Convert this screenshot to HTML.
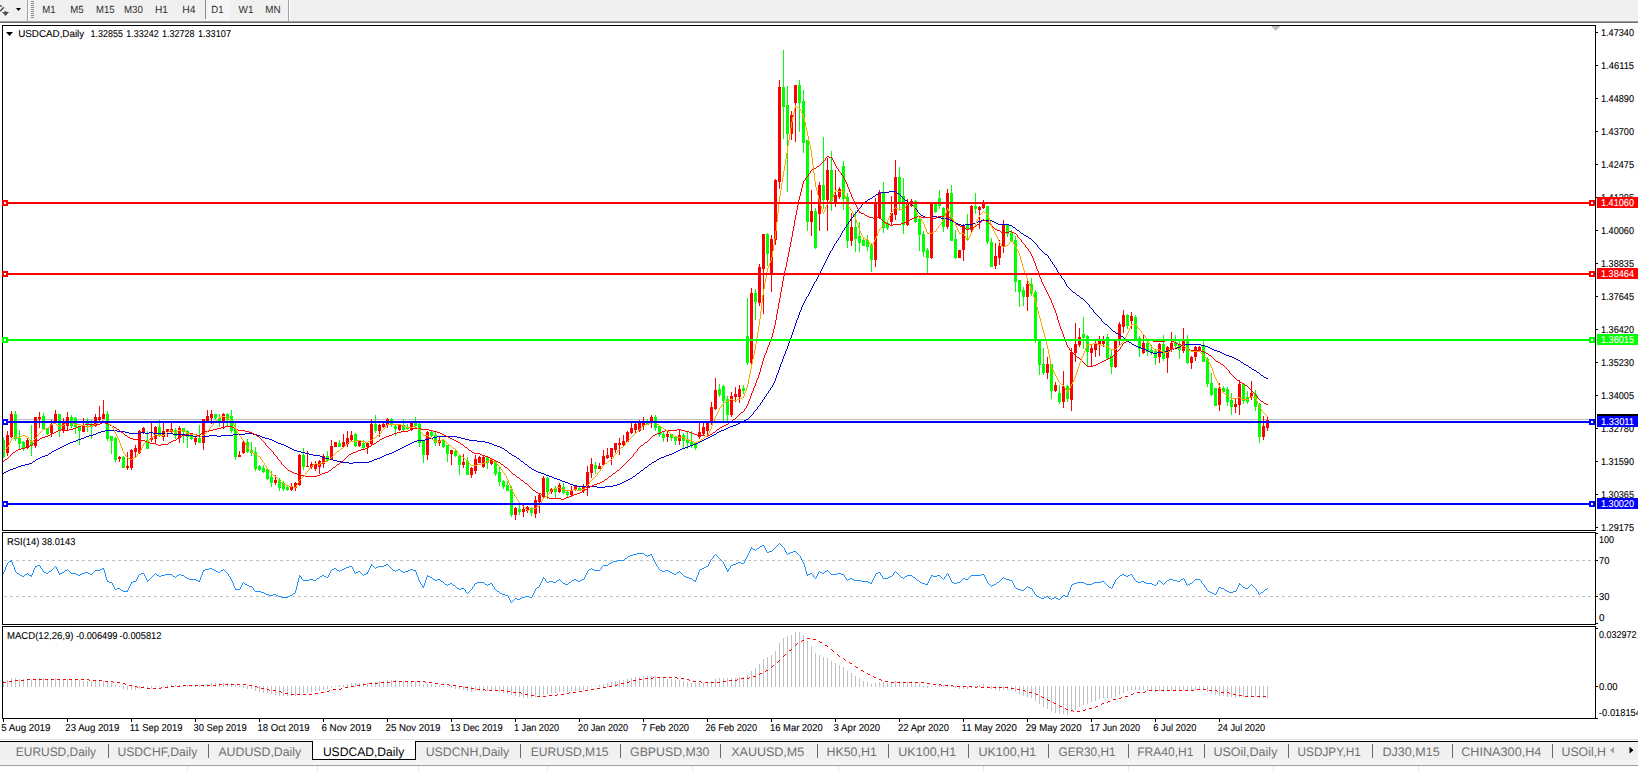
<!DOCTYPE html>
<html><head><meta charset="utf-8"><style>html,body{margin:0;padding:0;width:1638px;height:771px;overflow:hidden;background:#fff}text{font-family:"Liberation Sans",sans-serif}</style></head><body>
<svg width="1638" height="771" viewBox="0 0 1638 771" style="position:absolute;left:0;top:0" font-family="Liberation Sans, sans-serif">
<g shape-rendering="crispEdges">
<rect x="0" y="0" width="1638" height="771" fill="#ffffff"/>
<rect x="0" y="0" width="1638" height="21" fill="#f0f0f0"/>
<rect x="0" y="21" width="1638" height="1" fill="#a0a0a0"/>
<rect x="0" y="22" width="1638" height="1" fill="#6a6a6a"/>
<rect x="27" y="0" width="1" height="21" fill="#a0a0a0"/>
<rect x="28" y="0" width="1" height="21" fill="#ffffff"/>
<rect x="31" y="1" width="3" height="1" fill="#8a8a8a"/>
<rect x="31" y="3" width="3" height="1" fill="#8a8a8a"/>
<rect x="31" y="5" width="3" height="1" fill="#8a8a8a"/>
<rect x="31" y="7" width="3" height="1" fill="#8a8a8a"/>
<rect x="31" y="9" width="3" height="1" fill="#8a8a8a"/>
<rect x="31" y="11" width="3" height="1" fill="#8a8a8a"/>
<rect x="31" y="13" width="3" height="1" fill="#8a8a8a"/>
<rect x="31" y="15" width="3" height="1" fill="#8a8a8a"/>
<rect x="31" y="17" width="3" height="1" fill="#8a8a8a"/>
<rect x="205" y="0" width="1" height="19" fill="#8a8a8a"/>
<rect x="206" y="0" width="24" height="19" fill="#f5f5f5"/>
<rect x="206" y="19" width="24" height="1" fill="#fcfcfc"/>
<rect x="288" y="0" width="1" height="21" fill="#a0a0a0"/>
<rect x="289" y="0" width="1" height="21" fill="#ffffff"/>
</g>
<path d="M0 5.6 L1.8 6.2 M3.9 7.3 L0.1 11.3" stroke="#505050" stroke-width="1.5" fill="none"/>
<rect x="4.5" y="11.2" width="2" height="1.2" fill="#505050"/>
<polygon points="2,12 9,12 5.5,16" fill="#505050"/>
<polygon points="16,8 21,8 18.5,11" fill="#000"/>
<text x="42.2" y="13" font-size="10.4" fill="#303030" stroke="#303030" stroke-width="0" text-rendering="geometricPrecision" textLength="13.4" lengthAdjust="spacingAndGlyphs">M1</text>
<text x="70.2" y="13" font-size="10.4" fill="#303030" stroke="#303030" stroke-width="0" text-rendering="geometricPrecision" textLength="13.4" lengthAdjust="spacingAndGlyphs">M5</text>
<text x="96.0" y="13" font-size="10.4" fill="#303030" stroke="#303030" stroke-width="0" text-rendering="geometricPrecision" textLength="18.5" lengthAdjust="spacingAndGlyphs">M15</text>
<text x="124.0" y="13" font-size="10.4" fill="#303030" stroke="#303030" stroke-width="0" text-rendering="geometricPrecision" textLength="18.9" lengthAdjust="spacingAndGlyphs">M30</text>
<text x="155.0" y="13" font-size="10.4" fill="#303030" stroke="#303030" stroke-width="0" text-rendering="geometricPrecision" textLength="13.0" lengthAdjust="spacingAndGlyphs">H1</text>
<text x="182.2" y="13" font-size="10.4" fill="#303030" stroke="#303030" stroke-width="0" text-rendering="geometricPrecision" textLength="13.2" lengthAdjust="spacingAndGlyphs">H4</text>
<text x="211.3" y="13" font-size="10.4" fill="#303030" stroke="#303030" stroke-width="0" text-rendering="geometricPrecision" textLength="12.3" lengthAdjust="spacingAndGlyphs">D1</text>
<text x="238.5" y="13" font-size="10.4" fill="#303030" stroke="#303030" stroke-width="0" text-rendering="geometricPrecision" textLength="15" lengthAdjust="spacingAndGlyphs">W1</text>
<text x="265.3" y="13" font-size="10.4" fill="#303030" stroke="#303030" stroke-width="0" text-rendering="geometricPrecision" textLength="15.4" lengthAdjust="spacingAndGlyphs">MN</text>
<g shape-rendering="crispEdges">
<rect x="2" y="25" width="1594" height="1" fill="#000"/>
<rect x="2" y="530" width="1594" height="1" fill="#000"/>
<rect x="2" y="25" width="1" height="506" fill="#000"/>
<rect x="1595" y="25" width="1" height="506" fill="#000"/>
<rect x="2" y="532" width="1594" height="1" fill="#000"/>
<rect x="2" y="624" width="1594" height="1" fill="#000"/>
<rect x="2" y="532" width="1" height="93" fill="#000"/>
<rect x="1595" y="532" width="1" height="93" fill="#000"/>
<rect x="2" y="626" width="1594" height="1" fill="#000"/>
<rect x="2" y="718" width="1594" height="1" fill="#000"/>
<rect x="2" y="626" width="1" height="93" fill="#000"/>
<rect x="1595" y="626" width="1" height="93" fill="#000"/>
<rect x="1596" y="32" width="2" height="1" fill="#000"/>
<rect x="1596" y="65" width="2" height="1" fill="#000"/>
<rect x="1596" y="98" width="2" height="1" fill="#000"/>
<rect x="1596" y="131" width="2" height="1" fill="#000"/>
<rect x="1596" y="164" width="2" height="1" fill="#000"/>
<rect x="1596" y="197" width="2" height="1" fill="#000"/>
<rect x="1596" y="230" width="2" height="1" fill="#000"/>
<rect x="1596" y="263" width="2" height="1" fill="#000"/>
<rect x="1596" y="296" width="2" height="1" fill="#000"/>
<rect x="1596" y="329" width="2" height="1" fill="#000"/>
<rect x="1596" y="362" width="2" height="1" fill="#000"/>
<rect x="1596" y="395" width="2" height="1" fill="#000"/>
<rect x="1596" y="428" width="2" height="1" fill="#000"/>
<rect x="1596" y="461" width="2" height="1" fill="#000"/>
<rect x="1596" y="494" width="2" height="1" fill="#000"/>
<rect x="1596" y="527" width="2" height="1" fill="#000"/>
<rect x="1596" y="533" width="2" height="1" fill="#000"/>
<rect x="1596" y="560" width="2" height="1" fill="#000"/>
<rect x="1596" y="596" width="2" height="1" fill="#000"/>
<rect x="1596" y="623" width="2" height="1" fill="#000"/>
<rect x="1596" y="628" width="2" height="1" fill="#000"/>
<rect x="1596" y="686" width="2" height="1" fill="#000"/>
<rect x="1596" y="718" width="2" height="1" fill="#000"/>
<rect x="3" y="719" width="1" height="3" fill="#000"/>
<rect x="67" y="719" width="1" height="3" fill="#000"/>
<rect x="131" y="719" width="1" height="3" fill="#000"/>
<rect x="195" y="719" width="1" height="3" fill="#000"/>
<rect x="259" y="719" width="1" height="3" fill="#000"/>
<rect x="323" y="719" width="1" height="3" fill="#000"/>
<rect x="387" y="719" width="1" height="3" fill="#000"/>
<rect x="451" y="719" width="1" height="3" fill="#000"/>
<rect x="515" y="719" width="1" height="3" fill="#000"/>
<rect x="579" y="719" width="1" height="3" fill="#000"/>
<rect x="643" y="719" width="1" height="3" fill="#000"/>
<rect x="707" y="719" width="1" height="3" fill="#000"/>
<rect x="771" y="719" width="1" height="3" fill="#000"/>
<rect x="835" y="719" width="1" height="3" fill="#000"/>
<rect x="899" y="719" width="1" height="3" fill="#000"/>
<rect x="963" y="719" width="1" height="3" fill="#000"/>
<rect x="1027" y="719" width="1" height="3" fill="#000"/>
<rect x="1091" y="719" width="1" height="3" fill="#000"/>
<rect x="1155" y="719" width="1" height="3" fill="#000"/>
<rect x="1219" y="719" width="1" height="3" fill="#000"/>
<rect x="4" y="560" width="3" height="1" fill="#c0c0c0"/>
<rect x="10" y="560" width="3" height="1" fill="#c0c0c0"/>
<rect x="16" y="560" width="3" height="1" fill="#c0c0c0"/>
<rect x="22" y="560" width="3" height="1" fill="#c0c0c0"/>
<rect x="28" y="560" width="3" height="1" fill="#c0c0c0"/>
<rect x="34" y="560" width="3" height="1" fill="#c0c0c0"/>
<rect x="40" y="560" width="3" height="1" fill="#c0c0c0"/>
<rect x="46" y="560" width="3" height="1" fill="#c0c0c0"/>
<rect x="52" y="560" width="3" height="1" fill="#c0c0c0"/>
<rect x="58" y="560" width="3" height="1" fill="#c0c0c0"/>
<rect x="64" y="560" width="3" height="1" fill="#c0c0c0"/>
<rect x="70" y="560" width="3" height="1" fill="#c0c0c0"/>
<rect x="76" y="560" width="3" height="1" fill="#c0c0c0"/>
<rect x="82" y="560" width="3" height="1" fill="#c0c0c0"/>
<rect x="88" y="560" width="3" height="1" fill="#c0c0c0"/>
<rect x="94" y="560" width="3" height="1" fill="#c0c0c0"/>
<rect x="100" y="560" width="3" height="1" fill="#c0c0c0"/>
<rect x="106" y="560" width="3" height="1" fill="#c0c0c0"/>
<rect x="112" y="560" width="3" height="1" fill="#c0c0c0"/>
<rect x="118" y="560" width="3" height="1" fill="#c0c0c0"/>
<rect x="124" y="560" width="3" height="1" fill="#c0c0c0"/>
<rect x="130" y="560" width="3" height="1" fill="#c0c0c0"/>
<rect x="136" y="560" width="3" height="1" fill="#c0c0c0"/>
<rect x="142" y="560" width="3" height="1" fill="#c0c0c0"/>
<rect x="148" y="560" width="3" height="1" fill="#c0c0c0"/>
<rect x="154" y="560" width="3" height="1" fill="#c0c0c0"/>
<rect x="160" y="560" width="3" height="1" fill="#c0c0c0"/>
<rect x="166" y="560" width="3" height="1" fill="#c0c0c0"/>
<rect x="172" y="560" width="3" height="1" fill="#c0c0c0"/>
<rect x="178" y="560" width="3" height="1" fill="#c0c0c0"/>
<rect x="184" y="560" width="3" height="1" fill="#c0c0c0"/>
<rect x="190" y="560" width="3" height="1" fill="#c0c0c0"/>
<rect x="196" y="560" width="3" height="1" fill="#c0c0c0"/>
<rect x="202" y="560" width="3" height="1" fill="#c0c0c0"/>
<rect x="208" y="560" width="3" height="1" fill="#c0c0c0"/>
<rect x="214" y="560" width="3" height="1" fill="#c0c0c0"/>
<rect x="220" y="560" width="3" height="1" fill="#c0c0c0"/>
<rect x="226" y="560" width="3" height="1" fill="#c0c0c0"/>
<rect x="232" y="560" width="3" height="1" fill="#c0c0c0"/>
<rect x="238" y="560" width="3" height="1" fill="#c0c0c0"/>
<rect x="244" y="560" width="3" height="1" fill="#c0c0c0"/>
<rect x="250" y="560" width="3" height="1" fill="#c0c0c0"/>
<rect x="256" y="560" width="3" height="1" fill="#c0c0c0"/>
<rect x="262" y="560" width="3" height="1" fill="#c0c0c0"/>
<rect x="268" y="560" width="3" height="1" fill="#c0c0c0"/>
<rect x="274" y="560" width="3" height="1" fill="#c0c0c0"/>
<rect x="280" y="560" width="3" height="1" fill="#c0c0c0"/>
<rect x="286" y="560" width="3" height="1" fill="#c0c0c0"/>
<rect x="292" y="560" width="3" height="1" fill="#c0c0c0"/>
<rect x="298" y="560" width="3" height="1" fill="#c0c0c0"/>
<rect x="304" y="560" width="3" height="1" fill="#c0c0c0"/>
<rect x="310" y="560" width="3" height="1" fill="#c0c0c0"/>
<rect x="316" y="560" width="3" height="1" fill="#c0c0c0"/>
<rect x="322" y="560" width="3" height="1" fill="#c0c0c0"/>
<rect x="328" y="560" width="3" height="1" fill="#c0c0c0"/>
<rect x="334" y="560" width="3" height="1" fill="#c0c0c0"/>
<rect x="340" y="560" width="3" height="1" fill="#c0c0c0"/>
<rect x="346" y="560" width="3" height="1" fill="#c0c0c0"/>
<rect x="352" y="560" width="3" height="1" fill="#c0c0c0"/>
<rect x="358" y="560" width="3" height="1" fill="#c0c0c0"/>
<rect x="364" y="560" width="3" height="1" fill="#c0c0c0"/>
<rect x="370" y="560" width="3" height="1" fill="#c0c0c0"/>
<rect x="376" y="560" width="3" height="1" fill="#c0c0c0"/>
<rect x="382" y="560" width="3" height="1" fill="#c0c0c0"/>
<rect x="388" y="560" width="3" height="1" fill="#c0c0c0"/>
<rect x="394" y="560" width="3" height="1" fill="#c0c0c0"/>
<rect x="400" y="560" width="3" height="1" fill="#c0c0c0"/>
<rect x="406" y="560" width="3" height="1" fill="#c0c0c0"/>
<rect x="412" y="560" width="3" height="1" fill="#c0c0c0"/>
<rect x="418" y="560" width="3" height="1" fill="#c0c0c0"/>
<rect x="424" y="560" width="3" height="1" fill="#c0c0c0"/>
<rect x="430" y="560" width="3" height="1" fill="#c0c0c0"/>
<rect x="436" y="560" width="3" height="1" fill="#c0c0c0"/>
<rect x="442" y="560" width="3" height="1" fill="#c0c0c0"/>
<rect x="448" y="560" width="3" height="1" fill="#c0c0c0"/>
<rect x="454" y="560" width="3" height="1" fill="#c0c0c0"/>
<rect x="460" y="560" width="3" height="1" fill="#c0c0c0"/>
<rect x="466" y="560" width="3" height="1" fill="#c0c0c0"/>
<rect x="472" y="560" width="3" height="1" fill="#c0c0c0"/>
<rect x="478" y="560" width="3" height="1" fill="#c0c0c0"/>
<rect x="484" y="560" width="3" height="1" fill="#c0c0c0"/>
<rect x="490" y="560" width="3" height="1" fill="#c0c0c0"/>
<rect x="496" y="560" width="3" height="1" fill="#c0c0c0"/>
<rect x="502" y="560" width="3" height="1" fill="#c0c0c0"/>
<rect x="508" y="560" width="3" height="1" fill="#c0c0c0"/>
<rect x="514" y="560" width="3" height="1" fill="#c0c0c0"/>
<rect x="520" y="560" width="3" height="1" fill="#c0c0c0"/>
<rect x="526" y="560" width="3" height="1" fill="#c0c0c0"/>
<rect x="532" y="560" width="3" height="1" fill="#c0c0c0"/>
<rect x="538" y="560" width="3" height="1" fill="#c0c0c0"/>
<rect x="544" y="560" width="3" height="1" fill="#c0c0c0"/>
<rect x="550" y="560" width="3" height="1" fill="#c0c0c0"/>
<rect x="556" y="560" width="3" height="1" fill="#c0c0c0"/>
<rect x="562" y="560" width="3" height="1" fill="#c0c0c0"/>
<rect x="568" y="560" width="3" height="1" fill="#c0c0c0"/>
<rect x="574" y="560" width="3" height="1" fill="#c0c0c0"/>
<rect x="580" y="560" width="3" height="1" fill="#c0c0c0"/>
<rect x="586" y="560" width="3" height="1" fill="#c0c0c0"/>
<rect x="592" y="560" width="3" height="1" fill="#c0c0c0"/>
<rect x="598" y="560" width="3" height="1" fill="#c0c0c0"/>
<rect x="604" y="560" width="3" height="1" fill="#c0c0c0"/>
<rect x="610" y="560" width="3" height="1" fill="#c0c0c0"/>
<rect x="616" y="560" width="3" height="1" fill="#c0c0c0"/>
<rect x="622" y="560" width="3" height="1" fill="#c0c0c0"/>
<rect x="628" y="560" width="3" height="1" fill="#c0c0c0"/>
<rect x="634" y="560" width="3" height="1" fill="#c0c0c0"/>
<rect x="640" y="560" width="3" height="1" fill="#c0c0c0"/>
<rect x="646" y="560" width="3" height="1" fill="#c0c0c0"/>
<rect x="652" y="560" width="3" height="1" fill="#c0c0c0"/>
<rect x="658" y="560" width="3" height="1" fill="#c0c0c0"/>
<rect x="664" y="560" width="3" height="1" fill="#c0c0c0"/>
<rect x="670" y="560" width="3" height="1" fill="#c0c0c0"/>
<rect x="676" y="560" width="3" height="1" fill="#c0c0c0"/>
<rect x="682" y="560" width="3" height="1" fill="#c0c0c0"/>
<rect x="688" y="560" width="3" height="1" fill="#c0c0c0"/>
<rect x="694" y="560" width="3" height="1" fill="#c0c0c0"/>
<rect x="700" y="560" width="3" height="1" fill="#c0c0c0"/>
<rect x="706" y="560" width="3" height="1" fill="#c0c0c0"/>
<rect x="712" y="560" width="3" height="1" fill="#c0c0c0"/>
<rect x="718" y="560" width="3" height="1" fill="#c0c0c0"/>
<rect x="724" y="560" width="3" height="1" fill="#c0c0c0"/>
<rect x="730" y="560" width="3" height="1" fill="#c0c0c0"/>
<rect x="736" y="560" width="3" height="1" fill="#c0c0c0"/>
<rect x="742" y="560" width="3" height="1" fill="#c0c0c0"/>
<rect x="748" y="560" width="3" height="1" fill="#c0c0c0"/>
<rect x="754" y="560" width="3" height="1" fill="#c0c0c0"/>
<rect x="760" y="560" width="3" height="1" fill="#c0c0c0"/>
<rect x="766" y="560" width="3" height="1" fill="#c0c0c0"/>
<rect x="772" y="560" width="3" height="1" fill="#c0c0c0"/>
<rect x="778" y="560" width="3" height="1" fill="#c0c0c0"/>
<rect x="784" y="560" width="3" height="1" fill="#c0c0c0"/>
<rect x="790" y="560" width="3" height="1" fill="#c0c0c0"/>
<rect x="796" y="560" width="3" height="1" fill="#c0c0c0"/>
<rect x="802" y="560" width="3" height="1" fill="#c0c0c0"/>
<rect x="808" y="560" width="3" height="1" fill="#c0c0c0"/>
<rect x="814" y="560" width="3" height="1" fill="#c0c0c0"/>
<rect x="820" y="560" width="3" height="1" fill="#c0c0c0"/>
<rect x="826" y="560" width="3" height="1" fill="#c0c0c0"/>
<rect x="832" y="560" width="3" height="1" fill="#c0c0c0"/>
<rect x="838" y="560" width="3" height="1" fill="#c0c0c0"/>
<rect x="844" y="560" width="3" height="1" fill="#c0c0c0"/>
<rect x="850" y="560" width="3" height="1" fill="#c0c0c0"/>
<rect x="856" y="560" width="3" height="1" fill="#c0c0c0"/>
<rect x="862" y="560" width="3" height="1" fill="#c0c0c0"/>
<rect x="868" y="560" width="3" height="1" fill="#c0c0c0"/>
<rect x="874" y="560" width="3" height="1" fill="#c0c0c0"/>
<rect x="880" y="560" width="3" height="1" fill="#c0c0c0"/>
<rect x="886" y="560" width="3" height="1" fill="#c0c0c0"/>
<rect x="892" y="560" width="3" height="1" fill="#c0c0c0"/>
<rect x="898" y="560" width="3" height="1" fill="#c0c0c0"/>
<rect x="904" y="560" width="3" height="1" fill="#c0c0c0"/>
<rect x="910" y="560" width="3" height="1" fill="#c0c0c0"/>
<rect x="916" y="560" width="3" height="1" fill="#c0c0c0"/>
<rect x="922" y="560" width="3" height="1" fill="#c0c0c0"/>
<rect x="928" y="560" width="3" height="1" fill="#c0c0c0"/>
<rect x="934" y="560" width="3" height="1" fill="#c0c0c0"/>
<rect x="940" y="560" width="3" height="1" fill="#c0c0c0"/>
<rect x="946" y="560" width="3" height="1" fill="#c0c0c0"/>
<rect x="952" y="560" width="3" height="1" fill="#c0c0c0"/>
<rect x="958" y="560" width="3" height="1" fill="#c0c0c0"/>
<rect x="964" y="560" width="3" height="1" fill="#c0c0c0"/>
<rect x="970" y="560" width="3" height="1" fill="#c0c0c0"/>
<rect x="976" y="560" width="3" height="1" fill="#c0c0c0"/>
<rect x="982" y="560" width="3" height="1" fill="#c0c0c0"/>
<rect x="988" y="560" width="3" height="1" fill="#c0c0c0"/>
<rect x="994" y="560" width="3" height="1" fill="#c0c0c0"/>
<rect x="1000" y="560" width="3" height="1" fill="#c0c0c0"/>
<rect x="1006" y="560" width="3" height="1" fill="#c0c0c0"/>
<rect x="1012" y="560" width="3" height="1" fill="#c0c0c0"/>
<rect x="1018" y="560" width="3" height="1" fill="#c0c0c0"/>
<rect x="1024" y="560" width="3" height="1" fill="#c0c0c0"/>
<rect x="1030" y="560" width="3" height="1" fill="#c0c0c0"/>
<rect x="1036" y="560" width="3" height="1" fill="#c0c0c0"/>
<rect x="1042" y="560" width="3" height="1" fill="#c0c0c0"/>
<rect x="1048" y="560" width="3" height="1" fill="#c0c0c0"/>
<rect x="1054" y="560" width="3" height="1" fill="#c0c0c0"/>
<rect x="1060" y="560" width="3" height="1" fill="#c0c0c0"/>
<rect x="1066" y="560" width="3" height="1" fill="#c0c0c0"/>
<rect x="1072" y="560" width="3" height="1" fill="#c0c0c0"/>
<rect x="1078" y="560" width="3" height="1" fill="#c0c0c0"/>
<rect x="1084" y="560" width="3" height="1" fill="#c0c0c0"/>
<rect x="1090" y="560" width="3" height="1" fill="#c0c0c0"/>
<rect x="1096" y="560" width="3" height="1" fill="#c0c0c0"/>
<rect x="1102" y="560" width="3" height="1" fill="#c0c0c0"/>
<rect x="1108" y="560" width="3" height="1" fill="#c0c0c0"/>
<rect x="1114" y="560" width="3" height="1" fill="#c0c0c0"/>
<rect x="1120" y="560" width="3" height="1" fill="#c0c0c0"/>
<rect x="1126" y="560" width="3" height="1" fill="#c0c0c0"/>
<rect x="1132" y="560" width="3" height="1" fill="#c0c0c0"/>
<rect x="1138" y="560" width="3" height="1" fill="#c0c0c0"/>
<rect x="1144" y="560" width="3" height="1" fill="#c0c0c0"/>
<rect x="1150" y="560" width="3" height="1" fill="#c0c0c0"/>
<rect x="1156" y="560" width="3" height="1" fill="#c0c0c0"/>
<rect x="1162" y="560" width="3" height="1" fill="#c0c0c0"/>
<rect x="1168" y="560" width="3" height="1" fill="#c0c0c0"/>
<rect x="1174" y="560" width="3" height="1" fill="#c0c0c0"/>
<rect x="1180" y="560" width="3" height="1" fill="#c0c0c0"/>
<rect x="1186" y="560" width="3" height="1" fill="#c0c0c0"/>
<rect x="1192" y="560" width="3" height="1" fill="#c0c0c0"/>
<rect x="1198" y="560" width="3" height="1" fill="#c0c0c0"/>
<rect x="1204" y="560" width="3" height="1" fill="#c0c0c0"/>
<rect x="1210" y="560" width="3" height="1" fill="#c0c0c0"/>
<rect x="1216" y="560" width="3" height="1" fill="#c0c0c0"/>
<rect x="1222" y="560" width="3" height="1" fill="#c0c0c0"/>
<rect x="1228" y="560" width="3" height="1" fill="#c0c0c0"/>
<rect x="1234" y="560" width="3" height="1" fill="#c0c0c0"/>
<rect x="1240" y="560" width="3" height="1" fill="#c0c0c0"/>
<rect x="1246" y="560" width="3" height="1" fill="#c0c0c0"/>
<rect x="1252" y="560" width="3" height="1" fill="#c0c0c0"/>
<rect x="1258" y="560" width="3" height="1" fill="#c0c0c0"/>
<rect x="1264" y="560" width="3" height="1" fill="#c0c0c0"/>
<rect x="1270" y="560" width="3" height="1" fill="#c0c0c0"/>
<rect x="1276" y="560" width="3" height="1" fill="#c0c0c0"/>
<rect x="1282" y="560" width="3" height="1" fill="#c0c0c0"/>
<rect x="1288" y="560" width="3" height="1" fill="#c0c0c0"/>
<rect x="1294" y="560" width="3" height="1" fill="#c0c0c0"/>
<rect x="1300" y="560" width="3" height="1" fill="#c0c0c0"/>
<rect x="1306" y="560" width="3" height="1" fill="#c0c0c0"/>
<rect x="1312" y="560" width="3" height="1" fill="#c0c0c0"/>
<rect x="1318" y="560" width="3" height="1" fill="#c0c0c0"/>
<rect x="1324" y="560" width="3" height="1" fill="#c0c0c0"/>
<rect x="1330" y="560" width="3" height="1" fill="#c0c0c0"/>
<rect x="1336" y="560" width="3" height="1" fill="#c0c0c0"/>
<rect x="1342" y="560" width="3" height="1" fill="#c0c0c0"/>
<rect x="1348" y="560" width="3" height="1" fill="#c0c0c0"/>
<rect x="1354" y="560" width="3" height="1" fill="#c0c0c0"/>
<rect x="1360" y="560" width="3" height="1" fill="#c0c0c0"/>
<rect x="1366" y="560" width="3" height="1" fill="#c0c0c0"/>
<rect x="1372" y="560" width="3" height="1" fill="#c0c0c0"/>
<rect x="1378" y="560" width="3" height="1" fill="#c0c0c0"/>
<rect x="1384" y="560" width="3" height="1" fill="#c0c0c0"/>
<rect x="1390" y="560" width="3" height="1" fill="#c0c0c0"/>
<rect x="1396" y="560" width="3" height="1" fill="#c0c0c0"/>
<rect x="1402" y="560" width="3" height="1" fill="#c0c0c0"/>
<rect x="1408" y="560" width="3" height="1" fill="#c0c0c0"/>
<rect x="1414" y="560" width="3" height="1" fill="#c0c0c0"/>
<rect x="1420" y="560" width="3" height="1" fill="#c0c0c0"/>
<rect x="1426" y="560" width="3" height="1" fill="#c0c0c0"/>
<rect x="1432" y="560" width="3" height="1" fill="#c0c0c0"/>
<rect x="1438" y="560" width="3" height="1" fill="#c0c0c0"/>
<rect x="1444" y="560" width="3" height="1" fill="#c0c0c0"/>
<rect x="1450" y="560" width="3" height="1" fill="#c0c0c0"/>
<rect x="1456" y="560" width="3" height="1" fill="#c0c0c0"/>
<rect x="1462" y="560" width="3" height="1" fill="#c0c0c0"/>
<rect x="1468" y="560" width="3" height="1" fill="#c0c0c0"/>
<rect x="1474" y="560" width="3" height="1" fill="#c0c0c0"/>
<rect x="1480" y="560" width="3" height="1" fill="#c0c0c0"/>
<rect x="1486" y="560" width="3" height="1" fill="#c0c0c0"/>
<rect x="1492" y="560" width="3" height="1" fill="#c0c0c0"/>
<rect x="1498" y="560" width="3" height="1" fill="#c0c0c0"/>
<rect x="1504" y="560" width="3" height="1" fill="#c0c0c0"/>
<rect x="1510" y="560" width="3" height="1" fill="#c0c0c0"/>
<rect x="1516" y="560" width="3" height="1" fill="#c0c0c0"/>
<rect x="1522" y="560" width="3" height="1" fill="#c0c0c0"/>
<rect x="1528" y="560" width="3" height="1" fill="#c0c0c0"/>
<rect x="1534" y="560" width="3" height="1" fill="#c0c0c0"/>
<rect x="1540" y="560" width="3" height="1" fill="#c0c0c0"/>
<rect x="1546" y="560" width="3" height="1" fill="#c0c0c0"/>
<rect x="1552" y="560" width="3" height="1" fill="#c0c0c0"/>
<rect x="1558" y="560" width="3" height="1" fill="#c0c0c0"/>
<rect x="1564" y="560" width="3" height="1" fill="#c0c0c0"/>
<rect x="1570" y="560" width="3" height="1" fill="#c0c0c0"/>
<rect x="1576" y="560" width="3" height="1" fill="#c0c0c0"/>
<rect x="1582" y="560" width="3" height="1" fill="#c0c0c0"/>
<rect x="1588" y="560" width="3" height="1" fill="#c0c0c0"/>
<rect x="1594" y="560" width="1" height="1" fill="#c0c0c0"/>
<rect x="4" y="596" width="3" height="1" fill="#c0c0c0"/>
<rect x="10" y="596" width="3" height="1" fill="#c0c0c0"/>
<rect x="16" y="596" width="3" height="1" fill="#c0c0c0"/>
<rect x="22" y="596" width="3" height="1" fill="#c0c0c0"/>
<rect x="28" y="596" width="3" height="1" fill="#c0c0c0"/>
<rect x="34" y="596" width="3" height="1" fill="#c0c0c0"/>
<rect x="40" y="596" width="3" height="1" fill="#c0c0c0"/>
<rect x="46" y="596" width="3" height="1" fill="#c0c0c0"/>
<rect x="52" y="596" width="3" height="1" fill="#c0c0c0"/>
<rect x="58" y="596" width="3" height="1" fill="#c0c0c0"/>
<rect x="64" y="596" width="3" height="1" fill="#c0c0c0"/>
<rect x="70" y="596" width="3" height="1" fill="#c0c0c0"/>
<rect x="76" y="596" width="3" height="1" fill="#c0c0c0"/>
<rect x="82" y="596" width="3" height="1" fill="#c0c0c0"/>
<rect x="88" y="596" width="3" height="1" fill="#c0c0c0"/>
<rect x="94" y="596" width="3" height="1" fill="#c0c0c0"/>
<rect x="100" y="596" width="3" height="1" fill="#c0c0c0"/>
<rect x="106" y="596" width="3" height="1" fill="#c0c0c0"/>
<rect x="112" y="596" width="3" height="1" fill="#c0c0c0"/>
<rect x="118" y="596" width="3" height="1" fill="#c0c0c0"/>
<rect x="124" y="596" width="3" height="1" fill="#c0c0c0"/>
<rect x="130" y="596" width="3" height="1" fill="#c0c0c0"/>
<rect x="136" y="596" width="3" height="1" fill="#c0c0c0"/>
<rect x="142" y="596" width="3" height="1" fill="#c0c0c0"/>
<rect x="148" y="596" width="3" height="1" fill="#c0c0c0"/>
<rect x="154" y="596" width="3" height="1" fill="#c0c0c0"/>
<rect x="160" y="596" width="3" height="1" fill="#c0c0c0"/>
<rect x="166" y="596" width="3" height="1" fill="#c0c0c0"/>
<rect x="172" y="596" width="3" height="1" fill="#c0c0c0"/>
<rect x="178" y="596" width="3" height="1" fill="#c0c0c0"/>
<rect x="184" y="596" width="3" height="1" fill="#c0c0c0"/>
<rect x="190" y="596" width="3" height="1" fill="#c0c0c0"/>
<rect x="196" y="596" width="3" height="1" fill="#c0c0c0"/>
<rect x="202" y="596" width="3" height="1" fill="#c0c0c0"/>
<rect x="208" y="596" width="3" height="1" fill="#c0c0c0"/>
<rect x="214" y="596" width="3" height="1" fill="#c0c0c0"/>
<rect x="220" y="596" width="3" height="1" fill="#c0c0c0"/>
<rect x="226" y="596" width="3" height="1" fill="#c0c0c0"/>
<rect x="232" y="596" width="3" height="1" fill="#c0c0c0"/>
<rect x="238" y="596" width="3" height="1" fill="#c0c0c0"/>
<rect x="244" y="596" width="3" height="1" fill="#c0c0c0"/>
<rect x="250" y="596" width="3" height="1" fill="#c0c0c0"/>
<rect x="256" y="596" width="3" height="1" fill="#c0c0c0"/>
<rect x="262" y="596" width="3" height="1" fill="#c0c0c0"/>
<rect x="268" y="596" width="3" height="1" fill="#c0c0c0"/>
<rect x="274" y="596" width="3" height="1" fill="#c0c0c0"/>
<rect x="280" y="596" width="3" height="1" fill="#c0c0c0"/>
<rect x="286" y="596" width="3" height="1" fill="#c0c0c0"/>
<rect x="292" y="596" width="3" height="1" fill="#c0c0c0"/>
<rect x="298" y="596" width="3" height="1" fill="#c0c0c0"/>
<rect x="304" y="596" width="3" height="1" fill="#c0c0c0"/>
<rect x="310" y="596" width="3" height="1" fill="#c0c0c0"/>
<rect x="316" y="596" width="3" height="1" fill="#c0c0c0"/>
<rect x="322" y="596" width="3" height="1" fill="#c0c0c0"/>
<rect x="328" y="596" width="3" height="1" fill="#c0c0c0"/>
<rect x="334" y="596" width="3" height="1" fill="#c0c0c0"/>
<rect x="340" y="596" width="3" height="1" fill="#c0c0c0"/>
<rect x="346" y="596" width="3" height="1" fill="#c0c0c0"/>
<rect x="352" y="596" width="3" height="1" fill="#c0c0c0"/>
<rect x="358" y="596" width="3" height="1" fill="#c0c0c0"/>
<rect x="364" y="596" width="3" height="1" fill="#c0c0c0"/>
<rect x="370" y="596" width="3" height="1" fill="#c0c0c0"/>
<rect x="376" y="596" width="3" height="1" fill="#c0c0c0"/>
<rect x="382" y="596" width="3" height="1" fill="#c0c0c0"/>
<rect x="388" y="596" width="3" height="1" fill="#c0c0c0"/>
<rect x="394" y="596" width="3" height="1" fill="#c0c0c0"/>
<rect x="400" y="596" width="3" height="1" fill="#c0c0c0"/>
<rect x="406" y="596" width="3" height="1" fill="#c0c0c0"/>
<rect x="412" y="596" width="3" height="1" fill="#c0c0c0"/>
<rect x="418" y="596" width="3" height="1" fill="#c0c0c0"/>
<rect x="424" y="596" width="3" height="1" fill="#c0c0c0"/>
<rect x="430" y="596" width="3" height="1" fill="#c0c0c0"/>
<rect x="436" y="596" width="3" height="1" fill="#c0c0c0"/>
<rect x="442" y="596" width="3" height="1" fill="#c0c0c0"/>
<rect x="448" y="596" width="3" height="1" fill="#c0c0c0"/>
<rect x="454" y="596" width="3" height="1" fill="#c0c0c0"/>
<rect x="460" y="596" width="3" height="1" fill="#c0c0c0"/>
<rect x="466" y="596" width="3" height="1" fill="#c0c0c0"/>
<rect x="472" y="596" width="3" height="1" fill="#c0c0c0"/>
<rect x="478" y="596" width="3" height="1" fill="#c0c0c0"/>
<rect x="484" y="596" width="3" height="1" fill="#c0c0c0"/>
<rect x="490" y="596" width="3" height="1" fill="#c0c0c0"/>
<rect x="496" y="596" width="3" height="1" fill="#c0c0c0"/>
<rect x="502" y="596" width="3" height="1" fill="#c0c0c0"/>
<rect x="508" y="596" width="3" height="1" fill="#c0c0c0"/>
<rect x="514" y="596" width="3" height="1" fill="#c0c0c0"/>
<rect x="520" y="596" width="3" height="1" fill="#c0c0c0"/>
<rect x="526" y="596" width="3" height="1" fill="#c0c0c0"/>
<rect x="532" y="596" width="3" height="1" fill="#c0c0c0"/>
<rect x="538" y="596" width="3" height="1" fill="#c0c0c0"/>
<rect x="544" y="596" width="3" height="1" fill="#c0c0c0"/>
<rect x="550" y="596" width="3" height="1" fill="#c0c0c0"/>
<rect x="556" y="596" width="3" height="1" fill="#c0c0c0"/>
<rect x="562" y="596" width="3" height="1" fill="#c0c0c0"/>
<rect x="568" y="596" width="3" height="1" fill="#c0c0c0"/>
<rect x="574" y="596" width="3" height="1" fill="#c0c0c0"/>
<rect x="580" y="596" width="3" height="1" fill="#c0c0c0"/>
<rect x="586" y="596" width="3" height="1" fill="#c0c0c0"/>
<rect x="592" y="596" width="3" height="1" fill="#c0c0c0"/>
<rect x="598" y="596" width="3" height="1" fill="#c0c0c0"/>
<rect x="604" y="596" width="3" height="1" fill="#c0c0c0"/>
<rect x="610" y="596" width="3" height="1" fill="#c0c0c0"/>
<rect x="616" y="596" width="3" height="1" fill="#c0c0c0"/>
<rect x="622" y="596" width="3" height="1" fill="#c0c0c0"/>
<rect x="628" y="596" width="3" height="1" fill="#c0c0c0"/>
<rect x="634" y="596" width="3" height="1" fill="#c0c0c0"/>
<rect x="640" y="596" width="3" height="1" fill="#c0c0c0"/>
<rect x="646" y="596" width="3" height="1" fill="#c0c0c0"/>
<rect x="652" y="596" width="3" height="1" fill="#c0c0c0"/>
<rect x="658" y="596" width="3" height="1" fill="#c0c0c0"/>
<rect x="664" y="596" width="3" height="1" fill="#c0c0c0"/>
<rect x="670" y="596" width="3" height="1" fill="#c0c0c0"/>
<rect x="676" y="596" width="3" height="1" fill="#c0c0c0"/>
<rect x="682" y="596" width="3" height="1" fill="#c0c0c0"/>
<rect x="688" y="596" width="3" height="1" fill="#c0c0c0"/>
<rect x="694" y="596" width="3" height="1" fill="#c0c0c0"/>
<rect x="700" y="596" width="3" height="1" fill="#c0c0c0"/>
<rect x="706" y="596" width="3" height="1" fill="#c0c0c0"/>
<rect x="712" y="596" width="3" height="1" fill="#c0c0c0"/>
<rect x="718" y="596" width="3" height="1" fill="#c0c0c0"/>
<rect x="724" y="596" width="3" height="1" fill="#c0c0c0"/>
<rect x="730" y="596" width="3" height="1" fill="#c0c0c0"/>
<rect x="736" y="596" width="3" height="1" fill="#c0c0c0"/>
<rect x="742" y="596" width="3" height="1" fill="#c0c0c0"/>
<rect x="748" y="596" width="3" height="1" fill="#c0c0c0"/>
<rect x="754" y="596" width="3" height="1" fill="#c0c0c0"/>
<rect x="760" y="596" width="3" height="1" fill="#c0c0c0"/>
<rect x="766" y="596" width="3" height="1" fill="#c0c0c0"/>
<rect x="772" y="596" width="3" height="1" fill="#c0c0c0"/>
<rect x="778" y="596" width="3" height="1" fill="#c0c0c0"/>
<rect x="784" y="596" width="3" height="1" fill="#c0c0c0"/>
<rect x="790" y="596" width="3" height="1" fill="#c0c0c0"/>
<rect x="796" y="596" width="3" height="1" fill="#c0c0c0"/>
<rect x="802" y="596" width="3" height="1" fill="#c0c0c0"/>
<rect x="808" y="596" width="3" height="1" fill="#c0c0c0"/>
<rect x="814" y="596" width="3" height="1" fill="#c0c0c0"/>
<rect x="820" y="596" width="3" height="1" fill="#c0c0c0"/>
<rect x="826" y="596" width="3" height="1" fill="#c0c0c0"/>
<rect x="832" y="596" width="3" height="1" fill="#c0c0c0"/>
<rect x="838" y="596" width="3" height="1" fill="#c0c0c0"/>
<rect x="844" y="596" width="3" height="1" fill="#c0c0c0"/>
<rect x="850" y="596" width="3" height="1" fill="#c0c0c0"/>
<rect x="856" y="596" width="3" height="1" fill="#c0c0c0"/>
<rect x="862" y="596" width="3" height="1" fill="#c0c0c0"/>
<rect x="868" y="596" width="3" height="1" fill="#c0c0c0"/>
<rect x="874" y="596" width="3" height="1" fill="#c0c0c0"/>
<rect x="880" y="596" width="3" height="1" fill="#c0c0c0"/>
<rect x="886" y="596" width="3" height="1" fill="#c0c0c0"/>
<rect x="892" y="596" width="3" height="1" fill="#c0c0c0"/>
<rect x="898" y="596" width="3" height="1" fill="#c0c0c0"/>
<rect x="904" y="596" width="3" height="1" fill="#c0c0c0"/>
<rect x="910" y="596" width="3" height="1" fill="#c0c0c0"/>
<rect x="916" y="596" width="3" height="1" fill="#c0c0c0"/>
<rect x="922" y="596" width="3" height="1" fill="#c0c0c0"/>
<rect x="928" y="596" width="3" height="1" fill="#c0c0c0"/>
<rect x="934" y="596" width="3" height="1" fill="#c0c0c0"/>
<rect x="940" y="596" width="3" height="1" fill="#c0c0c0"/>
<rect x="946" y="596" width="3" height="1" fill="#c0c0c0"/>
<rect x="952" y="596" width="3" height="1" fill="#c0c0c0"/>
<rect x="958" y="596" width="3" height="1" fill="#c0c0c0"/>
<rect x="964" y="596" width="3" height="1" fill="#c0c0c0"/>
<rect x="970" y="596" width="3" height="1" fill="#c0c0c0"/>
<rect x="976" y="596" width="3" height="1" fill="#c0c0c0"/>
<rect x="982" y="596" width="3" height="1" fill="#c0c0c0"/>
<rect x="988" y="596" width="3" height="1" fill="#c0c0c0"/>
<rect x="994" y="596" width="3" height="1" fill="#c0c0c0"/>
<rect x="1000" y="596" width="3" height="1" fill="#c0c0c0"/>
<rect x="1006" y="596" width="3" height="1" fill="#c0c0c0"/>
<rect x="1012" y="596" width="3" height="1" fill="#c0c0c0"/>
<rect x="1018" y="596" width="3" height="1" fill="#c0c0c0"/>
<rect x="1024" y="596" width="3" height="1" fill="#c0c0c0"/>
<rect x="1030" y="596" width="3" height="1" fill="#c0c0c0"/>
<rect x="1036" y="596" width="3" height="1" fill="#c0c0c0"/>
<rect x="1042" y="596" width="3" height="1" fill="#c0c0c0"/>
<rect x="1048" y="596" width="3" height="1" fill="#c0c0c0"/>
<rect x="1054" y="596" width="3" height="1" fill="#c0c0c0"/>
<rect x="1060" y="596" width="3" height="1" fill="#c0c0c0"/>
<rect x="1066" y="596" width="3" height="1" fill="#c0c0c0"/>
<rect x="1072" y="596" width="3" height="1" fill="#c0c0c0"/>
<rect x="1078" y="596" width="3" height="1" fill="#c0c0c0"/>
<rect x="1084" y="596" width="3" height="1" fill="#c0c0c0"/>
<rect x="1090" y="596" width="3" height="1" fill="#c0c0c0"/>
<rect x="1096" y="596" width="3" height="1" fill="#c0c0c0"/>
<rect x="1102" y="596" width="3" height="1" fill="#c0c0c0"/>
<rect x="1108" y="596" width="3" height="1" fill="#c0c0c0"/>
<rect x="1114" y="596" width="3" height="1" fill="#c0c0c0"/>
<rect x="1120" y="596" width="3" height="1" fill="#c0c0c0"/>
<rect x="1126" y="596" width="3" height="1" fill="#c0c0c0"/>
<rect x="1132" y="596" width="3" height="1" fill="#c0c0c0"/>
<rect x="1138" y="596" width="3" height="1" fill="#c0c0c0"/>
<rect x="1144" y="596" width="3" height="1" fill="#c0c0c0"/>
<rect x="1150" y="596" width="3" height="1" fill="#c0c0c0"/>
<rect x="1156" y="596" width="3" height="1" fill="#c0c0c0"/>
<rect x="1162" y="596" width="3" height="1" fill="#c0c0c0"/>
<rect x="1168" y="596" width="3" height="1" fill="#c0c0c0"/>
<rect x="1174" y="596" width="3" height="1" fill="#c0c0c0"/>
<rect x="1180" y="596" width="3" height="1" fill="#c0c0c0"/>
<rect x="1186" y="596" width="3" height="1" fill="#c0c0c0"/>
<rect x="1192" y="596" width="3" height="1" fill="#c0c0c0"/>
<rect x="1198" y="596" width="3" height="1" fill="#c0c0c0"/>
<rect x="1204" y="596" width="3" height="1" fill="#c0c0c0"/>
<rect x="1210" y="596" width="3" height="1" fill="#c0c0c0"/>
<rect x="1216" y="596" width="3" height="1" fill="#c0c0c0"/>
<rect x="1222" y="596" width="3" height="1" fill="#c0c0c0"/>
<rect x="1228" y="596" width="3" height="1" fill="#c0c0c0"/>
<rect x="1234" y="596" width="3" height="1" fill="#c0c0c0"/>
<rect x="1240" y="596" width="3" height="1" fill="#c0c0c0"/>
<rect x="1246" y="596" width="3" height="1" fill="#c0c0c0"/>
<rect x="1252" y="596" width="3" height="1" fill="#c0c0c0"/>
<rect x="1258" y="596" width="3" height="1" fill="#c0c0c0"/>
<rect x="1264" y="596" width="3" height="1" fill="#c0c0c0"/>
<rect x="1270" y="596" width="3" height="1" fill="#c0c0c0"/>
<rect x="1276" y="596" width="3" height="1" fill="#c0c0c0"/>
<rect x="1282" y="596" width="3" height="1" fill="#c0c0c0"/>
<rect x="1288" y="596" width="3" height="1" fill="#c0c0c0"/>
<rect x="1294" y="596" width="3" height="1" fill="#c0c0c0"/>
<rect x="1300" y="596" width="3" height="1" fill="#c0c0c0"/>
<rect x="1306" y="596" width="3" height="1" fill="#c0c0c0"/>
<rect x="1312" y="596" width="3" height="1" fill="#c0c0c0"/>
<rect x="1318" y="596" width="3" height="1" fill="#c0c0c0"/>
<rect x="1324" y="596" width="3" height="1" fill="#c0c0c0"/>
<rect x="1330" y="596" width="3" height="1" fill="#c0c0c0"/>
<rect x="1336" y="596" width="3" height="1" fill="#c0c0c0"/>
<rect x="1342" y="596" width="3" height="1" fill="#c0c0c0"/>
<rect x="1348" y="596" width="3" height="1" fill="#c0c0c0"/>
<rect x="1354" y="596" width="3" height="1" fill="#c0c0c0"/>
<rect x="1360" y="596" width="3" height="1" fill="#c0c0c0"/>
<rect x="1366" y="596" width="3" height="1" fill="#c0c0c0"/>
<rect x="1372" y="596" width="3" height="1" fill="#c0c0c0"/>
<rect x="1378" y="596" width="3" height="1" fill="#c0c0c0"/>
<rect x="1384" y="596" width="3" height="1" fill="#c0c0c0"/>
<rect x="1390" y="596" width="3" height="1" fill="#c0c0c0"/>
<rect x="1396" y="596" width="3" height="1" fill="#c0c0c0"/>
<rect x="1402" y="596" width="3" height="1" fill="#c0c0c0"/>
<rect x="1408" y="596" width="3" height="1" fill="#c0c0c0"/>
<rect x="1414" y="596" width="3" height="1" fill="#c0c0c0"/>
<rect x="1420" y="596" width="3" height="1" fill="#c0c0c0"/>
<rect x="1426" y="596" width="3" height="1" fill="#c0c0c0"/>
<rect x="1432" y="596" width="3" height="1" fill="#c0c0c0"/>
<rect x="1438" y="596" width="3" height="1" fill="#c0c0c0"/>
<rect x="1444" y="596" width="3" height="1" fill="#c0c0c0"/>
<rect x="1450" y="596" width="3" height="1" fill="#c0c0c0"/>
<rect x="1456" y="596" width="3" height="1" fill="#c0c0c0"/>
<rect x="1462" y="596" width="3" height="1" fill="#c0c0c0"/>
<rect x="1468" y="596" width="3" height="1" fill="#c0c0c0"/>
<rect x="1474" y="596" width="3" height="1" fill="#c0c0c0"/>
<rect x="1480" y="596" width="3" height="1" fill="#c0c0c0"/>
<rect x="1486" y="596" width="3" height="1" fill="#c0c0c0"/>
<rect x="1492" y="596" width="3" height="1" fill="#c0c0c0"/>
<rect x="1498" y="596" width="3" height="1" fill="#c0c0c0"/>
<rect x="1504" y="596" width="3" height="1" fill="#c0c0c0"/>
<rect x="1510" y="596" width="3" height="1" fill="#c0c0c0"/>
<rect x="1516" y="596" width="3" height="1" fill="#c0c0c0"/>
<rect x="1522" y="596" width="3" height="1" fill="#c0c0c0"/>
<rect x="1528" y="596" width="3" height="1" fill="#c0c0c0"/>
<rect x="1534" y="596" width="3" height="1" fill="#c0c0c0"/>
<rect x="1540" y="596" width="3" height="1" fill="#c0c0c0"/>
<rect x="1546" y="596" width="3" height="1" fill="#c0c0c0"/>
<rect x="1552" y="596" width="3" height="1" fill="#c0c0c0"/>
<rect x="1558" y="596" width="3" height="1" fill="#c0c0c0"/>
<rect x="1564" y="596" width="3" height="1" fill="#c0c0c0"/>
<rect x="1570" y="596" width="3" height="1" fill="#c0c0c0"/>
<rect x="1576" y="596" width="3" height="1" fill="#c0c0c0"/>
<rect x="1582" y="596" width="3" height="1" fill="#c0c0c0"/>
<rect x="1588" y="596" width="3" height="1" fill="#c0c0c0"/>
<rect x="1594" y="596" width="1" height="1" fill="#c0c0c0"/>
<rect x="3" y="419" width="1592" height="1" fill="#c0c0c0"/>
</g>
<defs><clipPath id="cm"><rect x="3" y="26" width="1592" height="504"/></clipPath><clipPath id="cr"><rect x="3" y="533" width="1592" height="91"/></clipPath><clipPath id="cd"><rect x="3" y="627" width="1592" height="91"/></clipPath></defs>
<g clip-path="url(#cm)" shape-rendering="crispEdges">
<rect x="3" y="437" width="1" height="21" fill="#00ff00"/>
<rect x="2" y="440" width="3" height="17" fill="#00ff00"/>
<rect x="7" y="431" width="1" height="25" fill="#ff0000"/>
<rect x="6" y="435" width="3" height="18" fill="#ff0000"/>
<rect x="11" y="411" width="1" height="27" fill="#ff0000"/>
<rect x="10" y="414" width="3" height="23" fill="#ff0000"/>
<rect x="15" y="411" width="1" height="30" fill="#00ff00"/>
<rect x="14" y="414" width="3" height="25" fill="#00ff00"/>
<rect x="19" y="430" width="1" height="20" fill="#00ff00"/>
<rect x="18" y="438" width="3" height="6" fill="#00ff00"/>
<rect x="23" y="441" width="1" height="10" fill="#00ff00"/>
<rect x="22" y="442" width="3" height="7" fill="#00ff00"/>
<rect x="27" y="438" width="1" height="11" fill="#ff0000"/>
<rect x="26" y="440" width="3" height="8" fill="#ff0000"/>
<rect x="31" y="425" width="1" height="31" fill="#00ff00"/>
<rect x="30" y="441" width="3" height="5" fill="#00ff00"/>
<rect x="35" y="417" width="1" height="31" fill="#ff0000"/>
<rect x="34" y="417" width="3" height="29" fill="#ff0000"/>
<rect x="39" y="412" width="1" height="16" fill="#ff0000"/>
<rect x="38" y="417" width="3" height="2" fill="#ff0000"/>
<rect x="43" y="413" width="1" height="17" fill="#00ff00"/>
<rect x="42" y="416" width="3" height="13" fill="#00ff00"/>
<rect x="47" y="428" width="1" height="7" fill="#00ff00"/>
<rect x="46" y="428" width="3" height="6" fill="#00ff00"/>
<rect x="51" y="420" width="1" height="17" fill="#ff0000"/>
<rect x="50" y="424" width="3" height="9" fill="#ff0000"/>
<rect x="55" y="410" width="1" height="12" fill="#ff0000"/>
<rect x="54" y="414" width="3" height="7" fill="#ff0000"/>
<rect x="59" y="414" width="1" height="23" fill="#00ff00"/>
<rect x="58" y="414" width="3" height="17" fill="#00ff00"/>
<rect x="63" y="418" width="1" height="15" fill="#ff0000"/>
<rect x="62" y="423" width="3" height="8" fill="#ff0000"/>
<rect x="67" y="412" width="1" height="19" fill="#ff0000"/>
<rect x="66" y="417" width="3" height="9" fill="#ff0000"/>
<rect x="71" y="415" width="1" height="13" fill="#00ff00"/>
<rect x="70" y="417" width="3" height="9" fill="#00ff00"/>
<rect x="75" y="417" width="1" height="17" fill="#00ff00"/>
<rect x="74" y="418" width="3" height="9" fill="#00ff00"/>
<rect x="79" y="426" width="1" height="19" fill="#00ff00"/>
<rect x="78" y="427" width="3" height="4" fill="#00ff00"/>
<rect x="83" y="418" width="1" height="14" fill="#ff0000"/>
<rect x="82" y="426" width="3" height="6" fill="#ff0000"/>
<rect x="87" y="418" width="1" height="14" fill="#00ff00"/>
<rect x="86" y="422" width="3" height="3" fill="#00ff00"/>
<rect x="91" y="420" width="1" height="19" fill="#00ff00"/>
<rect x="90" y="424" width="3" height="3" fill="#00ff00"/>
<rect x="95" y="414" width="1" height="13" fill="#ff0000"/>
<rect x="94" y="417" width="3" height="9" fill="#ff0000"/>
<rect x="99" y="406" width="1" height="15" fill="#ff0000"/>
<rect x="98" y="417" width="3" height="3" fill="#ff0000"/>
<rect x="103" y="400" width="1" height="19" fill="#ff0000"/>
<rect x="102" y="414" width="3" height="5" fill="#ff0000"/>
<rect x="107" y="411" width="1" height="30" fill="#00ff00"/>
<rect x="106" y="414" width="3" height="25" fill="#00ff00"/>
<rect x="111" y="436" width="1" height="18" fill="#00ff00"/>
<rect x="110" y="436" width="3" height="5" fill="#00ff00"/>
<rect x="115" y="437" width="1" height="25" fill="#00ff00"/>
<rect x="114" y="438" width="3" height="22" fill="#00ff00"/>
<rect x="119" y="456" width="1" height="6" fill="#ff0000"/>
<rect x="118" y="457" width="3" height="2" fill="#ff0000"/>
<rect x="123" y="456" width="1" height="12" fill="#00ff00"/>
<rect x="122" y="457" width="3" height="11" fill="#00ff00"/>
<rect x="127" y="452" width="1" height="18" fill="#ff0000"/>
<rect x="126" y="466" width="3" height="2" fill="#ff0000"/>
<rect x="131" y="449" width="1" height="21" fill="#ff0000"/>
<rect x="130" y="450" width="3" height="18" fill="#ff0000"/>
<rect x="135" y="445" width="1" height="13" fill="#ff0000"/>
<rect x="134" y="448" width="3" height="4" fill="#ff0000"/>
<rect x="139" y="430" width="1" height="24" fill="#ff0000"/>
<rect x="138" y="431" width="3" height="22" fill="#ff0000"/>
<rect x="143" y="427" width="1" height="7" fill="#ff0000"/>
<rect x="142" y="428" width="3" height="4" fill="#ff0000"/>
<rect x="147" y="431" width="1" height="18" fill="#00ff00"/>
<rect x="146" y="440" width="3" height="9" fill="#00ff00"/>
<rect x="151" y="422" width="1" height="20" fill="#ff0000"/>
<rect x="150" y="438" width="3" height="2" fill="#ff0000"/>
<rect x="155" y="426" width="1" height="17" fill="#ff0000"/>
<rect x="154" y="427" width="3" height="12" fill="#ff0000"/>
<rect x="159" y="420" width="1" height="17" fill="#00ff00"/>
<rect x="158" y="427" width="3" height="8" fill="#00ff00"/>
<rect x="163" y="422" width="1" height="19" fill="#ff0000"/>
<rect x="162" y="431" width="3" height="6" fill="#ff0000"/>
<rect x="167" y="429" width="1" height="8" fill="#ff0000"/>
<rect x="166" y="429" width="3" height="3" fill="#ff0000"/>
<rect x="171" y="422" width="1" height="12" fill="#ff0000"/>
<rect x="170" y="429" width="3" height="3" fill="#ff0000"/>
<rect x="175" y="428" width="1" height="11" fill="#00ff00"/>
<rect x="174" y="430" width="3" height="6" fill="#00ff00"/>
<rect x="179" y="426" width="1" height="17" fill="#ff0000"/>
<rect x="178" y="428" width="3" height="10" fill="#ff0000"/>
<rect x="183" y="428" width="1" height="15" fill="#00ff00"/>
<rect x="182" y="428" width="3" height="4" fill="#00ff00"/>
<rect x="187" y="430" width="1" height="18" fill="#00ff00"/>
<rect x="186" y="431" width="3" height="6" fill="#00ff00"/>
<rect x="191" y="433" width="1" height="7" fill="#00ff00"/>
<rect x="190" y="433" width="3" height="6" fill="#00ff00"/>
<rect x="195" y="436" width="1" height="9" fill="#ff0000"/>
<rect x="194" y="438" width="3" height="4" fill="#ff0000"/>
<rect x="199" y="425" width="1" height="18" fill="#00ff00"/>
<rect x="198" y="438" width="3" height="5" fill="#00ff00"/>
<rect x="203" y="419" width="1" height="31" fill="#ff0000"/>
<rect x="202" y="419" width="3" height="24" fill="#ff0000"/>
<rect x="207" y="410" width="1" height="12" fill="#ff0000"/>
<rect x="206" y="416" width="3" height="5" fill="#ff0000"/>
<rect x="211" y="410" width="1" height="14" fill="#ff0000"/>
<rect x="210" y="414" width="3" height="4" fill="#ff0000"/>
<rect x="215" y="414" width="1" height="6" fill="#00ff00"/>
<rect x="214" y="414" width="3" height="4" fill="#00ff00"/>
<rect x="219" y="414" width="1" height="13" fill="#00ff00"/>
<rect x="218" y="418" width="3" height="4" fill="#00ff00"/>
<rect x="223" y="413" width="1" height="16" fill="#ff0000"/>
<rect x="222" y="414" width="3" height="8" fill="#ff0000"/>
<rect x="227" y="413" width="1" height="13" fill="#00ff00"/>
<rect x="226" y="414" width="3" height="6" fill="#00ff00"/>
<rect x="231" y="410" width="1" height="23" fill="#00ff00"/>
<rect x="230" y="416" width="3" height="15" fill="#00ff00"/>
<rect x="235" y="423" width="1" height="37" fill="#00ff00"/>
<rect x="234" y="429" width="3" height="28" fill="#00ff00"/>
<rect x="239" y="451" width="1" height="6" fill="#ff0000"/>
<rect x="238" y="455" width="3" height="2" fill="#ff0000"/>
<rect x="243" y="441" width="1" height="13" fill="#ff0000"/>
<rect x="242" y="442" width="3" height="11" fill="#ff0000"/>
<rect x="247" y="439" width="1" height="14" fill="#00ff00"/>
<rect x="246" y="442" width="3" height="10" fill="#00ff00"/>
<rect x="251" y="442" width="1" height="14" fill="#00ff00"/>
<rect x="250" y="450" width="3" height="3" fill="#00ff00"/>
<rect x="255" y="447" width="1" height="24" fill="#00ff00"/>
<rect x="254" y="452" width="3" height="17" fill="#00ff00"/>
<rect x="259" y="465" width="1" height="6" fill="#00ff00"/>
<rect x="258" y="466" width="3" height="4" fill="#00ff00"/>
<rect x="263" y="465" width="1" height="8" fill="#00ff00"/>
<rect x="262" y="468" width="3" height="4" fill="#00ff00"/>
<rect x="267" y="468" width="1" height="12" fill="#00ff00"/>
<rect x="266" y="469" width="3" height="10" fill="#00ff00"/>
<rect x="271" y="471" width="1" height="16" fill="#00ff00"/>
<rect x="270" y="477" width="3" height="6" fill="#00ff00"/>
<rect x="275" y="475" width="1" height="10" fill="#ff0000"/>
<rect x="274" y="480" width="3" height="3" fill="#ff0000"/>
<rect x="279" y="478" width="1" height="13" fill="#00ff00"/>
<rect x="278" y="480" width="3" height="8" fill="#00ff00"/>
<rect x="283" y="481" width="1" height="10" fill="#00ff00"/>
<rect x="282" y="483" width="3" height="6" fill="#00ff00"/>
<rect x="287" y="485" width="1" height="6" fill="#00ff00"/>
<rect x="286" y="487" width="3" height="3" fill="#00ff00"/>
<rect x="291" y="483" width="1" height="8" fill="#ff0000"/>
<rect x="290" y="487" width="3" height="3" fill="#ff0000"/>
<rect x="295" y="482" width="1" height="9" fill="#ff0000"/>
<rect x="294" y="483" width="3" height="5" fill="#ff0000"/>
<rect x="299" y="454" width="1" height="32" fill="#ff0000"/>
<rect x="298" y="455" width="3" height="30" fill="#ff0000"/>
<rect x="303" y="448" width="1" height="22" fill="#00ff00"/>
<rect x="302" y="455" width="3" height="12" fill="#00ff00"/>
<rect x="307" y="451" width="1" height="16" fill="#ff0000"/>
<rect x="306" y="466" width="3" height="1" fill="#ff0000"/>
<rect x="311" y="462" width="1" height="7" fill="#ff0000"/>
<rect x="310" y="464" width="3" height="3" fill="#ff0000"/>
<rect x="315" y="461" width="1" height="10" fill="#ff0000"/>
<rect x="314" y="464" width="3" height="5" fill="#ff0000"/>
<rect x="319" y="460" width="1" height="14" fill="#ff0000"/>
<rect x="318" y="461" width="3" height="6" fill="#ff0000"/>
<rect x="323" y="454" width="1" height="14" fill="#ff0000"/>
<rect x="322" y="456" width="3" height="8" fill="#ff0000"/>
<rect x="327" y="451" width="1" height="10" fill="#00ff00"/>
<rect x="326" y="456" width="3" height="5" fill="#00ff00"/>
<rect x="331" y="440" width="1" height="20" fill="#ff0000"/>
<rect x="330" y="446" width="3" height="13" fill="#ff0000"/>
<rect x="335" y="442" width="1" height="5" fill="#ff0000"/>
<rect x="334" y="442" width="3" height="5" fill="#ff0000"/>
<rect x="339" y="440" width="1" height="7" fill="#00ff00"/>
<rect x="338" y="443" width="3" height="4" fill="#00ff00"/>
<rect x="343" y="434" width="1" height="13" fill="#ff0000"/>
<rect x="342" y="442" width="3" height="5" fill="#ff0000"/>
<rect x="347" y="431" width="1" height="16" fill="#ff0000"/>
<rect x="346" y="438" width="3" height="6" fill="#ff0000"/>
<rect x="351" y="431" width="1" height="10" fill="#ff0000"/>
<rect x="350" y="435" width="3" height="5" fill="#ff0000"/>
<rect x="355" y="433" width="1" height="14" fill="#00ff00"/>
<rect x="354" y="434" width="3" height="12" fill="#00ff00"/>
<rect x="359" y="441" width="1" height="6" fill="#ff0000"/>
<rect x="358" y="441" width="3" height="5" fill="#ff0000"/>
<rect x="363" y="440" width="1" height="9" fill="#00ff00"/>
<rect x="362" y="443" width="3" height="5" fill="#00ff00"/>
<rect x="367" y="443" width="1" height="11" fill="#ff0000"/>
<rect x="366" y="443" width="3" height="4" fill="#ff0000"/>
<rect x="371" y="419" width="1" height="26" fill="#ff0000"/>
<rect x="370" y="424" width="3" height="20" fill="#ff0000"/>
<rect x="375" y="415" width="1" height="18" fill="#00ff00"/>
<rect x="374" y="424" width="3" height="7" fill="#00ff00"/>
<rect x="379" y="424" width="1" height="13" fill="#ff0000"/>
<rect x="378" y="425" width="3" height="6" fill="#ff0000"/>
<rect x="383" y="423" width="1" height="5" fill="#ff0000"/>
<rect x="382" y="424" width="3" height="3" fill="#ff0000"/>
<rect x="387" y="418" width="1" height="10" fill="#ff0000"/>
<rect x="386" y="419" width="3" height="6" fill="#ff0000"/>
<rect x="391" y="418" width="1" height="9" fill="#00ff00"/>
<rect x="390" y="419" width="3" height="6" fill="#00ff00"/>
<rect x="395" y="425" width="1" height="11" fill="#00ff00"/>
<rect x="394" y="426" width="3" height="3" fill="#00ff00"/>
<rect x="399" y="424" width="1" height="7" fill="#ff0000"/>
<rect x="398" y="425" width="3" height="5" fill="#ff0000"/>
<rect x="403" y="419" width="1" height="12" fill="#00ff00"/>
<rect x="402" y="425" width="3" height="5" fill="#00ff00"/>
<rect x="407" y="424" width="1" height="6" fill="#00ff00"/>
<rect x="406" y="427" width="3" height="2" fill="#00ff00"/>
<rect x="411" y="423" width="1" height="8" fill="#ff0000"/>
<rect x="410" y="423" width="3" height="7" fill="#ff0000"/>
<rect x="415" y="417" width="1" height="12" fill="#00ff00"/>
<rect x="414" y="423" width="3" height="3" fill="#00ff00"/>
<rect x="419" y="423" width="1" height="24" fill="#00ff00"/>
<rect x="418" y="424" width="3" height="19" fill="#00ff00"/>
<rect x="423" y="440" width="1" height="23" fill="#00ff00"/>
<rect x="422" y="441" width="3" height="14" fill="#00ff00"/>
<rect x="427" y="431" width="1" height="29" fill="#ff0000"/>
<rect x="426" y="432" width="3" height="23" fill="#ff0000"/>
<rect x="431" y="431" width="1" height="6" fill="#00ff00"/>
<rect x="430" y="432" width="3" height="4" fill="#00ff00"/>
<rect x="435" y="432" width="1" height="14" fill="#00ff00"/>
<rect x="434" y="435" width="3" height="8" fill="#00ff00"/>
<rect x="439" y="437" width="1" height="9" fill="#ff0000"/>
<rect x="438" y="440" width="3" height="3" fill="#ff0000"/>
<rect x="443" y="440" width="1" height="8" fill="#00ff00"/>
<rect x="442" y="440" width="3" height="7" fill="#00ff00"/>
<rect x="447" y="445" width="1" height="17" fill="#00ff00"/>
<rect x="446" y="445" width="3" height="9" fill="#00ff00"/>
<rect x="451" y="450" width="1" height="15" fill="#ff0000"/>
<rect x="450" y="450" width="3" height="4" fill="#ff0000"/>
<rect x="455" y="450" width="1" height="7" fill="#00ff00"/>
<rect x="454" y="451" width="3" height="5" fill="#00ff00"/>
<rect x="459" y="454" width="1" height="21" fill="#00ff00"/>
<rect x="458" y="456" width="3" height="9" fill="#00ff00"/>
<rect x="463" y="454" width="1" height="14" fill="#ff0000"/>
<rect x="462" y="462" width="3" height="3" fill="#ff0000"/>
<rect x="467" y="457" width="1" height="18" fill="#00ff00"/>
<rect x="466" y="461" width="3" height="14" fill="#00ff00"/>
<rect x="471" y="467" width="1" height="11" fill="#ff0000"/>
<rect x="470" y="468" width="3" height="7" fill="#ff0000"/>
<rect x="475" y="455" width="1" height="19" fill="#ff0000"/>
<rect x="474" y="459" width="3" height="12" fill="#ff0000"/>
<rect x="479" y="456" width="1" height="7" fill="#ff0000"/>
<rect x="478" y="457" width="3" height="6" fill="#ff0000"/>
<rect x="483" y="456" width="1" height="12" fill="#ff0000"/>
<rect x="482" y="457" width="3" height="10" fill="#ff0000"/>
<rect x="487" y="457" width="1" height="12" fill="#00ff00"/>
<rect x="486" y="457" width="3" height="6" fill="#00ff00"/>
<rect x="491" y="458" width="1" height="7" fill="#ff0000"/>
<rect x="490" y="459" width="3" height="5" fill="#ff0000"/>
<rect x="495" y="461" width="1" height="15" fill="#00ff00"/>
<rect x="494" y="462" width="3" height="12" fill="#00ff00"/>
<rect x="499" y="467" width="1" height="19" fill="#00ff00"/>
<rect x="498" y="472" width="3" height="10" fill="#00ff00"/>
<rect x="503" y="480" width="1" height="9" fill="#00ff00"/>
<rect x="502" y="481" width="3" height="6" fill="#00ff00"/>
<rect x="507" y="481" width="1" height="10" fill="#00ff00"/>
<rect x="506" y="485" width="3" height="6" fill="#00ff00"/>
<rect x="511" y="486" width="1" height="31" fill="#00ff00"/>
<rect x="510" y="489" width="3" height="26" fill="#00ff00"/>
<rect x="515" y="507" width="1" height="13" fill="#ff0000"/>
<rect x="514" y="508" width="3" height="7" fill="#ff0000"/>
<rect x="519" y="502" width="1" height="13" fill="#00ff00"/>
<rect x="518" y="509" width="3" height="3" fill="#00ff00"/>
<rect x="523" y="505" width="1" height="12" fill="#ff0000"/>
<rect x="522" y="509" width="3" height="3" fill="#ff0000"/>
<rect x="527" y="506" width="1" height="7" fill="#ff0000"/>
<rect x="526" y="507" width="3" height="4" fill="#ff0000"/>
<rect x="531" y="507" width="1" height="9" fill="#00ff00"/>
<rect x="530" y="508" width="3" height="5" fill="#00ff00"/>
<rect x="535" y="496" width="1" height="22" fill="#ff0000"/>
<rect x="534" y="500" width="3" height="14" fill="#ff0000"/>
<rect x="539" y="494" width="1" height="19" fill="#ff0000"/>
<rect x="538" y="495" width="3" height="7" fill="#ff0000"/>
<rect x="543" y="476" width="1" height="23" fill="#ff0000"/>
<rect x="542" y="478" width="3" height="19" fill="#ff0000"/>
<rect x="547" y="477" width="1" height="22" fill="#00ff00"/>
<rect x="546" y="478" width="3" height="14" fill="#00ff00"/>
<rect x="551" y="488" width="1" height="6" fill="#ff0000"/>
<rect x="550" y="489" width="3" height="3" fill="#ff0000"/>
<rect x="555" y="486" width="1" height="12" fill="#00ff00"/>
<rect x="554" y="489" width="3" height="3" fill="#00ff00"/>
<rect x="559" y="483" width="1" height="10" fill="#ff0000"/>
<rect x="558" y="485" width="3" height="7" fill="#ff0000"/>
<rect x="563" y="483" width="1" height="11" fill="#00ff00"/>
<rect x="562" y="487" width="3" height="6" fill="#00ff00"/>
<rect x="567" y="490" width="1" height="7" fill="#00ff00"/>
<rect x="566" y="492" width="3" height="3" fill="#00ff00"/>
<rect x="571" y="486" width="1" height="11" fill="#ff0000"/>
<rect x="570" y="490" width="3" height="5" fill="#ff0000"/>
<rect x="575" y="486" width="1" height="5" fill="#ff0000"/>
<rect x="574" y="486" width="3" height="4" fill="#ff0000"/>
<rect x="579" y="486" width="1" height="5" fill="#00ff00"/>
<rect x="578" y="488" width="3" height="3" fill="#00ff00"/>
<rect x="583" y="484" width="1" height="9" fill="#ff0000"/>
<rect x="582" y="486" width="3" height="5" fill="#ff0000"/>
<rect x="587" y="466" width="1" height="30" fill="#ff0000"/>
<rect x="586" y="472" width="3" height="16" fill="#ff0000"/>
<rect x="591" y="458" width="1" height="20" fill="#ff0000"/>
<rect x="590" y="464" width="3" height="9" fill="#ff0000"/>
<rect x="595" y="462" width="1" height="12" fill="#00ff00"/>
<rect x="594" y="465" width="3" height="4" fill="#00ff00"/>
<rect x="599" y="463" width="1" height="6" fill="#ff0000"/>
<rect x="598" y="466" width="3" height="3" fill="#ff0000"/>
<rect x="603" y="450" width="1" height="16" fill="#ff0000"/>
<rect x="602" y="456" width="3" height="9" fill="#ff0000"/>
<rect x="607" y="448" width="1" height="11" fill="#ff0000"/>
<rect x="606" y="455" width="3" height="3" fill="#ff0000"/>
<rect x="611" y="448" width="1" height="17" fill="#ff0000"/>
<rect x="610" y="448" width="3" height="9" fill="#ff0000"/>
<rect x="615" y="443" width="1" height="10" fill="#ff0000"/>
<rect x="614" y="443" width="3" height="7" fill="#ff0000"/>
<rect x="619" y="438" width="1" height="17" fill="#ff0000"/>
<rect x="618" y="443" width="3" height="2" fill="#ff0000"/>
<rect x="623" y="435" width="1" height="11" fill="#ff0000"/>
<rect x="622" y="441" width="3" height="4" fill="#ff0000"/>
<rect x="627" y="431" width="1" height="11" fill="#ff0000"/>
<rect x="626" y="432" width="3" height="10" fill="#ff0000"/>
<rect x="631" y="423" width="1" height="11" fill="#ff0000"/>
<rect x="630" y="428" width="3" height="5" fill="#ff0000"/>
<rect x="635" y="422" width="1" height="12" fill="#ff0000"/>
<rect x="634" y="424" width="3" height="6" fill="#ff0000"/>
<rect x="639" y="420" width="1" height="12" fill="#ff0000"/>
<rect x="638" y="422" width="3" height="9" fill="#ff0000"/>
<rect x="643" y="417" width="1" height="13" fill="#ff0000"/>
<rect x="642" y="421" width="3" height="5" fill="#ff0000"/>
<rect x="647" y="419" width="1" height="6" fill="#00ff00"/>
<rect x="646" y="421" width="3" height="4" fill="#00ff00"/>
<rect x="651" y="415" width="1" height="13" fill="#ff0000"/>
<rect x="650" y="417" width="3" height="5" fill="#ff0000"/>
<rect x="655" y="415" width="1" height="16" fill="#00ff00"/>
<rect x="654" y="417" width="3" height="11" fill="#00ff00"/>
<rect x="659" y="425" width="1" height="12" fill="#00ff00"/>
<rect x="658" y="426" width="3" height="9" fill="#00ff00"/>
<rect x="663" y="432" width="1" height="10" fill="#00ff00"/>
<rect x="662" y="434" width="3" height="4" fill="#00ff00"/>
<rect x="667" y="430" width="1" height="12" fill="#ff0000"/>
<rect x="666" y="434" width="3" height="3" fill="#ff0000"/>
<rect x="671" y="434" width="1" height="7" fill="#00ff00"/>
<rect x="670" y="434" width="3" height="4" fill="#00ff00"/>
<rect x="675" y="436" width="1" height="9" fill="#00ff00"/>
<rect x="674" y="437" width="3" height="4" fill="#00ff00"/>
<rect x="679" y="430" width="1" height="15" fill="#ff0000"/>
<rect x="678" y="435" width="3" height="6" fill="#ff0000"/>
<rect x="683" y="433" width="1" height="15" fill="#00ff00"/>
<rect x="682" y="435" width="3" height="6" fill="#00ff00"/>
<rect x="687" y="432" width="1" height="17" fill="#00ff00"/>
<rect x="686" y="439" width="3" height="4" fill="#00ff00"/>
<rect x="691" y="431" width="1" height="17" fill="#00ff00"/>
<rect x="690" y="442" width="3" height="3" fill="#00ff00"/>
<rect x="695" y="443" width="1" height="7" fill="#00ff00"/>
<rect x="694" y="443" width="3" height="5" fill="#00ff00"/>
<rect x="699" y="423" width="1" height="16" fill="#ff0000"/>
<rect x="698" y="432" width="3" height="5" fill="#ff0000"/>
<rect x="703" y="423" width="1" height="12" fill="#ff0000"/>
<rect x="702" y="427" width="3" height="7" fill="#ff0000"/>
<rect x="707" y="423" width="1" height="12" fill="#ff0000"/>
<rect x="706" y="423" width="3" height="8" fill="#ff0000"/>
<rect x="711" y="402" width="1" height="23" fill="#ff0000"/>
<rect x="710" y="407" width="3" height="16" fill="#ff0000"/>
<rect x="715" y="378" width="1" height="32" fill="#ff0000"/>
<rect x="714" y="390" width="3" height="19" fill="#ff0000"/>
<rect x="719" y="384" width="1" height="13" fill="#00ff00"/>
<rect x="718" y="389" width="3" height="6" fill="#00ff00"/>
<rect x="723" y="385" width="1" height="36" fill="#00ff00"/>
<rect x="722" y="386" width="3" height="15" fill="#00ff00"/>
<rect x="727" y="396" width="1" height="25" fill="#00ff00"/>
<rect x="726" y="399" width="3" height="16" fill="#00ff00"/>
<rect x="731" y="392" width="1" height="25" fill="#ff0000"/>
<rect x="730" y="396" width="3" height="19" fill="#ff0000"/>
<rect x="735" y="387" width="1" height="15" fill="#ff0000"/>
<rect x="734" y="394" width="3" height="3" fill="#ff0000"/>
<rect x="739" y="385" width="1" height="18" fill="#ff0000"/>
<rect x="738" y="389" width="3" height="8" fill="#ff0000"/>
<rect x="743" y="385" width="1" height="9" fill="#00ff00"/>
<rect x="742" y="388" width="3" height="3" fill="#00ff00"/>
<rect x="747" y="298" width="1" height="67" fill="#00ff00"/>
<rect x="746" y="336" width="3" height="27" fill="#00ff00"/>
<rect x="751" y="288" width="1" height="76" fill="#ff0000"/>
<rect x="750" y="293" width="3" height="70" fill="#ff0000"/>
<rect x="755" y="289" width="1" height="31" fill="#00ff00"/>
<rect x="754" y="293" width="3" height="9" fill="#00ff00"/>
<rect x="759" y="264" width="1" height="42" fill="#ff0000"/>
<rect x="758" y="267" width="3" height="36" fill="#ff0000"/>
<rect x="763" y="234" width="1" height="80" fill="#ff0000"/>
<rect x="762" y="234" width="3" height="35" fill="#ff0000"/>
<rect x="767" y="233" width="1" height="33" fill="#00ff00"/>
<rect x="766" y="234" width="3" height="20" fill="#00ff00"/>
<rect x="771" y="235" width="1" height="57" fill="#ff0000"/>
<rect x="770" y="239" width="3" height="36" fill="#ff0000"/>
<rect x="775" y="179" width="1" height="66" fill="#ff0000"/>
<rect x="774" y="180" width="3" height="60" fill="#ff0000"/>
<rect x="779" y="80" width="1" height="109" fill="#ff0000"/>
<rect x="778" y="87" width="3" height="95" fill="#ff0000"/>
<rect x="783" y="50" width="1" height="89" fill="#00ff00"/>
<rect x="782" y="87" width="3" height="20" fill="#00ff00"/>
<rect x="787" y="86" width="1" height="106" fill="#00ff00"/>
<rect x="786" y="105" width="3" height="29" fill="#00ff00"/>
<rect x="791" y="111" width="1" height="29" fill="#ff0000"/>
<rect x="790" y="115" width="3" height="19" fill="#ff0000"/>
<rect x="795" y="85" width="1" height="57" fill="#ff0000"/>
<rect x="794" y="85" width="3" height="18" fill="#ff0000"/>
<rect x="799" y="80" width="1" height="52" fill="#00ff00"/>
<rect x="798" y="85" width="3" height="18" fill="#00ff00"/>
<rect x="803" y="90" width="1" height="63" fill="#00ff00"/>
<rect x="802" y="101" width="3" height="42" fill="#00ff00"/>
<rect x="807" y="140" width="1" height="91" fill="#00ff00"/>
<rect x="806" y="140" width="3" height="82" fill="#00ff00"/>
<rect x="811" y="190" width="1" height="46" fill="#ff0000"/>
<rect x="810" y="211" width="3" height="11" fill="#ff0000"/>
<rect x="815" y="208" width="1" height="41" fill="#00ff00"/>
<rect x="814" y="211" width="3" height="37" fill="#00ff00"/>
<rect x="819" y="182" width="1" height="49" fill="#ff0000"/>
<rect x="818" y="185" width="3" height="29" fill="#ff0000"/>
<rect x="823" y="137" width="1" height="72" fill="#00ff00"/>
<rect x="822" y="185" width="3" height="15" fill="#00ff00"/>
<rect x="827" y="158" width="1" height="73" fill="#ff0000"/>
<rect x="826" y="170" width="3" height="30" fill="#ff0000"/>
<rect x="831" y="151" width="1" height="60" fill="#00ff00"/>
<rect x="830" y="170" width="3" height="31" fill="#00ff00"/>
<rect x="835" y="170" width="1" height="37" fill="#ff0000"/>
<rect x="834" y="195" width="3" height="8" fill="#ff0000"/>
<rect x="839" y="187" width="1" height="12" fill="#ff0000"/>
<rect x="838" y="189" width="3" height="8" fill="#ff0000"/>
<rect x="843" y="161" width="1" height="49" fill="#00ff00"/>
<rect x="842" y="166" width="3" height="33" fill="#00ff00"/>
<rect x="847" y="193" width="1" height="55" fill="#00ff00"/>
<rect x="846" y="197" width="3" height="44" fill="#00ff00"/>
<rect x="851" y="213" width="1" height="33" fill="#ff0000"/>
<rect x="850" y="227" width="3" height="14" fill="#ff0000"/>
<rect x="855" y="211" width="1" height="41" fill="#00ff00"/>
<rect x="854" y="227" width="3" height="12" fill="#00ff00"/>
<rect x="859" y="222" width="1" height="30" fill="#00ff00"/>
<rect x="858" y="236" width="3" height="7" fill="#00ff00"/>
<rect x="863" y="238" width="1" height="8" fill="#00ff00"/>
<rect x="862" y="240" width="3" height="6" fill="#00ff00"/>
<rect x="867" y="235" width="1" height="16" fill="#00ff00"/>
<rect x="866" y="240" width="3" height="7" fill="#00ff00"/>
<rect x="871" y="243" width="1" height="29" fill="#00ff00"/>
<rect x="870" y="245" width="3" height="15" fill="#00ff00"/>
<rect x="875" y="198" width="1" height="69" fill="#ff0000"/>
<rect x="874" y="203" width="3" height="57" fill="#ff0000"/>
<rect x="879" y="190" width="1" height="29" fill="#ff0000"/>
<rect x="878" y="192" width="3" height="26" fill="#ff0000"/>
<rect x="883" y="182" width="1" height="51" fill="#00ff00"/>
<rect x="882" y="192" width="3" height="36" fill="#00ff00"/>
<rect x="887" y="221" width="1" height="9" fill="#00ff00"/>
<rect x="886" y="223" width="3" height="5" fill="#00ff00"/>
<rect x="891" y="196" width="1" height="29" fill="#ff0000"/>
<rect x="890" y="213" width="3" height="9" fill="#ff0000"/>
<rect x="895" y="160" width="1" height="60" fill="#ff0000"/>
<rect x="894" y="177" width="3" height="38" fill="#ff0000"/>
<rect x="899" y="167" width="1" height="44" fill="#00ff00"/>
<rect x="898" y="177" width="3" height="26" fill="#00ff00"/>
<rect x="903" y="178" width="1" height="56" fill="#00ff00"/>
<rect x="902" y="196" width="3" height="29" fill="#00ff00"/>
<rect x="907" y="199" width="1" height="27" fill="#ff0000"/>
<rect x="906" y="204" width="3" height="21" fill="#ff0000"/>
<rect x="911" y="199" width="1" height="8" fill="#ff0000"/>
<rect x="910" y="201" width="3" height="5" fill="#ff0000"/>
<rect x="915" y="200" width="1" height="23" fill="#00ff00"/>
<rect x="914" y="201" width="3" height="21" fill="#00ff00"/>
<rect x="919" y="218" width="1" height="33" fill="#00ff00"/>
<rect x="918" y="219" width="3" height="16" fill="#00ff00"/>
<rect x="923" y="231" width="1" height="26" fill="#00ff00"/>
<rect x="922" y="234" width="3" height="18" fill="#00ff00"/>
<rect x="927" y="248" width="1" height="26" fill="#00ff00"/>
<rect x="926" y="250" width="3" height="8" fill="#00ff00"/>
<rect x="931" y="202" width="1" height="57" fill="#ff0000"/>
<rect x="930" y="203" width="3" height="55" fill="#ff0000"/>
<rect x="935" y="203" width="1" height="10" fill="#00ff00"/>
<rect x="934" y="204" width="3" height="8" fill="#00ff00"/>
<rect x="939" y="190" width="1" height="19" fill="#00ff00"/>
<rect x="938" y="198" width="3" height="8" fill="#00ff00"/>
<rect x="943" y="207" width="1" height="25" fill="#00ff00"/>
<rect x="942" y="208" width="3" height="19" fill="#00ff00"/>
<rect x="947" y="189" width="1" height="40" fill="#ff0000"/>
<rect x="946" y="193" width="3" height="34" fill="#ff0000"/>
<rect x="951" y="185" width="1" height="56" fill="#00ff00"/>
<rect x="950" y="193" width="3" height="48" fill="#00ff00"/>
<rect x="955" y="230" width="1" height="29" fill="#00ff00"/>
<rect x="954" y="239" width="3" height="19" fill="#00ff00"/>
<rect x="959" y="250" width="1" height="8" fill="#ff0000"/>
<rect x="958" y="250" width="3" height="8" fill="#ff0000"/>
<rect x="963" y="224" width="1" height="37" fill="#ff0000"/>
<rect x="962" y="225" width="3" height="25" fill="#ff0000"/>
<rect x="967" y="214" width="1" height="26" fill="#00ff00"/>
<rect x="966" y="224" width="3" height="6" fill="#00ff00"/>
<rect x="971" y="205" width="1" height="27" fill="#ff0000"/>
<rect x="970" y="206" width="3" height="24" fill="#ff0000"/>
<rect x="975" y="193" width="1" height="21" fill="#00ff00"/>
<rect x="974" y="206" width="3" height="3" fill="#00ff00"/>
<rect x="979" y="206" width="1" height="23" fill="#ff0000"/>
<rect x="978" y="207" width="3" height="3" fill="#ff0000"/>
<rect x="983" y="200" width="1" height="9" fill="#ff0000"/>
<rect x="982" y="202" width="3" height="6" fill="#ff0000"/>
<rect x="987" y="206" width="1" height="38" fill="#00ff00"/>
<rect x="986" y="206" width="3" height="36" fill="#00ff00"/>
<rect x="991" y="238" width="1" height="29" fill="#00ff00"/>
<rect x="990" y="242" width="3" height="25" fill="#00ff00"/>
<rect x="995" y="243" width="1" height="26" fill="#ff0000"/>
<rect x="994" y="256" width="3" height="10" fill="#ff0000"/>
<rect x="999" y="240" width="1" height="25" fill="#ff0000"/>
<rect x="998" y="246" width="3" height="12" fill="#ff0000"/>
<rect x="1003" y="220" width="1" height="33" fill="#ff0000"/>
<rect x="1002" y="225" width="3" height="22" fill="#ff0000"/>
<rect x="1007" y="225" width="1" height="12" fill="#00ff00"/>
<rect x="1006" y="225" width="3" height="9" fill="#00ff00"/>
<rect x="1011" y="230" width="1" height="12" fill="#00ff00"/>
<rect x="1010" y="233" width="3" height="9" fill="#00ff00"/>
<rect x="1015" y="236" width="1" height="56" fill="#00ff00"/>
<rect x="1014" y="240" width="3" height="42" fill="#00ff00"/>
<rect x="1019" y="280" width="1" height="27" fill="#00ff00"/>
<rect x="1018" y="280" width="3" height="12" fill="#00ff00"/>
<rect x="1023" y="287" width="1" height="19" fill="#00ff00"/>
<rect x="1022" y="290" width="3" height="7" fill="#00ff00"/>
<rect x="1027" y="280" width="1" height="31" fill="#ff0000"/>
<rect x="1026" y="284" width="3" height="13" fill="#ff0000"/>
<rect x="1031" y="278" width="1" height="18" fill="#00ff00"/>
<rect x="1030" y="284" width="3" height="10" fill="#00ff00"/>
<rect x="1035" y="290" width="1" height="53" fill="#00ff00"/>
<rect x="1034" y="292" width="3" height="49" fill="#00ff00"/>
<rect x="1039" y="339" width="1" height="36" fill="#00ff00"/>
<rect x="1038" y="340" width="3" height="25" fill="#00ff00"/>
<rect x="1043" y="348" width="1" height="27" fill="#00ff00"/>
<rect x="1042" y="364" width="3" height="9" fill="#00ff00"/>
<rect x="1047" y="357" width="1" height="22" fill="#ff0000"/>
<rect x="1046" y="364" width="3" height="9" fill="#ff0000"/>
<rect x="1051" y="364" width="1" height="35" fill="#00ff00"/>
<rect x="1050" y="364" width="3" height="27" fill="#00ff00"/>
<rect x="1055" y="382" width="1" height="10" fill="#ff0000"/>
<rect x="1054" y="385" width="3" height="6" fill="#ff0000"/>
<rect x="1059" y="385" width="1" height="19" fill="#00ff00"/>
<rect x="1058" y="393" width="3" height="9" fill="#00ff00"/>
<rect x="1063" y="371" width="1" height="37" fill="#ff0000"/>
<rect x="1062" y="386" width="3" height="16" fill="#ff0000"/>
<rect x="1067" y="385" width="1" height="17" fill="#00ff00"/>
<rect x="1066" y="386" width="3" height="13" fill="#00ff00"/>
<rect x="1071" y="348" width="1" height="63" fill="#ff0000"/>
<rect x="1070" y="352" width="3" height="48" fill="#ff0000"/>
<rect x="1075" y="323" width="1" height="39" fill="#ff0000"/>
<rect x="1074" y="344" width="3" height="9" fill="#ff0000"/>
<rect x="1079" y="328" width="1" height="19" fill="#ff0000"/>
<rect x="1078" y="337" width="3" height="8" fill="#ff0000"/>
<rect x="1083" y="317" width="1" height="32" fill="#00ff00"/>
<rect x="1082" y="334" width="3" height="4" fill="#00ff00"/>
<rect x="1087" y="335" width="1" height="32" fill="#00ff00"/>
<rect x="1086" y="336" width="3" height="16" fill="#00ff00"/>
<rect x="1091" y="344" width="1" height="23" fill="#ff0000"/>
<rect x="1090" y="348" width="3" height="5" fill="#ff0000"/>
<rect x="1095" y="341" width="1" height="16" fill="#ff0000"/>
<rect x="1094" y="343" width="3" height="7" fill="#ff0000"/>
<rect x="1099" y="336" width="1" height="20" fill="#ff0000"/>
<rect x="1098" y="341" width="3" height="4" fill="#ff0000"/>
<rect x="1103" y="336" width="1" height="11" fill="#ff0000"/>
<rect x="1102" y="340" width="3" height="4" fill="#ff0000"/>
<rect x="1107" y="334" width="1" height="26" fill="#00ff00"/>
<rect x="1106" y="337" width="3" height="21" fill="#00ff00"/>
<rect x="1111" y="350" width="1" height="24" fill="#00ff00"/>
<rect x="1110" y="356" width="3" height="11" fill="#00ff00"/>
<rect x="1115" y="341" width="1" height="27" fill="#ff0000"/>
<rect x="1114" y="341" width="3" height="26" fill="#ff0000"/>
<rect x="1119" y="322" width="1" height="24" fill="#ff0000"/>
<rect x="1118" y="324" width="3" height="15" fill="#ff0000"/>
<rect x="1123" y="310" width="1" height="23" fill="#ff0000"/>
<rect x="1122" y="315" width="3" height="12" fill="#ff0000"/>
<rect x="1127" y="314" width="1" height="15" fill="#00ff00"/>
<rect x="1126" y="315" width="3" height="11" fill="#00ff00"/>
<rect x="1131" y="312" width="1" height="17" fill="#ff0000"/>
<rect x="1130" y="316" width="3" height="5" fill="#ff0000"/>
<rect x="1135" y="315" width="1" height="26" fill="#00ff00"/>
<rect x="1134" y="317" width="3" height="23" fill="#00ff00"/>
<rect x="1139" y="336" width="1" height="21" fill="#00ff00"/>
<rect x="1138" y="338" width="3" height="11" fill="#00ff00"/>
<rect x="1143" y="335" width="1" height="19" fill="#ff0000"/>
<rect x="1142" y="343" width="3" height="10" fill="#ff0000"/>
<rect x="1147" y="341" width="1" height="15" fill="#00ff00"/>
<rect x="1146" y="343" width="3" height="9" fill="#00ff00"/>
<rect x="1151" y="345" width="1" height="10" fill="#00ff00"/>
<rect x="1150" y="350" width="3" height="2" fill="#00ff00"/>
<rect x="1155" y="349" width="1" height="16" fill="#00ff00"/>
<rect x="1154" y="351" width="3" height="7" fill="#00ff00"/>
<rect x="1159" y="343" width="1" height="20" fill="#ff0000"/>
<rect x="1158" y="344" width="3" height="13" fill="#ff0000"/>
<rect x="1163" y="335" width="1" height="26" fill="#00ff00"/>
<rect x="1162" y="344" width="3" height="15" fill="#00ff00"/>
<rect x="1167" y="346" width="1" height="27" fill="#ff0000"/>
<rect x="1166" y="347" width="3" height="11" fill="#ff0000"/>
<rect x="1171" y="332" width="1" height="20" fill="#ff0000"/>
<rect x="1170" y="343" width="3" height="7" fill="#ff0000"/>
<rect x="1175" y="335" width="1" height="12" fill="#00ff00"/>
<rect x="1174" y="342" width="3" height="4" fill="#00ff00"/>
<rect x="1179" y="340" width="1" height="19" fill="#00ff00"/>
<rect x="1178" y="344" width="3" height="6" fill="#00ff00"/>
<rect x="1183" y="328" width="1" height="25" fill="#ff0000"/>
<rect x="1182" y="340" width="3" height="11" fill="#ff0000"/>
<rect x="1187" y="335" width="1" height="29" fill="#00ff00"/>
<rect x="1186" y="340" width="3" height="23" fill="#00ff00"/>
<rect x="1191" y="356" width="1" height="13" fill="#ff0000"/>
<rect x="1190" y="357" width="3" height="6" fill="#ff0000"/>
<rect x="1195" y="346" width="1" height="15" fill="#ff0000"/>
<rect x="1194" y="347" width="3" height="10" fill="#ff0000"/>
<rect x="1199" y="346" width="1" height="6" fill="#ff0000"/>
<rect x="1198" y="347" width="3" height="3" fill="#ff0000"/>
<rect x="1203" y="340" width="1" height="22" fill="#00ff00"/>
<rect x="1202" y="346" width="3" height="16" fill="#00ff00"/>
<rect x="1207" y="357" width="1" height="30" fill="#00ff00"/>
<rect x="1206" y="359" width="3" height="25" fill="#00ff00"/>
<rect x="1211" y="373" width="1" height="23" fill="#00ff00"/>
<rect x="1210" y="383" width="3" height="12" fill="#00ff00"/>
<rect x="1215" y="388" width="1" height="18" fill="#00ff00"/>
<rect x="1214" y="388" width="3" height="18" fill="#00ff00"/>
<rect x="1219" y="383" width="1" height="28" fill="#ff0000"/>
<rect x="1218" y="388" width="3" height="17" fill="#ff0000"/>
<rect x="1223" y="386" width="1" height="7" fill="#00ff00"/>
<rect x="1222" y="388" width="3" height="4" fill="#00ff00"/>
<rect x="1227" y="387" width="1" height="19" fill="#00ff00"/>
<rect x="1226" y="389" width="3" height="13" fill="#00ff00"/>
<rect x="1231" y="393" width="1" height="22" fill="#00ff00"/>
<rect x="1230" y="400" width="3" height="7" fill="#00ff00"/>
<rect x="1235" y="399" width="1" height="14" fill="#ff0000"/>
<rect x="1234" y="404" width="3" height="3" fill="#ff0000"/>
<rect x="1239" y="380" width="1" height="35" fill="#ff0000"/>
<rect x="1238" y="384" width="3" height="21" fill="#ff0000"/>
<rect x="1243" y="383" width="1" height="21" fill="#00ff00"/>
<rect x="1242" y="384" width="3" height="17" fill="#00ff00"/>
<rect x="1247" y="391" width="1" height="13" fill="#00ff00"/>
<rect x="1246" y="397" width="3" height="5" fill="#00ff00"/>
<rect x="1251" y="381" width="1" height="19" fill="#ff0000"/>
<rect x="1250" y="393" width="3" height="4" fill="#ff0000"/>
<rect x="1255" y="390" width="1" height="21" fill="#00ff00"/>
<rect x="1254" y="394" width="3" height="13" fill="#00ff00"/>
<rect x="1259" y="403" width="1" height="40" fill="#00ff00"/>
<rect x="1258" y="404" width="3" height="33" fill="#00ff00"/>
<rect x="1263" y="416" width="1" height="24" fill="#ff0000"/>
<rect x="1262" y="426" width="3" height="11" fill="#ff0000"/>
<rect x="1267" y="416" width="1" height="15" fill="#ff0000"/>
<rect x="1266" y="420" width="3" height="8" fill="#ff0000"/>
</g>
<path clip-path="url(#cm)" d="M3 473h1v1h-1zM4 472h1v1h-1zM5 472h1v1h-1zM6 471h1v1h-1zM7 471h1v1h-1zM8 470h1v1h-1zM9 470h1v1h-1zM10 469h1v1h-1zM11 469h1v1h-1zM12 469h1v1h-1zM13 468h1v1h-1zM14 468h1v1h-1zM15 468h1v1h-1zM16 467h1v1h-1zM17 467h1v1h-1zM18 466h1v1h-1zM19 466h1v1h-1zM20 466h1v1h-1zM21 465h1v1h-1zM22 465h1v1h-1zM23 465h1v1h-1zM24 465h1v1h-1zM25 464h1v1h-1zM26 464h1v1h-1zM27 464h1v1h-1zM28 464h1v1h-1zM29 463h1v1h-1zM30 463h1v1h-1zM31 463h1v1h-1zM32 462h1v1h-1zM33 461h1v1h-1zM34 461h1v1h-1zM35 460h1v1h-1zM36 459h1v1h-1zM37 459h1v1h-1zM38 458h1v1h-1zM39 458h1v1h-1zM40 457h1v1h-1zM41 457h1v1h-1zM42 456h1v1h-1zM43 456h1v1h-1zM44 456h1v1h-1zM45 455h1v1h-1zM46 455h1v1h-1zM47 455h1v1h-1zM48 454h1v1h-1zM49 453h1v1h-1zM50 453h1v1h-1zM51 452h1v1h-1zM52 451h1v1h-1zM53 451h1v1h-1zM54 450h1v1h-1zM55 450h1v1h-1zM56 449h1v1h-1zM57 449h1v1h-1zM58 448h1v1h-1zM59 448h1v1h-1zM60 447h1v1h-1zM61 447h1v1h-1zM62 446h1v1h-1zM63 446h1v1h-1zM64 445h1v1h-1zM65 445h1v1h-1zM66 444h1v1h-1zM67 444h1v1h-1zM68 443h1v1h-1zM69 443h1v1h-1zM70 442h1v1h-1zM71 442h1v1h-1zM72 442h1v1h-1zM73 441h1v1h-1zM74 441h1v1h-1zM75 441h1v1h-1zM76 440h1v1h-1zM77 440h1v1h-1zM78 439h1v1h-1zM79 439h1v1h-1zM80 439h1v1h-1zM81 438h1v1h-1zM82 438h1v1h-1zM83 438h1v1h-1zM84 437h1v1h-1zM85 437h1v1h-1zM86 436h1v1h-1zM87 436h1v1h-1zM88 436h1v1h-1zM89 435h1v1h-1zM90 435h1v1h-1zM91 435h1v1h-1zM92 435h1v1h-1zM93 434h1v1h-1zM94 434h1v1h-1zM95 434h1v1h-1zM96 433h1v1h-1zM97 433h1v1h-1zM98 432h1v1h-1zM99 432h1v1h-1zM100 432h1v1h-1zM101 431h1v1h-1zM102 431h1v1h-1zM103 431h1v1h-1zM104 431h1v1h-1zM105 430h1v1h-1zM106 430h1v1h-1zM107 430h1v1h-1zM108 430h1v1h-1zM109 430h1v1h-1zM110 430h1v1h-1zM111 430h1v1h-1zM112 430h1v1h-1zM113 430h1v1h-1zM114 430h1v1h-1zM115 430h1v1h-1zM116 430h1v1h-1zM117 431h1v1h-1zM118 431h1v1h-1zM119 431h1v1h-1zM120 431h1v1h-1zM121 431h1v1h-1zM122 431h1v1h-1zM123 431h1v1h-1zM124 431h1v1h-1zM125 432h1v1h-1zM126 432h1v1h-1zM127 432h1v1h-1zM128 432h1v1h-1zM129 433h1v1h-1zM130 433h1v1h-1zM131 433h1v1h-1zM132 433h1v1h-1zM133 433h1v1h-1zM134 433h1v1h-1zM135 433h1v1h-1zM136 433h1v1h-1zM137 433h1v1h-1zM138 433h1v1h-1zM139 433h1v1h-1zM140 433h1v1h-1zM141 432h1v1h-1zM142 432h1v1h-1zM143 432h1v1h-1zM144 432h1v1h-1zM145 433h1v1h-1zM146 433h1v1h-1zM147 433h1v1h-1zM148 433h1v1h-1zM149 432h1v1h-1zM150 432h1v1h-1zM151 432h1v1h-1zM152 432h1v1h-1zM153 433h1v1h-1zM154 433h1v1h-1zM155 433h1v1h-1zM156 433h1v1h-1zM157 433h1v1h-1zM158 433h1v1h-1zM159 433h1v1h-1zM160 433h1v1h-1zM161 433h1v1h-1zM162 433h1v1h-1zM163 433h1v1h-1zM164 433h1v1h-1zM165 433h1v1h-1zM166 433h1v1h-1zM167 433h1v1h-1zM168 433h1v1h-1zM169 433h1v1h-1zM170 433h1v1h-1zM171 433h1v1h-1zM172 433h1v1h-1zM173 434h1v1h-1zM174 434h1v1h-1zM175 434h1v1h-1zM176 434h1v1h-1zM177 434h1v1h-1zM178 434h1v1h-1zM179 434h1v1h-1zM180 434h1v1h-1zM181 434h1v1h-1zM182 434h1v1h-1zM183 434h1v1h-1zM184 434h1v1h-1zM185 435h1v1h-1zM186 435h1v1h-1zM187 435h1v1h-1zM188 435h1v1h-1zM189 435h1v1h-1zM190 435h1v1h-1zM191 435h1v1h-1zM192 435h1v1h-1zM193 436h1v1h-1zM194 436h1v1h-1zM195 436h1v1h-1zM196 436h1v1h-1zM197 436h1v1h-1zM198 436h1v1h-1zM199 436h1v1h-1zM200 436h1v1h-1zM201 436h1v1h-1zM202 436h1v1h-1zM203 436h1v1h-1zM204 436h1v1h-1zM205 436h1v1h-1zM206 436h1v1h-1zM207 436h1v1h-1zM208 436h1v1h-1zM209 435h1v1h-1zM210 435h1v1h-1zM211 435h1v1h-1zM212 435h1v1h-1zM213 435h1v1h-1zM214 435h1v1h-1zM215 435h1v1h-1zM216 435h1v1h-1zM217 436h1v1h-1zM218 436h1v1h-1zM219 436h1v1h-1zM220 436h1v1h-1zM221 435h1v1h-1zM222 435h1v1h-1zM223 435h1v1h-1zM224 435h1v1h-1zM225 435h1v1h-1zM226 435h1v1h-1zM227 435h1v1h-1zM228 435h1v1h-1zM229 435h1v1h-1zM230 435h1v1h-1zM231 435h1v1h-1zM232 435h1v1h-1zM233 434h1v1h-1zM234 434h1v1h-1zM235 434h1v1h-1zM236 434h1v1h-1zM237 434h1v1h-1zM238 434h1v1h-1zM239 434h1v1h-1zM240 434h1v1h-1zM241 434h1v1h-1zM242 434h1v1h-1zM243 434h1v1h-1zM244 434h1v1h-1zM245 433h1v1h-1zM246 433h1v1h-1zM247 433h1v1h-1zM248 433h1v1h-1zM249 433h1v1h-1zM250 433h1v1h-1zM251 433h1v1h-1zM252 433h1v1h-1zM253 434h1v1h-1zM254 434h1v1h-1zM255 434h1v1h-1zM256 434h1v1h-1zM257 435h1v1h-1zM258 435h1v1h-1zM259 435h1v1h-1zM260 436h1v1h-1zM261 436h1v1h-1zM262 437h1v1h-1zM263 437h1v1h-1zM264 437h1v1h-1zM265 438h1v1h-1zM266 438h1v1h-1zM267 438h1v1h-1zM268 438h1v1h-1zM269 439h1v1h-1zM270 439h1v1h-1zM271 439h1v1h-1zM272 440h1v1h-1zM273 440h1v1h-1zM274 441h1v1h-1zM275 441h1v1h-1zM276 442h1v1h-1zM277 442h1v1h-1zM278 443h1v1h-1zM279 443h1v1h-1zM280 443h1v1h-1zM281 444h1v1h-1zM282 444h1v1h-1zM283 444h1v1h-1zM284 445h1v1h-1zM285 445h1v1h-1zM286 446h1v1h-1zM287 446h1v1h-1zM288 447h1v1h-1zM289 447h1v1h-1zM290 448h1v1h-1zM291 448h1v1h-1zM292 449h1v1h-1zM293 449h1v1h-1zM294 450h1v1h-1zM295 450h1v1h-1zM296 450h1v1h-1zM297 451h1v1h-1zM298 451h1v1h-1zM299 451h1v1h-1zM300 451h1v1h-1zM301 452h1v1h-1zM302 452h1v1h-1zM303 452h1v1h-1zM304 452h1v1h-1zM305 453h1v1h-1zM306 453h1v1h-1zM307 453h1v1h-1zM308 453h1v1h-1zM309 454h1v1h-1zM310 454h1v1h-1zM311 454h1v1h-1zM312 454h1v1h-1zM313 455h1v1h-1zM314 455h1v1h-1zM315 455h1v1h-1zM316 455h1v1h-1zM317 455h1v1h-1zM318 455h1v1h-1zM319 455h1v1h-1zM320 456h1v1h-1zM321 456h1v1h-1zM322 457h1v1h-1zM323 457h1v1h-1zM324 457h1v1h-1zM325 458h1v1h-1zM326 458h1v1h-1zM327 458h1v1h-1zM328 458h1v1h-1zM329 459h1v1h-1zM330 459h1v1h-1zM331 459h1v1h-1zM332 459h1v1h-1zM333 460h1v1h-1zM334 460h1v1h-1zM335 460h1v1h-1zM336 460h1v1h-1zM337 461h1v1h-1zM338 461h1v1h-1zM339 461h1v1h-1zM340 461h1v1h-1zM341 462h1v1h-1zM342 462h1v1h-1zM343 462h1v1h-1zM344 462h1v1h-1zM345 462h1v1h-1zM346 462h1v1h-1zM347 462h1v1h-1zM348 462h1v1h-1zM349 463h1v1h-1zM350 463h1v1h-1zM351 463h1v1h-1zM352 463h1v1h-1zM353 462h1v1h-1zM354 462h1v1h-1zM355 462h1v1h-1zM356 462h1v1h-1zM357 462h1v1h-1zM358 462h1v1h-1zM359 462h1v1h-1zM360 462h1v1h-1zM361 462h1v1h-1zM362 462h1v1h-1zM363 462h1v1h-1zM364 462h1v1h-1zM365 462h1v1h-1zM366 462h1v1h-1zM367 462h1v1h-1zM368 462h1v1h-1zM369 461h1v1h-1zM370 461h1v1h-1zM371 461h1v1h-1zM372 460h1v1h-1zM373 460h1v1h-1zM374 459h1v1h-1zM375 459h1v1h-1zM376 459h1v1h-1zM377 458h1v1h-1zM378 458h1v1h-1zM379 458h1v1h-1zM380 457h1v1h-1zM381 457h1v1h-1zM382 456h1v1h-1zM383 456h1v1h-1zM384 455h1v1h-1zM385 455h1v1h-1zM386 454h1v1h-1zM387 454h1v1h-1zM388 454h1v1h-1zM389 453h1v1h-1zM390 453h1v1h-1zM391 453h1v1h-1zM392 452h1v1h-1zM393 452h1v1h-1zM394 451h1v1h-1zM395 451h1v1h-1zM396 450h1v1h-1zM397 450h1v1h-1zM398 449h1v1h-1zM399 449h1v1h-1zM400 448h1v1h-1zM401 448h1v1h-1zM402 447h1v1h-1zM403 447h1v1h-1zM404 446h1v1h-1zM405 446h1v1h-1zM406 445h1v1h-1zM407 445h1v1h-1zM408 444h1v1h-1zM409 444h1v1h-1zM410 443h1v1h-1zM411 443h1v1h-1zM412 442h1v1h-1zM413 442h1v1h-1zM414 441h1v1h-1zM415 441h1v1h-1zM416 441h1v1h-1zM417 440h1v1h-1zM418 440h1v1h-1zM419 440h1v1h-1zM420 440h1v1h-1zM421 440h1v1h-1zM422 440h1v1h-1zM423 440h1v1h-1zM424 440h1v1h-1zM425 439h1v1h-1zM426 439h1v1h-1zM427 439h1v1h-1zM428 439h1v1h-1zM429 438h1v1h-1zM430 438h1v1h-1zM431 438h1v1h-1zM432 438h1v1h-1zM433 437h1v1h-1zM434 437h1v1h-1zM435 437h1v1h-1zM436 437h1v1h-1zM437 436h1v1h-1zM438 436h1v1h-1zM439 436h1v1h-1zM440 436h1v1h-1zM441 436h1v1h-1zM442 436h1v1h-1zM443 436h1v1h-1zM444 436h1v1h-1zM445 436h1v1h-1zM446 436h1v1h-1zM447 436h1v1h-1zM448 436h1v1h-1zM449 436h1v1h-1zM450 436h1v1h-1zM451 436h1v1h-1zM452 436h1v1h-1zM453 436h1v1h-1zM454 436h1v1h-1zM455 436h1v1h-1zM456 436h1v1h-1zM457 437h1v1h-1zM458 437h1v1h-1zM459 437h1v1h-1zM460 437h1v1h-1zM461 438h1v1h-1zM462 438h1v1h-1zM463 438h1v1h-1zM464 438h1v1h-1zM465 439h1v1h-1zM466 439h1v1h-1zM467 439h1v1h-1zM468 439h1v1h-1zM469 440h1v1h-1zM470 440h1v1h-1zM471 440h1v1h-1zM472 440h1v1h-1zM473 440h1v1h-1zM474 440h1v1h-1zM475 440h1v1h-1zM476 440h1v1h-1zM477 441h1v1h-1zM478 441h1v1h-1zM479 441h1v1h-1zM480 441h1v1h-1zM481 441h1v1h-1zM482 441h1v1h-1zM483 441h1v1h-1zM484 441h1v1h-1zM485 442h1v1h-1zM486 442h1v1h-1zM487 442h1v1h-1zM488 442h1v1h-1zM489 443h1v1h-1zM490 443h1v1h-1zM491 443h1v1h-1zM492 444h1v1h-1zM493 444h1v1h-1zM494 445h1v1h-1zM495 445h1v1h-1zM496 445h1v1h-1zM497 446h1v1h-1zM498 446h1v1h-1zM499 446h1v1h-1zM500 447h1v1h-1zM501 447h1v1h-1zM502 448h1v1h-1zM503 448h1v1h-1zM504 449h1v1h-1zM505 450h1v1h-1zM506 450h1v1h-1zM507 451h1v1h-1zM508 452h1v1h-1zM509 453h1v1h-1zM510 453h1v1h-1zM511 454h1v1h-1zM512 455h1v1h-1zM513 455h1v1h-1zM514 456h1v1h-1zM515 456h1v1h-1zM516 457h1v1h-1zM517 458h1v1h-1zM518 458h1v1h-1zM519 459h1v1h-1zM520 460h1v1h-1zM521 461h1v1h-1zM522 461h1v1h-1zM523 462h1v1h-1zM524 463h1v1h-1zM525 464h1v1h-1zM526 464h1v1h-1zM527 465h1v1h-1zM528 466h1v1h-1zM529 467h1v1h-1zM530 467h1v1h-1zM531 468h1v1h-1zM532 469h1v1h-1zM533 469h1v1h-1zM534 470h1v1h-1zM535 470h1v1h-1zM536 471h1v1h-1zM537 471h1v1h-1zM538 472h1v1h-1zM539 472h1v1h-1zM540 472h1v1h-1zM541 473h1v1h-1zM542 473h1v1h-1zM543 473h1v1h-1zM544 474h1v1h-1zM545 474h1v1h-1zM546 475h1v1h-1zM547 475h1v1h-1zM548 475h1v1h-1zM549 476h1v1h-1zM550 476h1v1h-1zM551 476h1v1h-1zM552 477h1v1h-1zM553 477h1v1h-1zM554 478h1v1h-1zM555 478h1v1h-1zM556 478h1v1h-1zM557 479h1v1h-1zM558 479h1v1h-1zM559 479h1v1h-1zM560 480h1v1h-1zM561 480h1v1h-1zM562 481h1v1h-1zM563 481h1v1h-1zM564 481h1v1h-1zM565 482h1v1h-1zM566 482h1v1h-1zM567 482h1v1h-1zM568 483h1v1h-1zM569 483h1v1h-1zM570 484h1v1h-1zM571 484h1v1h-1zM572 484h1v1h-1zM573 485h1v1h-1zM574 485h1v1h-1zM575 485h1v1h-1zM576 485h1v1h-1zM577 486h1v1h-1zM578 486h1v1h-1zM579 486h1v1h-1zM580 486h1v1h-1zM581 486h1v1h-1zM582 486h1v1h-1zM583 486h1v1h-1zM584 486h1v1h-1zM585 486h1v1h-1zM586 486h1v1h-1zM587 486h1v1h-1zM588 486h1v1h-1zM589 486h1v1h-1zM590 486h1v1h-1zM591 486h1v1h-1zM592 486h1v1h-1zM593 486h1v1h-1zM594 486h1v1h-1zM595 486h1v1h-1zM596 486h1v1h-1zM597 487h1v1h-1zM598 487h1v1h-1zM599 487h1v1h-1zM600 487h1v1h-1zM601 487h1v1h-1zM602 487h1v1h-1zM603 487h1v1h-1zM604 487h1v1h-1zM605 486h1v1h-1zM606 486h1v1h-1zM607 486h1v1h-1zM608 486h1v1h-1zM609 486h1v1h-1zM610 486h1v1h-1zM611 486h1v1h-1zM612 486h1v1h-1zM613 485h1v1h-1zM614 485h1v1h-1zM615 485h1v1h-1zM616 485h1v1h-1zM617 484h1v1h-1zM618 484h1v1h-1zM619 484h1v1h-1zM620 483h1v1h-1zM621 483h1v1h-1zM622 482h1v1h-1zM623 482h1v1h-1zM624 481h1v1h-1zM625 481h1v1h-1zM626 480h1v1h-1zM627 480h1v1h-1zM628 479h1v1h-1zM629 479h1v1h-1zM630 478h1v1h-1zM631 478h1v1h-1zM632 477h1v1h-1zM633 476h1v1h-1zM634 476h1v1h-1zM635 475h1v1h-1zM636 474h1v1h-1zM637 473h1v1h-1zM638 473h1v1h-1zM639 472h1v1h-1zM640 471h1v1h-1zM641 470h1v1h-1zM642 470h1v1h-1zM643 469h1v1h-1zM644 468h1v1h-1zM645 467h1v1h-1zM646 467h1v1h-1zM647 466h1v1h-1zM648 465h1v1h-1zM649 464h1v1h-1zM650 464h1v1h-1zM651 463h1v1h-1zM652 462h1v1h-1zM653 462h1v1h-1zM654 461h1v1h-1zM655 461h1v1h-1zM656 460h1v1h-1zM657 459h1v1h-1zM658 459h1v1h-1zM659 458h1v1h-1zM660 458h1v1h-1zM661 457h1v1h-1zM662 457h1v1h-1zM663 457h1v1h-1zM664 456h1v1h-1zM665 456h1v1h-1zM666 455h1v1h-1zM667 455h1v1h-1zM668 455h1v1h-1zM669 454h1v1h-1zM670 454h1v1h-1zM671 454h1v1h-1zM672 453h1v1h-1zM673 453h1v1h-1zM674 452h1v1h-1zM675 452h1v1h-1zM676 451h1v1h-1zM677 451h1v1h-1zM678 450h1v1h-1zM679 450h1v1h-1zM680 449h1v1h-1zM681 449h1v1h-1zM682 448h1v1h-1zM683 448h1v1h-1zM684 448h1v1h-1zM685 447h1v1h-1zM686 447h1v1h-1zM687 447h1v1h-1zM688 446h1v1h-1zM689 446h1v1h-1zM690 445h1v1h-1zM691 445h1v1h-1zM692 445h1v1h-1zM693 444h1v1h-1zM694 444h1v1h-1zM695 444h1v1h-1zM696 443h1v1h-1zM697 443h1v1h-1zM698 442h1v1h-1zM699 442h1v1h-1zM700 441h1v1h-1zM701 441h1v1h-1zM702 440h1v1h-1zM703 440h1v1h-1zM704 439h1v1h-1zM705 439h1v1h-1zM706 438h1v1h-1zM707 438h1v1h-1zM708 437h1v1h-1zM709 437h1v1h-1zM710 436h1v1h-1zM711 436h1v1h-1zM712 435h1v1h-1zM713 435h1v1h-1zM714 434h1v1h-1zM715 434h1v1h-1zM716 433h1v1h-1zM717 432h1v1h-1zM718 432h1v1h-1zM719 431h1v1h-1zM720 431h1v1h-1zM721 430h1v1h-1zM722 430h1v1h-1zM723 430h1v1h-1zM724 429h1v1h-1zM725 429h1v1h-1zM726 428h1v1h-1zM727 428h1v1h-1zM728 427h1v1h-1zM729 427h1v1h-1zM730 426h1v1h-1zM731 426h1v1h-1zM732 426h1v1h-1zM733 425h1v1h-1zM734 425h1v1h-1zM735 425h1v1h-1zM736 424h1v1h-1zM737 424h1v1h-1zM738 423h1v1h-1zM739 423h1v1h-1zM740 422h1v1h-1zM741 422h1v1h-1zM742 421h1v1h-1zM743 421h1v1h-1zM744 420h1v1h-1zM745 420h1v1h-1zM746 419h1v1h-1zM747 419h1v1h-1zM748 418h1v1h-1zM749 417h1v1h-1zM750 416h1v1h-1zM751 415h1v1h-1zM752 414h1v1h-1zM753 412h1v2h-1zM754 411h1v1h-1zM755 410h1v1h-1zM756 409h1v1h-1zM757 407h1v2h-1zM758 406h1v1h-1zM759 405h1v1h-1zM760 403h1v2h-1zM761 402h1v1h-1zM762 400h1v2h-1zM763 399h1v1h-1zM764 397h1v2h-1zM765 396h1v1h-1zM766 394h1v2h-1zM767 393h1v1h-1zM768 391h1v2h-1zM769 390h1v1h-1zM770 388h1v2h-1zM771 387h1v1h-1zM772 385h1v2h-1zM773 383h1v2h-1zM774 381h1v2h-1zM775 378h1v3h-1zM776 375h1v3h-1zM777 373h1v2h-1zM778 370h1v3h-1zM779 367h1v3h-1zM780 364h1v3h-1zM781 362h1v2h-1zM782 359h1v3h-1zM783 356h1v3h-1zM784 354h1v2h-1zM785 351h1v3h-1zM786 349h1v2h-1zM787 346h1v3h-1zM788 343h1v3h-1zM789 341h1v2h-1zM790 338h1v3h-1zM791 335h1v3h-1zM792 332h1v3h-1zM793 329h1v3h-1zM794 326h1v3h-1zM795 323h1v3h-1zM796 320h1v3h-1zM797 318h1v2h-1zM798 315h1v3h-1zM799 312h1v3h-1zM800 310h1v2h-1zM801 307h1v3h-1zM802 305h1v2h-1zM803 303h1v2h-1zM804 301h1v2h-1zM805 299h1v2h-1zM806 297h1v2h-1zM807 296h1v1h-1zM808 294h1v2h-1zM809 292h1v2h-1zM810 290h1v2h-1zM811 288h1v2h-1zM812 286h1v2h-1zM813 284h1v2h-1zM814 282h1v2h-1zM815 281h1v1h-1zM816 279h1v2h-1zM817 277h1v2h-1zM818 275h1v2h-1zM819 273h1v2h-1zM820 271h1v2h-1zM821 269h1v2h-1zM822 267h1v2h-1zM823 265h1v2h-1zM824 263h1v2h-1zM825 261h1v2h-1zM826 259h1v2h-1zM827 257h1v2h-1zM828 255h1v2h-1zM829 253h1v2h-1zM830 251h1v2h-1zM831 250h1v1h-1zM832 248h1v2h-1zM833 246h1v2h-1zM834 244h1v2h-1zM835 243h1v1h-1zM836 241h1v2h-1zM837 240h1v1h-1zM838 238h1v2h-1zM839 237h1v1h-1zM840 235h1v2h-1zM841 233h1v2h-1zM842 231h1v2h-1zM843 230h1v1h-1zM844 228h1v2h-1zM845 227h1v1h-1zM846 225h1v2h-1zM847 224h1v1h-1zM848 222h1v2h-1zM849 221h1v1h-1zM850 219h1v2h-1zM851 218h1v1h-1zM852 217h1v1h-1zM853 215h1v2h-1zM854 214h1v1h-1zM855 213h1v1h-1zM856 212h1v1h-1zM857 210h1v2h-1zM858 209h1v1h-1zM859 208h1v1h-1zM860 207h1v1h-1zM861 205h1v2h-1zM862 204h1v1h-1zM863 203h1v1h-1zM864 202h1v1h-1zM865 201h1v1h-1zM866 201h1v1h-1zM867 200h1v1h-1zM868 199h1v1h-1zM869 199h1v1h-1zM870 198h1v1h-1zM871 198h1v1h-1zM872 197h1v1h-1zM873 196h1v1h-1zM874 196h1v1h-1zM875 195h1v1h-1zM876 194h1v1h-1zM877 194h1v1h-1zM878 193h1v1h-1zM879 193h1v1h-1zM880 193h1v1h-1zM881 192h1v1h-1zM882 192h1v1h-1zM883 192h1v1h-1zM884 192h1v1h-1zM885 192h1v1h-1zM886 192h1v1h-1zM887 192h1v1h-1zM888 192h1v1h-1zM889 191h1v1h-1zM890 191h1v1h-1zM891 191h1v1h-1zM892 191h1v1h-1zM893 191h1v1h-1zM894 191h1v1h-1zM895 191h1v1h-1zM896 192h1v1h-1zM897 193h1v1h-1zM898 193h1v1h-1zM899 194h1v1h-1zM900 195h1v1h-1zM901 196h1v1h-1zM902 197h1v1h-1zM903 198h1v1h-1zM904 199h1v1h-1zM905 200h1v1h-1zM906 200h1v1h-1zM907 201h1v1h-1zM908 202h1v1h-1zM909 203h1v1h-1zM910 203h1v1h-1zM911 204h1v1h-1zM912 205h1v1h-1zM913 206h1v1h-1zM914 207h1v1h-1zM915 208h1v1h-1zM916 209h1v1h-1zM917 210h1v2h-1zM918 212h1v1h-1zM919 213h1v1h-1zM920 214h1v1h-1zM921 215h1v1h-1zM922 215h1v1h-1zM923 216h1v1h-1zM924 216h1v1h-1zM925 217h1v1h-1zM926 217h1v1h-1zM927 217h1v1h-1zM928 217h1v1h-1zM929 217h1v1h-1zM930 217h1v1h-1zM931 217h1v1h-1zM932 217h1v1h-1zM933 216h1v1h-1zM934 216h1v1h-1zM935 216h1v1h-1zM936 216h1v1h-1zM937 217h1v1h-1zM938 217h1v1h-1zM939 217h1v1h-1zM940 217h1v1h-1zM941 218h1v1h-1zM942 218h1v1h-1zM943 218h1v1h-1zM944 218h1v1h-1zM945 218h1v1h-1zM946 218h1v1h-1zM947 218h1v1h-1zM948 219h1v1h-1zM949 219h1v1h-1zM950 220h1v1h-1zM951 220h1v1h-1zM952 221h1v1h-1zM953 221h1v1h-1zM954 222h1v1h-1zM955 222h1v1h-1zM956 223h1v1h-1zM957 223h1v1h-1zM958 224h1v1h-1zM959 224h1v1h-1zM960 224h1v1h-1zM961 225h1v1h-1zM962 225h1v1h-1zM963 225h1v1h-1zM964 225h1v1h-1zM965 224h1v1h-1zM966 224h1v1h-1zM967 224h1v1h-1zM968 224h1v1h-1zM969 224h1v1h-1zM970 224h1v1h-1zM971 224h1v1h-1zM972 224h1v1h-1zM973 223h1v1h-1zM974 223h1v1h-1zM975 223h1v1h-1zM976 222h1v1h-1zM977 222h1v1h-1zM978 221h1v1h-1zM979 221h1v1h-1zM980 221h1v1h-1zM981 220h1v1h-1zM982 220h1v1h-1zM983 220h1v1h-1zM984 220h1v1h-1zM985 220h1v1h-1zM986 220h1v1h-1zM987 220h1v1h-1zM988 220h1v1h-1zM989 220h1v1h-1zM990 220h1v1h-1zM991 220h1v1h-1zM992 221h1v1h-1zM993 221h1v1h-1zM994 222h1v1h-1zM995 222h1v1h-1zM996 223h1v1h-1zM997 223h1v1h-1zM998 224h1v1h-1zM999 224h1v1h-1zM1000 224h1v1h-1zM1001 224h1v1h-1zM1002 224h1v1h-1zM1003 224h1v1h-1zM1004 224h1v1h-1zM1005 224h1v1h-1zM1006 224h1v1h-1zM1007 224h1v1h-1zM1008 224h1v1h-1zM1009 225h1v1h-1zM1010 225h1v1h-1zM1011 225h1v1h-1zM1012 226h1v1h-1zM1013 227h1v1h-1zM1014 227h1v1h-1zM1015 228h1v1h-1zM1016 229h1v1h-1zM1017 230h1v1h-1zM1018 230h1v1h-1zM1019 231h1v1h-1zM1020 232h1v1h-1zM1021 233h1v1h-1zM1022 233h1v1h-1zM1023 234h1v1h-1zM1024 235h1v1h-1zM1025 235h1v1h-1zM1026 236h1v1h-1zM1027 236h1v1h-1zM1028 237h1v1h-1zM1029 238h1v1h-1zM1030 238h1v1h-1zM1031 239h1v1h-1zM1032 240h1v1h-1zM1033 241h1v1h-1zM1034 242h1v1h-1zM1035 243h1v1h-1zM1036 244h1v1h-1zM1037 245h1v2h-1zM1038 247h1v1h-1zM1039 248h1v1h-1zM1040 249h1v1h-1zM1041 250h1v1h-1zM1042 251h1v1h-1zM1043 252h1v1h-1zM1044 253h1v1h-1zM1045 254h1v1h-1zM1046 254h1v1h-1zM1047 255h1v1h-1zM1048 256h1v2h-1zM1049 258h1v1h-1zM1050 259h1v2h-1zM1051 261h1v1h-1zM1052 262h1v2h-1zM1053 264h1v1h-1zM1054 265h1v2h-1zM1055 267h1v1h-1zM1056 268h1v2h-1zM1057 270h1v2h-1zM1058 272h1v2h-1zM1059 274h1v1h-1zM1060 275h1v1h-1zM1061 276h1v2h-1zM1062 278h1v1h-1zM1063 279h1v1h-1zM1064 280h1v2h-1zM1065 282h1v2h-1zM1066 284h1v2h-1zM1067 286h1v1h-1zM1068 287h1v1h-1zM1069 288h1v1h-1zM1070 289h1v1h-1zM1071 290h1v1h-1zM1072 291h1v1h-1zM1073 292h1v1h-1zM1074 292h1v1h-1zM1075 293h1v1h-1zM1076 294h1v1h-1zM1077 295h1v1h-1zM1078 295h1v1h-1zM1079 296h1v1h-1zM1080 297h1v1h-1zM1081 298h1v1h-1zM1082 298h1v1h-1zM1083 299h1v1h-1zM1084 300h1v1h-1zM1085 301h1v1h-1zM1086 302h1v1h-1zM1087 303h1v1h-1zM1088 304h1v1h-1zM1089 305h1v2h-1zM1090 307h1v1h-1zM1091 308h1v1h-1zM1092 309h1v1h-1zM1093 310h1v2h-1zM1094 312h1v1h-1zM1095 313h1v1h-1zM1096 314h1v1h-1zM1097 315h1v1h-1zM1098 316h1v1h-1zM1099 317h1v1h-1zM1100 318h1v1h-1zM1101 319h1v2h-1zM1102 321h1v1h-1zM1103 322h1v1h-1zM1104 323h1v1h-1zM1105 324h1v1h-1zM1106 324h1v1h-1zM1107 325h1v1h-1zM1108 326h1v1h-1zM1109 327h1v1h-1zM1110 328h1v1h-1zM1111 329h1v1h-1zM1112 330h1v1h-1zM1113 331h1v1h-1zM1114 331h1v1h-1zM1115 332h1v1h-1zM1116 333h1v1h-1zM1117 333h1v1h-1zM1118 334h1v1h-1zM1119 334h1v1h-1zM1120 335h1v1h-1zM1121 336h1v1h-1zM1122 336h1v1h-1zM1123 337h1v1h-1zM1124 338h1v1h-1zM1125 339h1v1h-1zM1126 339h1v1h-1zM1127 340h1v1h-1zM1128 341h1v1h-1zM1129 342h1v1h-1zM1130 342h1v1h-1zM1131 343h1v1h-1zM1132 344h1v1h-1zM1133 344h1v1h-1zM1134 345h1v1h-1zM1135 345h1v1h-1zM1136 346h1v1h-1zM1137 346h1v1h-1zM1138 347h1v1h-1zM1139 347h1v1h-1zM1140 347h1v1h-1zM1141 348h1v1h-1zM1142 348h1v1h-1zM1143 348h1v1h-1zM1144 349h1v1h-1zM1145 349h1v1h-1zM1146 350h1v1h-1zM1147 350h1v1h-1zM1148 351h1v1h-1zM1149 351h1v1h-1zM1150 352h1v1h-1zM1151 352h1v1h-1zM1152 352h1v1h-1zM1153 353h1v1h-1zM1154 353h1v1h-1zM1155 353h1v1h-1zM1156 353h1v1h-1zM1157 352h1v1h-1zM1158 352h1v1h-1zM1159 352h1v1h-1zM1160 352h1v1h-1zM1161 352h1v1h-1zM1162 352h1v1h-1zM1163 352h1v1h-1zM1164 352h1v1h-1zM1165 351h1v1h-1zM1166 351h1v1h-1zM1167 351h1v1h-1zM1168 351h1v1h-1zM1169 350h1v1h-1zM1170 350h1v1h-1zM1171 350h1v1h-1zM1172 349h1v1h-1zM1173 349h1v1h-1zM1174 348h1v1h-1zM1175 348h1v1h-1zM1176 348h1v1h-1zM1177 347h1v1h-1zM1178 347h1v1h-1zM1179 347h1v1h-1zM1180 346h1v1h-1zM1181 346h1v1h-1zM1182 345h1v1h-1zM1183 345h1v1h-1zM1184 345h1v1h-1zM1185 344h1v1h-1zM1186 344h1v1h-1zM1187 344h1v1h-1zM1188 344h1v1h-1zM1189 344h1v1h-1zM1190 344h1v1h-1zM1191 344h1v1h-1zM1192 344h1v1h-1zM1193 344h1v1h-1zM1194 344h1v1h-1zM1195 344h1v1h-1zM1196 344h1v1h-1zM1197 344h1v1h-1zM1198 344h1v1h-1zM1199 344h1v1h-1zM1200 344h1v1h-1zM1201 345h1v1h-1zM1202 345h1v1h-1zM1203 345h1v1h-1zM1204 345h1v1h-1zM1205 346h1v1h-1zM1206 346h1v1h-1zM1207 346h1v1h-1zM1208 347h1v1h-1zM1209 347h1v1h-1zM1210 348h1v1h-1zM1211 348h1v1h-1zM1212 349h1v1h-1zM1213 349h1v1h-1zM1214 350h1v1h-1zM1215 350h1v1h-1zM1216 350h1v1h-1zM1217 351h1v1h-1zM1218 351h1v1h-1zM1219 351h1v1h-1zM1220 352h1v1h-1zM1221 352h1v1h-1zM1222 353h1v1h-1zM1223 353h1v1h-1zM1224 354h1v1h-1zM1225 354h1v1h-1zM1226 355h1v1h-1zM1227 355h1v1h-1zM1228 355h1v1h-1zM1229 356h1v1h-1zM1230 356h1v1h-1zM1231 356h1v1h-1zM1232 357h1v1h-1zM1233 357h1v1h-1zM1234 358h1v1h-1zM1235 358h1v1h-1zM1236 359h1v1h-1zM1237 359h1v1h-1zM1238 360h1v1h-1zM1239 360h1v1h-1zM1240 361h1v1h-1zM1241 362h1v1h-1zM1242 362h1v1h-1zM1243 363h1v1h-1zM1244 364h1v1h-1zM1245 364h1v1h-1zM1246 365h1v1h-1zM1247 365h1v1h-1zM1248 366h1v1h-1zM1249 367h1v1h-1zM1250 367h1v1h-1zM1251 368h1v1h-1zM1252 369h1v1h-1zM1253 369h1v1h-1zM1254 370h1v1h-1zM1255 370h1v1h-1zM1256 371h1v1h-1zM1257 372h1v1h-1zM1258 372h1v1h-1zM1259 373h1v1h-1zM1260 374h1v1h-1zM1261 375h1v1h-1zM1262 375h1v1h-1zM1263 376h1v1h-1zM1264 377h1v1h-1zM1265 377h1v1h-1zM1266 378h1v1h-1zM1267 378h1v1h-1z" fill="#0000cd" shape-rendering="crispEdges"/>
<path clip-path="url(#cm)" d="M3 461h1v1h-1zM4 460h1v1h-1zM5 459h1v1h-1zM6 459h1v1h-1zM7 458h1v1h-1zM8 457h1v1h-1zM9 456h1v1h-1zM10 455h1v1h-1zM11 454h1v1h-1zM12 453h1v1h-1zM13 452h1v1h-1zM14 452h1v1h-1zM15 451h1v1h-1zM16 450h1v1h-1zM17 450h1v1h-1zM18 449h1v1h-1zM19 449h1v1h-1zM20 449h1v1h-1zM21 448h1v1h-1zM22 448h1v1h-1zM23 448h1v1h-1zM24 448h1v1h-1zM25 447h1v1h-1zM26 447h1v1h-1zM27 447h1v1h-1zM28 446h1v1h-1zM29 446h1v1h-1zM30 445h1v1h-1zM31 445h1v1h-1zM32 444h1v1h-1zM33 443h1v1h-1zM34 443h1v1h-1zM35 442h1v1h-1zM36 441h1v1h-1zM37 440h1v1h-1zM38 440h1v1h-1zM39 439h1v1h-1zM40 438h1v1h-1zM41 438h1v1h-1zM42 437h1v1h-1zM43 437h1v1h-1zM44 437h1v1h-1zM45 436h1v1h-1zM46 436h1v1h-1zM47 436h1v1h-1zM48 435h1v1h-1zM49 435h1v1h-1zM50 434h1v1h-1zM51 434h1v1h-1zM52 433h1v1h-1zM53 433h1v1h-1zM54 432h1v1h-1zM55 432h1v1h-1zM56 431h1v1h-1zM57 431h1v1h-1zM58 430h1v1h-1zM59 430h1v1h-1zM60 430h1v1h-1zM61 429h1v1h-1zM62 429h1v1h-1zM63 429h1v1h-1zM64 429h1v1h-1zM65 430h1v1h-1zM66 430h1v1h-1zM67 430h1v1h-1zM68 430h1v1h-1zM69 429h1v1h-1zM70 429h1v1h-1zM71 429h1v1h-1zM72 429h1v1h-1zM73 428h1v1h-1zM74 428h1v1h-1zM75 428h1v1h-1zM76 427h1v1h-1zM77 427h1v1h-1zM78 426h1v1h-1zM79 426h1v1h-1zM80 426h1v1h-1zM81 425h1v1h-1zM82 425h1v1h-1zM83 425h1v1h-1zM84 425h1v1h-1zM85 424h1v1h-1zM86 424h1v1h-1zM87 424h1v1h-1zM88 424h1v1h-1zM89 424h1v1h-1zM90 424h1v1h-1zM91 424h1v1h-1zM92 424h1v1h-1zM93 424h1v1h-1zM94 424h1v1h-1zM95 424h1v1h-1zM96 424h1v1h-1zM97 424h1v1h-1zM98 424h1v1h-1zM99 424h1v1h-1zM100 423h1v1h-1zM101 423h1v1h-1zM102 422h1v1h-1zM103 422h1v1h-1zM104 422h1v1h-1zM105 423h1v1h-1zM106 423h1v1h-1zM107 423h1v1h-1zM108 424h1v1h-1zM109 424h1v1h-1zM110 425h1v1h-1zM111 425h1v1h-1zM112 426h1v1h-1zM113 426h1v1h-1zM114 427h1v1h-1zM115 427h1v1h-1zM116 428h1v1h-1zM117 429h1v1h-1zM118 429h1v1h-1zM119 430h1v1h-1zM120 431h1v1h-1zM121 432h1v1h-1zM122 432h1v1h-1zM123 433h1v1h-1zM124 434h1v1h-1zM125 435h1v1h-1zM126 435h1v1h-1zM127 436h1v1h-1zM128 437h1v1h-1zM129 437h1v1h-1zM130 438h1v1h-1zM131 438h1v1h-1zM132 438h1v1h-1zM133 439h1v1h-1zM134 439h1v1h-1zM135 439h1v1h-1zM136 439h1v1h-1zM137 439h1v1h-1zM138 439h1v1h-1zM139 439h1v1h-1zM140 439h1v1h-1zM141 440h1v1h-1zM142 440h1v1h-1zM143 440h1v1h-1zM144 440h1v1h-1zM145 441h1v1h-1zM146 441h1v1h-1zM147 441h1v1h-1zM148 442h1v1h-1zM149 442h1v1h-1zM150 443h1v1h-1zM151 443h1v1h-1zM152 443h1v1h-1zM153 443h1v1h-1zM154 443h1v1h-1zM155 443h1v1h-1zM156 444h1v1h-1zM157 444h1v1h-1zM158 445h1v1h-1zM159 445h1v1h-1zM160 445h1v1h-1zM161 444h1v1h-1zM162 444h1v1h-1zM163 444h1v1h-1zM164 444h1v1h-1zM165 444h1v1h-1zM166 444h1v1h-1zM167 444h1v1h-1zM168 443h1v1h-1zM169 442h1v1h-1zM170 442h1v1h-1zM171 441h1v1h-1zM172 441h1v1h-1zM173 440h1v1h-1zM174 440h1v1h-1zM175 440h1v1h-1zM176 439h1v1h-1zM177 438h1v1h-1zM178 438h1v1h-1zM179 437h1v1h-1zM180 436h1v1h-1zM181 436h1v1h-1zM182 435h1v1h-1zM183 435h1v1h-1zM184 435h1v1h-1zM185 434h1v1h-1zM186 434h1v1h-1zM187 434h1v1h-1zM188 434h1v1h-1zM189 433h1v1h-1zM190 433h1v1h-1zM191 433h1v1h-1zM192 433h1v1h-1zM193 434h1v1h-1zM194 434h1v1h-1zM195 434h1v1h-1zM196 434h1v1h-1zM197 435h1v1h-1zM198 435h1v1h-1zM199 435h1v1h-1zM200 434h1v1h-1zM201 433h1v1h-1zM202 433h1v1h-1zM203 432h1v1h-1zM204 432h1v1h-1zM205 431h1v1h-1zM206 431h1v1h-1zM207 431h1v1h-1zM208 431h1v1h-1zM209 430h1v1h-1zM210 430h1v1h-1zM211 430h1v1h-1zM212 430h1v1h-1zM213 429h1v1h-1zM214 429h1v1h-1zM215 429h1v1h-1zM216 429h1v1h-1zM217 428h1v1h-1zM218 428h1v1h-1zM219 428h1v1h-1zM220 428h1v1h-1zM221 427h1v1h-1zM222 427h1v1h-1zM223 427h1v1h-1zM224 427h1v1h-1zM225 426h1v1h-1zM226 426h1v1h-1zM227 426h1v1h-1zM228 426h1v1h-1zM229 426h1v1h-1zM230 426h1v1h-1zM231 426h1v1h-1zM232 427h1v1h-1zM233 427h1v1h-1zM234 428h1v1h-1zM235 428h1v1h-1zM236 429h1v1h-1zM237 429h1v1h-1zM238 430h1v1h-1zM239 430h1v1h-1zM240 430h1v1h-1zM241 430h1v1h-1zM242 430h1v1h-1zM243 430h1v1h-1zM244 430h1v1h-1zM245 431h1v1h-1zM246 431h1v1h-1zM247 431h1v1h-1zM248 431h1v1h-1zM249 432h1v1h-1zM250 432h1v1h-1zM251 432h1v1h-1zM252 433h1v1h-1zM253 433h1v1h-1zM254 434h1v1h-1zM255 434h1v1h-1zM256 435h1v1h-1zM257 436h1v1h-1zM258 436h1v1h-1zM259 437h1v1h-1zM260 438h1v1h-1zM261 439h1v1h-1zM262 440h1v1h-1zM263 441h1v1h-1zM264 442h1v1h-1zM265 443h1v2h-1zM266 445h1v1h-1zM267 446h1v1h-1zM268 447h1v1h-1zM269 448h1v1h-1zM270 449h1v1h-1zM271 450h1v1h-1zM272 451h1v1h-1zM273 452h1v2h-1zM274 454h1v1h-1zM275 455h1v1h-1zM276 456h1v1h-1zM277 457h1v2h-1zM278 459h1v1h-1zM279 460h1v1h-1zM280 461h1v1h-1zM281 462h1v2h-1zM282 464h1v1h-1zM283 465h1v1h-1zM284 466h1v1h-1zM285 467h1v1h-1zM286 468h1v1h-1zM287 469h1v1h-1zM288 470h1v1h-1zM289 470h1v1h-1zM290 471h1v1h-1zM291 471h1v1h-1zM292 472h1v1h-1zM293 472h1v1h-1zM294 473h1v1h-1zM295 473h1v1h-1zM296 473h1v1h-1zM297 474h1v1h-1zM298 474h1v1h-1zM299 474h1v1h-1zM300 474h1v1h-1zM301 475h1v1h-1zM302 475h1v1h-1zM303 475h1v1h-1zM304 475h1v1h-1zM305 476h1v1h-1zM306 476h1v1h-1zM307 476h1v1h-1zM308 476h1v1h-1zM309 476h1v1h-1zM310 476h1v1h-1zM311 476h1v1h-1zM312 476h1v1h-1zM313 476h1v1h-1zM314 476h1v1h-1zM315 476h1v1h-1zM316 476h1v1h-1zM317 475h1v1h-1zM318 475h1v1h-1zM319 475h1v1h-1zM320 474h1v1h-1zM321 474h1v1h-1zM322 473h1v1h-1zM323 473h1v1h-1zM324 473h1v1h-1zM325 472h1v1h-1zM326 472h1v1h-1zM327 472h1v1h-1zM328 471h1v1h-1zM329 470h1v1h-1zM330 470h1v1h-1zM331 469h1v1h-1zM332 468h1v1h-1zM333 467h1v1h-1zM334 467h1v1h-1zM335 466h1v1h-1zM336 465h1v1h-1zM337 464h1v1h-1zM338 464h1v1h-1zM339 463h1v1h-1zM340 462h1v1h-1zM341 461h1v1h-1zM342 461h1v1h-1zM343 460h1v1h-1zM344 459h1v1h-1zM345 458h1v1h-1zM346 457h1v1h-1zM347 456h1v1h-1zM348 455h1v1h-1zM349 454h1v1h-1zM350 454h1v1h-1zM351 453h1v1h-1zM352 453h1v1h-1zM353 452h1v1h-1zM354 452h1v1h-1zM355 452h1v1h-1zM356 451h1v1h-1zM357 451h1v1h-1zM358 450h1v1h-1zM359 450h1v1h-1zM360 450h1v1h-1zM361 449h1v1h-1zM362 449h1v1h-1zM363 449h1v1h-1zM364 449h1v1h-1zM365 448h1v1h-1zM366 448h1v1h-1zM367 448h1v1h-1zM368 447h1v1h-1zM369 446h1v1h-1zM370 446h1v1h-1zM371 445h1v1h-1zM372 444h1v1h-1zM373 444h1v1h-1zM374 443h1v1h-1zM375 443h1v1h-1zM376 442h1v1h-1zM377 441h1v1h-1zM378 441h1v1h-1zM379 440h1v1h-1zM380 439h1v1h-1zM381 439h1v1h-1zM382 438h1v1h-1zM383 438h1v1h-1zM384 437h1v1h-1zM385 437h1v1h-1zM386 436h1v1h-1zM387 436h1v1h-1zM388 436h1v1h-1zM389 435h1v1h-1zM390 435h1v1h-1zM391 435h1v1h-1zM392 434h1v1h-1zM393 434h1v1h-1zM394 433h1v1h-1zM395 433h1v1h-1zM396 433h1v1h-1zM397 432h1v1h-1zM398 432h1v1h-1zM399 432h1v1h-1zM400 432h1v1h-1zM401 431h1v1h-1zM402 431h1v1h-1zM403 431h1v1h-1zM404 431h1v1h-1zM405 431h1v1h-1zM406 431h1v1h-1zM407 431h1v1h-1zM408 430h1v1h-1zM409 430h1v1h-1zM410 429h1v1h-1zM411 429h1v1h-1zM412 429h1v1h-1zM413 428h1v1h-1zM414 428h1v1h-1zM415 428h1v1h-1zM416 428h1v1h-1zM417 428h1v1h-1zM418 428h1v1h-1zM419 428h1v1h-1zM420 428h1v1h-1zM421 429h1v1h-1zM422 429h1v1h-1zM423 429h1v1h-1zM424 429h1v1h-1zM425 429h1v1h-1zM426 429h1v1h-1zM427 429h1v1h-1zM428 429h1v1h-1zM429 430h1v1h-1zM430 430h1v1h-1zM431 430h1v1h-1zM432 430h1v1h-1zM433 431h1v1h-1zM434 431h1v1h-1zM435 431h1v1h-1zM436 431h1v1h-1zM437 432h1v1h-1zM438 432h1v1h-1zM439 432h1v1h-1zM440 433h1v1h-1zM441 433h1v1h-1zM442 434h1v1h-1zM443 434h1v1h-1zM444 435h1v1h-1zM445 435h1v1h-1zM446 436h1v1h-1zM447 436h1v1h-1zM448 437h1v1h-1zM449 437h1v1h-1zM450 438h1v1h-1zM451 438h1v1h-1zM452 439h1v1h-1zM453 439h1v1h-1zM454 440h1v1h-1zM455 440h1v1h-1zM456 441h1v1h-1zM457 441h1v1h-1zM458 442h1v1h-1zM459 442h1v1h-1zM460 443h1v1h-1zM461 444h1v1h-1zM462 444h1v1h-1zM463 445h1v1h-1zM464 446h1v1h-1zM465 447h1v1h-1zM466 447h1v1h-1zM467 448h1v1h-1zM468 449h1v1h-1zM469 450h1v1h-1zM470 450h1v1h-1zM471 451h1v1h-1zM472 452h1v1h-1zM473 452h1v1h-1zM474 453h1v1h-1zM475 453h1v1h-1zM476 453h1v1h-1zM477 453h1v1h-1zM478 453h1v1h-1zM479 453h1v1h-1zM480 454h1v1h-1zM481 454h1v1h-1zM482 455h1v1h-1zM483 455h1v1h-1zM484 455h1v1h-1zM485 456h1v1h-1zM486 456h1v1h-1zM487 456h1v1h-1zM488 457h1v1h-1zM489 457h1v1h-1zM490 458h1v1h-1zM491 458h1v1h-1zM492 459h1v1h-1zM493 459h1v1h-1zM494 460h1v1h-1zM495 460h1v1h-1zM496 461h1v1h-1zM497 461h1v1h-1zM498 462h1v1h-1zM499 462h1v1h-1zM500 463h1v1h-1zM501 464h1v1h-1zM502 464h1v1h-1zM503 465h1v1h-1zM504 466h1v1h-1zM505 467h1v1h-1zM506 467h1v1h-1zM507 468h1v1h-1zM508 469h1v1h-1zM509 470h1v1h-1zM510 471h1v1h-1zM511 472h1v1h-1zM512 473h1v1h-1zM513 474h1v1h-1zM514 474h1v1h-1zM515 475h1v1h-1zM516 476h1v1h-1zM517 477h1v1h-1zM518 477h1v1h-1zM519 478h1v1h-1zM520 479h1v1h-1zM521 480h1v1h-1zM522 480h1v1h-1zM523 481h1v1h-1zM524 482h1v1h-1zM525 483h1v1h-1zM526 483h1v1h-1zM527 484h1v1h-1zM528 485h1v1h-1zM529 486h1v1h-1zM530 487h1v1h-1zM531 488h1v1h-1zM532 489h1v1h-1zM533 490h1v1h-1zM534 490h1v1h-1zM535 491h1v1h-1zM536 492h1v1h-1zM537 492h1v1h-1zM538 493h1v1h-1zM539 493h1v1h-1zM540 493h1v1h-1zM541 494h1v1h-1zM542 494h1v1h-1zM543 494h1v1h-1zM544 495h1v1h-1zM545 496h1v1h-1zM546 496h1v1h-1zM547 497h1v1h-1zM548 497h1v1h-1zM549 498h1v1h-1zM550 498h1v1h-1zM551 498h1v1h-1zM552 498h1v1h-1zM553 498h1v1h-1zM554 498h1v1h-1zM555 498h1v1h-1zM556 498h1v1h-1zM557 498h1v1h-1zM558 498h1v1h-1zM559 498h1v1h-1zM560 498h1v1h-1zM561 499h1v1h-1zM562 499h1v1h-1zM563 499h1v1h-1zM564 498h1v1h-1zM565 498h1v1h-1zM566 497h1v1h-1zM567 497h1v1h-1zM568 497h1v1h-1zM569 496h1v1h-1zM570 496h1v1h-1zM571 496h1v1h-1zM572 495h1v1h-1zM573 495h1v1h-1zM574 494h1v1h-1zM575 494h1v1h-1zM576 494h1v1h-1zM577 493h1v1h-1zM578 493h1v1h-1zM579 493h1v1h-1zM580 492h1v1h-1zM581 492h1v1h-1zM582 491h1v1h-1zM583 491h1v1h-1zM584 490h1v1h-1zM585 489h1v1h-1zM586 489h1v1h-1zM587 488h1v1h-1zM588 487h1v1h-1zM589 487h1v1h-1zM590 486h1v1h-1zM591 486h1v1h-1zM592 485h1v1h-1zM593 485h1v1h-1zM594 484h1v1h-1zM595 484h1v1h-1zM596 484h1v1h-1zM597 483h1v1h-1zM598 483h1v1h-1zM599 483h1v1h-1zM600 482h1v1h-1zM601 482h1v1h-1zM602 481h1v1h-1zM603 481h1v1h-1zM604 480h1v1h-1zM605 479h1v1h-1zM606 479h1v1h-1zM607 478h1v1h-1zM608 477h1v1h-1zM609 476h1v1h-1zM610 476h1v1h-1zM611 475h1v1h-1zM612 474h1v1h-1zM613 473h1v1h-1zM614 473h1v1h-1zM615 472h1v1h-1zM616 471h1v1h-1zM617 470h1v1h-1zM618 470h1v1h-1zM619 469h1v1h-1zM620 468h1v1h-1zM621 467h1v1h-1zM622 466h1v1h-1zM623 465h1v1h-1zM624 464h1v1h-1zM625 463h1v1h-1zM626 462h1v1h-1zM627 461h1v1h-1zM628 460h1v1h-1zM629 459h1v1h-1zM630 458h1v1h-1zM631 457h1v1h-1zM632 456h1v1h-1zM633 454h1v2h-1zM634 453h1v1h-1zM635 452h1v1h-1zM636 451h1v1h-1zM637 449h1v2h-1zM638 448h1v1h-1zM639 447h1v1h-1zM640 446h1v1h-1zM641 445h1v1h-1zM642 445h1v1h-1zM643 444h1v1h-1zM644 443h1v1h-1zM645 442h1v1h-1zM646 442h1v1h-1zM647 441h1v1h-1zM648 440h1v1h-1zM649 439h1v1h-1zM650 438h1v1h-1zM651 437h1v1h-1zM652 436h1v1h-1zM653 435h1v1h-1zM654 435h1v1h-1zM655 434h1v1h-1zM656 434h1v1h-1zM657 433h1v1h-1zM658 433h1v1h-1zM659 433h1v1h-1zM660 432h1v1h-1zM661 432h1v1h-1zM662 431h1v1h-1zM663 431h1v1h-1zM664 431h1v1h-1zM665 430h1v1h-1zM666 430h1v1h-1zM667 430h1v1h-1zM668 430h1v1h-1zM669 430h1v1h-1zM670 430h1v1h-1zM671 430h1v1h-1zM672 430h1v1h-1zM673 430h1v1h-1zM674 430h1v1h-1zM675 430h1v1h-1zM676 430h1v1h-1zM677 429h1v1h-1zM678 429h1v1h-1zM679 429h1v1h-1zM680 429h1v1h-1zM681 430h1v1h-1zM682 430h1v1h-1zM683 430h1v1h-1zM684 430h1v1h-1zM685 431h1v1h-1zM686 431h1v1h-1zM687 431h1v1h-1zM688 431h1v1h-1zM689 432h1v1h-1zM690 432h1v1h-1zM691 432h1v1h-1zM692 433h1v1h-1zM693 433h1v1h-1zM694 434h1v1h-1zM695 434h1v1h-1zM696 434h1v1h-1zM697 435h1v1h-1zM698 435h1v1h-1zM699 435h1v1h-1zM700 435h1v1h-1zM701 435h1v1h-1zM702 435h1v1h-1zM703 435h1v1h-1zM704 435h1v1h-1zM705 436h1v1h-1zM706 436h1v1h-1zM707 436h1v1h-1zM708 435h1v1h-1zM709 435h1v1h-1zM710 434h1v1h-1zM711 434h1v1h-1zM712 433h1v1h-1zM713 432h1v1h-1zM714 432h1v1h-1zM715 431h1v1h-1zM716 430h1v1h-1zM717 429h1v1h-1zM718 429h1v1h-1zM719 428h1v1h-1zM720 427h1v1h-1zM721 427h1v1h-1zM722 426h1v1h-1zM723 426h1v1h-1zM724 425h1v1h-1zM725 425h1v1h-1zM726 424h1v1h-1zM727 424h1v1h-1zM728 423h1v1h-1zM729 422h1v1h-1zM730 422h1v1h-1zM731 421h1v1h-1zM732 420h1v1h-1zM733 419h1v1h-1zM734 419h1v1h-1zM735 418h1v1h-1zM736 417h1v1h-1zM737 416h1v1h-1zM738 415h1v1h-1zM739 414h1v1h-1zM740 413h1v1h-1zM741 412h1v1h-1zM742 412h1v1h-1zM743 411h1v1h-1zM744 409h1v2h-1zM745 408h1v1h-1zM746 406h1v2h-1zM747 404h1v2h-1zM748 401h1v3h-1zM749 399h1v2h-1zM750 396h1v3h-1zM751 393h1v3h-1zM752 391h1v2h-1zM753 388h1v3h-1zM754 386h1v2h-1zM755 383h1v3h-1zM756 380h1v3h-1zM757 378h1v2h-1zM758 375h1v3h-1zM759 372h1v3h-1zM760 368h1v4h-1zM761 365h1v3h-1zM762 361h1v4h-1zM763 358h1v3h-1zM764 355h1v3h-1zM765 353h1v2h-1zM766 350h1v3h-1zM767 347h1v3h-1zM768 345h1v2h-1zM769 342h1v3h-1zM770 340h1v2h-1zM771 337h1v3h-1zM772 333h1v4h-1zM773 329h1v4h-1zM774 325h1v4h-1zM775 320h1v5h-1zM776 314h1v6h-1zM777 309h1v5h-1zM778 303h1v6h-1zM779 298h1v5h-1zM780 292h1v6h-1zM781 287h1v5h-1zM782 281h1v6h-1zM783 276h1v5h-1zM784 271h1v5h-1zM785 267h1v4h-1zM786 262h1v5h-1zM787 257h1v5h-1zM788 252h1v5h-1zM789 247h1v5h-1zM790 242h1v5h-1zM791 237h1v5h-1zM792 231h1v6h-1zM793 226h1v5h-1zM794 220h1v6h-1zM795 215h1v5h-1zM796 210h1v5h-1zM797 205h1v5h-1zM798 200h1v5h-1zM799 196h1v4h-1zM800 192h1v4h-1zM801 188h1v4h-1zM802 184h1v4h-1zM803 181h1v3h-1zM804 180h1v1h-1zM805 178h1v2h-1zM806 177h1v1h-1zM807 176h1v1h-1zM808 174h1v2h-1zM809 173h1v1h-1zM810 171h1v2h-1zM811 170h1v1h-1zM812 169h1v1h-1zM813 169h1v1h-1zM814 168h1v1h-1zM815 168h1v1h-1zM816 167h1v1h-1zM817 166h1v1h-1zM818 166h1v1h-1zM819 165h1v1h-1zM820 164h1v1h-1zM821 163h1v1h-1zM822 162h1v1h-1zM823 161h1v1h-1zM824 160h1v1h-1zM825 158h1v2h-1zM826 157h1v1h-1zM827 156h1v1h-1zM828 156h1v1h-1zM829 157h1v1h-1zM830 157h1v1h-1zM831 157h1v1h-1zM832 158h1v2h-1zM833 160h1v2h-1zM834 162h1v2h-1zM835 164h1v2h-1zM836 166h1v2h-1zM837 168h1v1h-1zM838 169h1v2h-1zM839 171h1v1h-1zM840 172h1v1h-1zM841 173h1v2h-1zM842 175h1v1h-1zM843 176h1v2h-1zM844 178h1v2h-1zM845 180h1v2h-1zM846 182h1v2h-1zM847 184h1v3h-1zM848 187h1v2h-1zM849 189h1v3h-1zM850 192h1v2h-1zM851 194h1v3h-1zM852 197h1v2h-1zM853 199h1v2h-1zM854 201h1v2h-1zM855 203h1v2h-1zM856 205h1v2h-1zM857 207h1v2h-1zM858 209h1v2h-1zM859 211h1v2h-1zM860 212h1v1h-1zM861 213h1v1h-1zM862 213h1v1h-1zM863 213h1v1h-1zM864 214h1v1h-1zM865 215h1v1h-1zM866 215h1v1h-1zM867 216h1v1h-1zM868 216h1v1h-1zM869 217h1v1h-1zM870 217h1v1h-1zM871 217h1v1h-1zM872 217h1v1h-1zM873 218h1v1h-1zM874 218h1v1h-1zM875 218h1v1h-1zM876 218h1v1h-1zM877 217h1v1h-1zM878 217h1v1h-1zM879 217h1v1h-1zM880 218h1v1h-1zM881 219h1v1h-1zM882 220h1v1h-1zM883 221h1v1h-1zM884 222h1v1h-1zM885 222h1v1h-1zM886 223h1v1h-1zM887 223h1v1h-1zM888 224h1v1h-1zM889 224h1v1h-1zM890 225h1v1h-1zM891 225h1v1h-1zM892 225h1v1h-1zM893 224h1v1h-1zM894 224h1v1h-1zM895 224h1v1h-1zM896 224h1v1h-1zM897 224h1v1h-1zM898 224h1v1h-1zM899 224h1v1h-1zM900 224h1v1h-1zM901 223h1v1h-1zM902 223h1v1h-1zM903 223h1v1h-1zM904 222h1v1h-1zM905 222h1v1h-1zM906 221h1v1h-1zM907 221h1v1h-1zM908 220h1v1h-1zM909 220h1v1h-1zM910 219h1v1h-1zM911 219h1v1h-1zM912 218h1v1h-1zM913 218h1v1h-1zM914 217h1v1h-1zM915 217h1v1h-1zM916 217h1v1h-1zM917 216h1v1h-1zM918 216h1v1h-1zM919 216h1v1h-1zM920 216h1v1h-1zM921 217h1v1h-1zM922 217h1v1h-1zM923 217h1v1h-1zM924 217h1v1h-1zM925 217h1v1h-1zM926 217h1v1h-1zM927 217h1v1h-1zM928 217h1v1h-1zM929 217h1v1h-1zM930 217h1v1h-1zM931 217h1v1h-1zM932 217h1v1h-1zM933 218h1v1h-1zM934 218h1v1h-1zM935 218h1v1h-1zM936 217h1v1h-1zM937 217h1v1h-1zM938 216h1v1h-1zM939 216h1v1h-1zM940 216h1v1h-1zM941 216h1v1h-1zM942 216h1v1h-1zM943 216h1v1h-1zM944 216h1v1h-1zM945 215h1v1h-1zM946 215h1v1h-1zM947 215h1v1h-1zM948 216h1v1h-1zM949 217h1v1h-1zM950 218h1v1h-1zM951 219h1v1h-1zM952 220h1v1h-1zM953 221h1v1h-1zM954 222h1v1h-1zM955 223h1v1h-1zM956 224h1v1h-1zM957 224h1v1h-1zM958 225h1v1h-1zM959 225h1v1h-1zM960 226h1v1h-1zM961 226h1v1h-1zM962 227h1v1h-1zM963 227h1v1h-1zM964 228h1v1h-1zM965 228h1v1h-1zM966 229h1v1h-1zM967 229h1v1h-1zM968 229h1v1h-1zM969 228h1v1h-1zM970 228h1v1h-1zM971 228h1v1h-1zM972 227h1v1h-1zM973 227h1v1h-1zM974 226h1v1h-1zM975 226h1v1h-1zM976 225h1v1h-1zM977 224h1v1h-1zM978 224h1v1h-1zM979 223h1v1h-1zM980 222h1v1h-1zM981 221h1v1h-1zM982 220h1v1h-1zM983 219h1v1h-1zM984 220h1v1h-1zM985 220h1v1h-1zM986 221h1v1h-1zM987 221h1v1h-1zM988 222h1v1h-1zM989 223h1v1h-1zM990 224h1v1h-1zM991 225h1v1h-1zM992 226h1v1h-1zM993 227h1v1h-1zM994 228h1v1h-1zM995 229h1v1h-1zM996 229h1v1h-1zM997 230h1v1h-1zM998 230h1v1h-1zM999 230h1v1h-1zM1000 231h1v1h-1zM1001 232h1v1h-1zM1002 232h1v1h-1zM1003 233h1v1h-1zM1004 233h1v1h-1zM1005 232h1v1h-1zM1006 232h1v1h-1zM1007 232h1v1h-1zM1008 232h1v1h-1zM1009 231h1v1h-1zM1010 231h1v1h-1zM1011 231h1v1h-1zM1012 232h1v1h-1zM1013 232h1v1h-1zM1014 233h1v1h-1zM1015 233h1v1h-1zM1016 234h1v1h-1zM1017 235h1v2h-1zM1018 237h1v1h-1zM1019 238h1v1h-1zM1020 239h1v1h-1zM1021 240h1v2h-1zM1022 242h1v1h-1zM1023 243h1v1h-1zM1024 244h1v1h-1zM1025 245h1v2h-1zM1026 247h1v1h-1zM1027 248h1v1h-1zM1028 249h1v2h-1zM1029 251h1v1h-1zM1030 252h1v2h-1zM1031 254h1v2h-1zM1032 256h1v2h-1zM1033 258h1v3h-1zM1034 261h1v2h-1zM1035 263h1v3h-1zM1036 266h1v3h-1zM1037 269h1v2h-1zM1038 271h1v3h-1zM1039 274h1v3h-1zM1040 277h1v2h-1zM1041 279h1v3h-1zM1042 282h1v2h-1zM1043 284h1v2h-1zM1044 286h1v2h-1zM1045 288h1v2h-1zM1046 290h1v2h-1zM1047 292h1v2h-1zM1048 294h1v2h-1zM1049 296h1v2h-1zM1050 298h1v2h-1zM1051 300h1v3h-1zM1052 303h1v2h-1zM1053 305h1v3h-1zM1054 308h1v2h-1zM1055 310h1v3h-1zM1056 313h1v3h-1zM1057 316h1v4h-1zM1058 320h1v3h-1zM1059 323h1v3h-1zM1060 326h1v3h-1zM1061 329h1v2h-1zM1062 331h1v3h-1zM1063 334h1v3h-1zM1064 337h1v3h-1zM1065 340h1v2h-1zM1066 342h1v3h-1zM1067 345h1v2h-1zM1068 347h1v1h-1zM1069 348h1v2h-1zM1070 350h1v1h-1zM1071 351h1v1h-1zM1072 352h1v1h-1zM1073 353h1v1h-1zM1074 354h1v1h-1zM1075 355h1v1h-1zM1076 356h1v1h-1zM1077 357h1v1h-1zM1078 357h1v1h-1zM1079 358h1v1h-1zM1080 359h1v1h-1zM1081 360h1v1h-1zM1082 361h1v1h-1zM1083 362h1v1h-1zM1084 363h1v1h-1zM1085 364h1v1h-1zM1086 365h1v1h-1zM1087 366h1v1h-1zM1088 366h1v1h-1zM1089 366h1v1h-1zM1090 366h1v1h-1zM1091 366h1v1h-1zM1092 366h1v1h-1zM1093 365h1v1h-1zM1094 365h1v1h-1zM1095 365h1v1h-1zM1096 364h1v1h-1zM1097 364h1v1h-1zM1098 363h1v1h-1zM1099 363h1v1h-1zM1100 362h1v1h-1zM1101 362h1v1h-1zM1102 361h1v1h-1zM1103 361h1v1h-1zM1104 360h1v1h-1zM1105 360h1v1h-1zM1106 359h1v1h-1zM1107 359h1v1h-1zM1108 358h1v1h-1zM1109 358h1v1h-1zM1110 357h1v1h-1zM1111 357h1v1h-1zM1112 356h1v1h-1zM1113 355h1v1h-1zM1114 354h1v1h-1zM1115 353h1v1h-1zM1116 352h1v1h-1zM1117 351h1v1h-1zM1118 350h1v1h-1zM1119 349h1v1h-1zM1120 347h1v2h-1zM1121 346h1v1h-1zM1122 344h1v2h-1zM1123 343h1v1h-1zM1124 342h1v1h-1zM1125 342h1v1h-1zM1126 341h1v1h-1zM1127 341h1v1h-1zM1128 340h1v1h-1zM1129 340h1v1h-1zM1130 339h1v1h-1zM1131 339h1v1h-1zM1132 339h1v1h-1zM1133 339h1v1h-1zM1134 339h1v1h-1zM1135 339h1v1h-1zM1136 339h1v1h-1zM1137 340h1v1h-1zM1138 340h1v1h-1zM1139 340h1v1h-1zM1140 340h1v1h-1zM1141 339h1v1h-1zM1142 339h1v1h-1zM1143 339h1v1h-1zM1144 339h1v1h-1zM1145 339h1v1h-1zM1146 339h1v1h-1zM1147 339h1v1h-1zM1148 339h1v1h-1zM1149 340h1v1h-1zM1150 340h1v1h-1zM1151 340h1v1h-1zM1152 340h1v1h-1zM1153 341h1v1h-1zM1154 341h1v1h-1zM1155 341h1v1h-1zM1156 341h1v1h-1zM1157 341h1v1h-1zM1158 341h1v1h-1zM1159 341h1v1h-1zM1160 341h1v1h-1zM1161 341h1v1h-1zM1162 341h1v1h-1zM1163 341h1v1h-1zM1164 341h1v1h-1zM1165 340h1v1h-1zM1166 340h1v1h-1zM1167 340h1v1h-1zM1168 340h1v1h-1zM1169 340h1v1h-1zM1170 340h1v1h-1zM1171 340h1v1h-1zM1172 341h1v1h-1zM1173 341h1v1h-1zM1174 342h1v1h-1zM1175 342h1v1h-1zM1176 343h1v1h-1zM1177 343h1v1h-1zM1178 344h1v1h-1zM1179 344h1v1h-1zM1180 344h1v1h-1zM1181 345h1v1h-1zM1182 345h1v1h-1zM1183 345h1v1h-1zM1184 346h1v1h-1zM1185 347h1v1h-1zM1186 347h1v1h-1zM1187 348h1v1h-1zM1188 349h1v1h-1zM1189 349h1v1h-1zM1190 350h1v1h-1zM1191 350h1v1h-1zM1192 350h1v1h-1zM1193 350h1v1h-1zM1194 350h1v1h-1zM1195 350h1v1h-1zM1196 350h1v1h-1zM1197 350h1v1h-1zM1198 350h1v1h-1zM1199 350h1v1h-1zM1200 350h1v1h-1zM1201 351h1v1h-1zM1202 351h1v1h-1zM1203 351h1v1h-1zM1204 352h1v1h-1zM1205 352h1v1h-1zM1206 353h1v1h-1zM1207 353h1v1h-1zM1208 354h1v1h-1zM1209 355h1v1h-1zM1210 355h1v1h-1zM1211 356h1v1h-1zM1212 357h1v1h-1zM1213 358h1v1h-1zM1214 359h1v1h-1zM1215 360h1v1h-1zM1216 361h1v1h-1zM1217 361h1v1h-1zM1218 362h1v1h-1zM1219 362h1v1h-1zM1220 363h1v1h-1zM1221 364h1v1h-1zM1222 364h1v1h-1zM1223 365h1v1h-1zM1224 366h1v1h-1zM1225 367h1v1h-1zM1226 368h1v1h-1zM1227 369h1v1h-1zM1228 370h1v1h-1zM1229 371h1v2h-1zM1230 373h1v1h-1zM1231 374h1v1h-1zM1232 375h1v1h-1zM1233 376h1v1h-1zM1234 377h1v1h-1zM1235 378h1v1h-1zM1236 379h1v1h-1zM1237 380h1v1h-1zM1238 380h1v1h-1zM1239 381h1v1h-1zM1240 382h1v1h-1zM1241 382h1v1h-1zM1242 383h1v1h-1zM1243 383h1v1h-1zM1244 384h1v1h-1zM1245 385h1v1h-1zM1246 385h1v1h-1zM1247 386h1v1h-1zM1248 387h1v1h-1zM1249 388h1v1h-1zM1250 389h1v1h-1zM1251 390h1v1h-1zM1252 391h1v1h-1zM1253 392h1v1h-1zM1254 393h1v1h-1zM1255 394h1v1h-1zM1256 395h1v1h-1zM1257 396h1v2h-1zM1258 398h1v1h-1zM1259 399h1v1h-1zM1260 400h1v1h-1zM1261 401h1v1h-1zM1262 401h1v1h-1zM1263 402h1v1h-1zM1264 403h1v1h-1zM1265 403h1v1h-1zM1266 404h1v1h-1zM1267 404h1v1h-1z" fill="#ff0000" shape-rendering="crispEdges"/>
<path clip-path="url(#cm)" d="M3 451h1v1h-1zM4 450h1v1h-1zM5 449h1v1h-1zM6 448h1v1h-1zM7 447h1v1h-1zM8 445h1v2h-1zM9 443h1v2h-1zM10 441h1v2h-1zM11 439h1v2h-1zM12 438h1v1h-1zM13 438h1v1h-1zM14 437h1v1h-1zM15 437h1v1h-1zM16 437h1v1h-1zM17 437h1v1h-1zM18 437h1v1h-1zM19 437h1v1h-1zM20 436h1v1h-1zM21 436h1v1h-1zM22 435h1v1h-1zM23 435h1v1h-1zM24 435h1v1h-1zM25 436h1v1h-1zM26 436h1v1h-1zM27 436h1v1h-1zM28 437h1v2h-1zM29 439h1v1h-1zM30 440h1v2h-1zM31 442h1v1h-1zM32 441h1v1h-1zM33 440h1v1h-1zM34 439h1v1h-1zM35 438h1v1h-1zM36 437h1v1h-1zM37 435h1v2h-1zM38 434h1v1h-1zM39 433h1v1h-1zM40 432h1v1h-1zM41 431h1v1h-1zM42 430h1v1h-1zM43 429h1v1h-1zM44 429h1v1h-1zM45 428h1v1h-1zM46 428h1v1h-1zM47 428h1v1h-1zM48 427h1v1h-1zM49 426h1v1h-1zM50 425h1v1h-1zM51 424h1v1h-1zM52 424h1v1h-1zM53 423h1v1h-1zM54 423h1v1h-1zM55 423h1v1h-1zM56 424h1v1h-1zM57 425h1v1h-1zM58 425h1v1h-1zM59 426h1v1h-1zM60 426h1v1h-1zM61 425h1v1h-1zM62 425h1v1h-1zM63 425h1v1h-1zM64 424h1v1h-1zM65 423h1v1h-1zM66 422h1v1h-1zM67 421h1v1h-1zM68 421h1v1h-1zM69 422h1v1h-1zM70 422h1v1h-1zM71 422h1v1h-1zM72 423h1v1h-1zM73 423h1v1h-1zM74 424h1v1h-1zM75 424h1v1h-1zM76 424h1v1h-1zM77 424h1v1h-1zM78 424h1v1h-1zM79 424h1v1h-1zM80 424h1v1h-1zM81 425h1v1h-1zM82 425h1v1h-1zM83 425h1v1h-1zM84 425h1v1h-1zM85 426h1v1h-1zM86 426h1v1h-1zM87 426h1v1h-1zM88 426h1v1h-1zM89 426h1v1h-1zM90 426h1v1h-1zM91 426h1v1h-1zM92 425h1v1h-1zM93 425h1v1h-1zM94 424h1v1h-1zM95 424h1v1h-1zM96 423h1v1h-1zM97 423h1v1h-1zM98 422h1v1h-1zM99 422h1v1h-1zM100 421h1v1h-1zM101 421h1v1h-1zM102 420h1v1h-1zM103 420h1v1h-1zM104 421h1v1h-1zM105 421h1v1h-1zM106 422h1v1h-1zM107 422h1v1h-1zM108 423h1v1h-1zM109 424h1v1h-1zM110 424h1v1h-1zM111 425h1v1h-1zM112 426h1v2h-1zM113 428h1v2h-1zM114 430h1v2h-1zM115 432h1v2h-1zM116 434h1v2h-1zM117 436h1v2h-1zM118 438h1v2h-1zM119 440h1v3h-1zM120 443h1v3h-1zM121 446h1v2h-1zM122 448h1v3h-1zM123 451h1v2h-1zM124 453h1v1h-1zM125 454h1v2h-1zM126 456h1v1h-1zM127 457h1v1h-1zM128 458h1v1h-1zM129 458h1v1h-1zM130 459h1v1h-1zM131 459h1v1h-1zM132 458h1v1h-1zM133 458h1v1h-1zM134 457h1v1h-1zM135 457h1v1h-1zM136 456h1v1h-1zM137 454h1v2h-1zM138 453h1v1h-1zM139 452h1v1h-1zM140 450h1v2h-1zM141 448h1v2h-1zM142 446h1v2h-1zM143 444h1v2h-1zM144 443h1v1h-1zM145 442h1v1h-1zM146 442h1v1h-1zM147 441h1v1h-1zM148 440h1v1h-1zM149 439h1v1h-1zM150 439h1v1h-1zM151 438h1v1h-1zM152 437h1v1h-1zM153 436h1v1h-1zM154 435h1v1h-1zM155 434h1v1h-1zM156 434h1v1h-1zM157 435h1v1h-1zM158 435h1v1h-1zM159 435h1v1h-1zM160 435h1v1h-1zM161 435h1v1h-1zM162 435h1v1h-1zM163 435h1v1h-1zM164 434h1v1h-1zM165 433h1v1h-1zM166 433h1v1h-1zM167 432h1v1h-1zM168 431h1v1h-1zM169 431h1v1h-1zM170 430h1v1h-1zM171 430h1v1h-1zM172 431h1v1h-1zM173 431h1v1h-1zM174 432h1v1h-1zM175 432h1v1h-1zM176 431h1v1h-1zM177 431h1v1h-1zM178 430h1v1h-1zM179 430h1v1h-1zM180 430h1v1h-1zM181 430h1v1h-1zM182 430h1v1h-1zM183 430h1v1h-1zM184 431h1v1h-1zM185 431h1v1h-1zM186 432h1v1h-1zM187 432h1v1h-1zM188 433h1v1h-1zM189 433h1v1h-1zM190 434h1v1h-1zM191 434h1v1h-1zM192 434h1v1h-1zM193 434h1v1h-1zM194 434h1v1h-1zM195 434h1v1h-1zM196 435h1v1h-1zM197 436h1v1h-1zM198 436h1v1h-1zM199 437h1v1h-1zM200 436h1v1h-1zM201 436h1v1h-1zM202 435h1v1h-1zM203 435h1v1h-1zM204 434h1v1h-1zM205 433h1v1h-1zM206 432h1v1h-1zM207 431h1v1h-1zM208 430h1v1h-1zM209 428h1v2h-1zM210 427h1v1h-1zM211 426h1v1h-1zM212 425h1v1h-1zM213 423h1v2h-1zM214 422h1v1h-1zM215 421h1v1h-1zM216 420h1v1h-1zM217 419h1v1h-1zM218 418h1v1h-1zM219 417h1v1h-1zM220 417h1v1h-1zM221 416h1v1h-1zM222 416h1v1h-1zM223 416h1v1h-1zM224 416h1v1h-1zM225 417h1v1h-1zM226 417h1v1h-1zM227 417h1v1h-1zM228 418h1v1h-1zM229 419h1v1h-1zM230 419h1v1h-1zM231 420h1v1h-1zM232 421h1v2h-1zM233 423h1v2h-1zM234 425h1v2h-1zM235 427h1v2h-1zM236 429h1v2h-1zM237 431h1v2h-1zM238 433h1v2h-1zM239 435h1v1h-1zM240 436h1v1h-1zM241 437h1v2h-1zM242 439h1v1h-1zM243 440h1v1h-1zM244 441h1v2h-1zM245 443h1v2h-1zM246 445h1v2h-1zM247 447h1v1h-1zM248 448h1v1h-1zM249 449h1v1h-1zM250 450h1v1h-1zM251 451h1v1h-1zM252 452h1v1h-1zM253 453h1v1h-1zM254 453h1v1h-1zM255 454h1v1h-1zM256 455h1v1h-1zM257 455h1v1h-1zM258 456h1v1h-1zM259 456h1v1h-1zM260 457h1v2h-1zM261 459h1v1h-1zM262 460h1v2h-1zM263 462h1v1h-1zM264 463h1v2h-1zM265 465h1v1h-1zM266 466h1v2h-1zM267 468h1v1h-1zM268 469h1v1h-1zM269 470h1v2h-1zM270 472h1v1h-1zM271 473h1v1h-1zM272 474h1v1h-1zM273 475h1v1h-1zM274 475h1v1h-1zM275 476h1v1h-1zM276 477h1v1h-1zM277 478h1v1h-1zM278 479h1v1h-1zM279 480h1v1h-1zM280 481h1v1h-1zM281 482h1v1h-1zM282 482h1v1h-1zM283 483h1v1h-1zM284 484h1v1h-1zM285 484h1v1h-1zM286 485h1v1h-1zM287 485h1v1h-1zM288 485h1v1h-1zM289 486h1v1h-1zM290 486h1v1h-1zM291 486h1v1h-1zM292 486h1v1h-1zM293 487h1v1h-1zM294 487h1v1h-1zM295 487h1v1h-1zM296 485h1v2h-1zM297 483h1v2h-1zM298 481h1v2h-1zM299 480h1v1h-1zM300 479h1v1h-1zM301 478h1v1h-1zM302 477h1v1h-1zM303 476h1v1h-1zM304 475h1v1h-1zM305 473h1v2h-1zM306 472h1v1h-1zM307 471h1v1h-1zM308 470h1v1h-1zM309 468h1v2h-1zM310 467h1v1h-1zM311 466h1v1h-1zM312 465h1v1h-1zM313 464h1v1h-1zM314 464h1v1h-1zM315 463h1v1h-1zM316 463h1v1h-1zM317 464h1v1h-1zM318 464h1v1h-1zM319 464h1v1h-1zM320 463h1v1h-1zM321 463h1v1h-1zM322 462h1v1h-1zM323 462h1v1h-1zM324 462h1v1h-1zM325 461h1v1h-1zM326 461h1v1h-1zM327 461h1v1h-1zM328 460h1v1h-1zM329 459h1v1h-1zM330 458h1v1h-1zM331 457h1v1h-1zM332 456h1v1h-1zM333 455h1v1h-1zM334 454h1v1h-1zM335 453h1v1h-1zM336 452h1v1h-1zM337 451h1v1h-1zM338 451h1v1h-1zM339 450h1v1h-1zM340 449h1v1h-1zM341 448h1v1h-1zM342 448h1v1h-1zM343 447h1v1h-1zM344 446h1v1h-1zM345 445h1v1h-1zM346 444h1v1h-1zM347 443h1v1h-1zM348 442h1v1h-1zM349 442h1v1h-1zM350 441h1v1h-1zM351 441h1v1h-1zM352 441h1v1h-1zM353 441h1v1h-1zM354 441h1v1h-1zM355 441h1v1h-1zM356 441h1v1h-1zM357 440h1v1h-1zM358 440h1v1h-1zM359 440h1v1h-1zM360 440h1v1h-1zM361 441h1v1h-1zM362 441h1v1h-1zM363 441h1v1h-1zM364 441h1v1h-1zM365 442h1v1h-1zM366 442h1v1h-1zM367 442h1v1h-1zM368 441h1v1h-1zM369 441h1v1h-1zM370 440h1v1h-1zM371 440h1v1h-1zM372 439h1v1h-1zM373 438h1v1h-1zM374 438h1v1h-1zM375 437h1v1h-1zM376 436h1v1h-1zM377 435h1v1h-1zM378 435h1v1h-1zM379 434h1v1h-1zM380 433h1v1h-1zM381 431h1v2h-1zM382 430h1v1h-1zM383 429h1v1h-1zM384 428h1v1h-1zM385 426h1v2h-1zM386 425h1v1h-1zM387 424h1v1h-1zM388 424h1v1h-1zM389 424h1v1h-1zM390 424h1v1h-1zM391 424h1v1h-1zM392 424h1v1h-1zM393 424h1v1h-1zM394 424h1v1h-1zM395 424h1v1h-1zM396 424h1v1h-1zM397 424h1v1h-1zM398 424h1v1h-1zM399 424h1v1h-1zM400 424h1v1h-1zM401 425h1v1h-1zM402 425h1v1h-1zM403 425h1v1h-1zM404 426h1v1h-1zM405 426h1v1h-1zM406 427h1v1h-1zM407 427h1v1h-1zM408 427h1v1h-1zM409 427h1v1h-1zM410 427h1v1h-1zM411 427h1v1h-1zM412 427h1v1h-1zM413 426h1v1h-1zM414 426h1v1h-1zM415 426h1v1h-1zM416 427h1v1h-1zM417 428h1v1h-1zM418 428h1v1h-1zM419 429h1v1h-1zM420 430h1v2h-1zM421 432h1v1h-1zM422 433h1v2h-1zM423 435h1v1h-1zM424 435h1v1h-1zM425 435h1v1h-1zM426 435h1v1h-1zM427 435h1v1h-1zM428 436h1v1h-1zM429 437h1v1h-1zM430 437h1v1h-1zM431 438h1v1h-1zM432 439h1v1h-1zM433 440h1v1h-1zM434 440h1v1h-1zM435 441h1v1h-1zM436 441h1v1h-1zM437 441h1v1h-1zM438 441h1v1h-1zM439 441h1v1h-1zM440 440h1v1h-1zM441 440h1v1h-1zM442 439h1v1h-1zM443 439h1v1h-1zM444 440h1v1h-1zM445 441h1v1h-1zM446 442h1v1h-1zM447 443h1v1h-1zM448 444h1v1h-1zM449 445h1v1h-1zM450 445h1v1h-1zM451 446h1v1h-1zM452 447h1v1h-1zM453 448h1v1h-1zM454 448h1v1h-1zM455 449h1v1h-1zM456 450h1v1h-1zM457 451h1v2h-1zM458 453h1v1h-1zM459 454h1v1h-1zM460 455h1v1h-1zM461 456h1v1h-1zM462 456h1v1h-1zM463 457h1v1h-1zM464 458h1v1h-1zM465 459h1v1h-1zM466 460h1v1h-1zM467 461h1v1h-1zM468 462h1v1h-1zM469 463h1v1h-1zM470 464h1v1h-1zM471 465h1v1h-1zM472 465h1v1h-1zM473 465h1v1h-1zM474 465h1v1h-1zM475 465h1v1h-1zM476 465h1v1h-1zM477 464h1v1h-1zM478 464h1v1h-1zM479 464h1v1h-1zM480 464h1v1h-1zM481 463h1v1h-1zM482 463h1v1h-1zM483 463h1v1h-1zM484 462h1v1h-1zM485 462h1v1h-1zM486 461h1v1h-1zM487 461h1v1h-1zM488 460h1v1h-1zM489 460h1v1h-1zM490 459h1v1h-1zM491 459h1v1h-1zM492 460h1v1h-1zM493 461h1v1h-1zM494 461h1v1h-1zM495 462h1v1h-1zM496 463h1v1h-1zM497 464h1v1h-1zM498 465h1v1h-1zM499 466h1v1h-1zM500 467h1v2h-1zM501 469h1v1h-1zM502 470h1v2h-1zM503 472h1v1h-1zM504 473h1v2h-1zM505 475h1v1h-1zM506 476h1v2h-1zM507 478h1v2h-1zM508 480h1v3h-1zM509 483h1v2h-1zM510 485h1v3h-1zM511 488h1v2h-1zM512 490h1v2h-1zM513 492h1v2h-1zM514 494h1v2h-1zM515 496h1v1h-1zM516 497h1v2h-1zM517 499h1v1h-1zM518 500h1v2h-1zM519 502h1v1h-1zM520 503h1v1h-1zM521 504h1v1h-1zM522 505h1v1h-1zM523 506h1v1h-1zM524 507h1v1h-1zM525 508h1v1h-1zM526 509h1v1h-1zM527 510h1v1h-1zM528 510h1v1h-1zM529 509h1v1h-1zM530 509h1v1h-1zM531 509h1v1h-1zM532 509h1v1h-1zM533 508h1v1h-1zM534 508h1v1h-1zM535 508h1v1h-1zM536 507h1v1h-1zM537 506h1v1h-1zM538 506h1v1h-1zM539 505h1v1h-1zM540 503h1v2h-1zM541 501h1v2h-1zM542 499h1v2h-1zM543 498h1v1h-1zM544 497h1v1h-1zM545 496h1v1h-1zM546 496h1v1h-1zM547 495h1v1h-1zM548 494h1v1h-1zM549 492h1v2h-1zM550 491h1v1h-1zM551 490h1v1h-1zM552 489h1v1h-1zM553 489h1v1h-1zM554 488h1v1h-1zM555 488h1v1h-1zM556 488h1v1h-1zM557 487h1v1h-1zM558 487h1v1h-1zM559 487h1v1h-1zM560 488h1v1h-1zM561 488h1v1h-1zM562 489h1v1h-1zM563 489h1v1h-1zM564 489h1v1h-1zM565 490h1v1h-1zM566 490h1v1h-1zM567 490h1v1h-1zM568 490h1v1h-1zM569 490h1v1h-1zM570 490h1v1h-1zM571 490h1v1h-1zM572 490h1v1h-1zM573 489h1v1h-1zM574 489h1v1h-1zM575 489h1v1h-1zM576 489h1v1h-1zM577 490h1v1h-1zM578 490h1v1h-1zM579 490h1v1h-1zM580 490h1v1h-1zM581 489h1v1h-1zM582 489h1v1h-1zM583 489h1v1h-1zM584 488h1v1h-1zM585 487h1v1h-1zM586 486h1v1h-1zM587 485h1v1h-1zM588 484h1v1h-1zM589 482h1v2h-1zM590 481h1v1h-1zM591 480h1v1h-1zM592 479h1v1h-1zM593 478h1v1h-1zM594 477h1v1h-1zM595 476h1v1h-1zM596 475h1v1h-1zM597 473h1v2h-1zM598 472h1v1h-1zM599 471h1v1h-1zM600 469h1v2h-1zM601 468h1v1h-1zM602 466h1v2h-1zM603 465h1v1h-1zM604 464h1v1h-1zM605 463h1v1h-1zM606 463h1v1h-1zM607 462h1v1h-1zM608 461h1v1h-1zM609 460h1v1h-1zM610 460h1v1h-1zM611 459h1v1h-1zM612 458h1v1h-1zM613 456h1v2h-1zM614 455h1v1h-1zM615 454h1v1h-1zM616 453h1v1h-1zM617 451h1v2h-1zM618 450h1v1h-1zM619 449h1v1h-1zM620 448h1v1h-1zM621 447h1v1h-1zM622 447h1v1h-1zM623 446h1v1h-1zM624 445h1v1h-1zM625 443h1v2h-1zM626 442h1v1h-1zM627 441h1v1h-1zM628 440h1v1h-1zM629 439h1v1h-1zM630 438h1v1h-1zM631 437h1v1h-1zM632 436h1v1h-1zM633 435h1v1h-1zM634 434h1v1h-1zM635 433h1v1h-1zM636 432h1v1h-1zM637 431h1v1h-1zM638 430h1v1h-1zM639 429h1v1h-1zM640 428h1v1h-1zM641 427h1v1h-1zM642 426h1v1h-1zM643 425h1v1h-1zM644 425h1v1h-1zM645 424h1v1h-1zM646 424h1v1h-1zM647 424h1v1h-1zM648 423h1v1h-1zM649 423h1v1h-1zM650 422h1v1h-1zM651 422h1v1h-1zM652 422h1v1h-1zM653 422h1v1h-1zM654 422h1v1h-1zM655 422h1v1h-1zM656 423h1v1h-1zM657 424h1v1h-1zM658 424h1v1h-1zM659 425h1v1h-1zM660 426h1v1h-1zM661 427h1v1h-1zM662 427h1v1h-1zM663 428h1v1h-1zM664 429h1v1h-1zM665 429h1v1h-1zM666 430h1v1h-1zM667 430h1v1h-1zM668 431h1v1h-1zM669 432h1v1h-1zM670 433h1v1h-1zM671 434h1v1h-1zM672 435h1v1h-1zM673 435h1v1h-1zM674 436h1v1h-1zM675 436h1v1h-1zM676 436h1v1h-1zM677 437h1v1h-1zM678 437h1v1h-1zM679 437h1v1h-1zM680 437h1v1h-1zM681 437h1v1h-1zM682 437h1v1h-1zM683 437h1v1h-1zM684 438h1v1h-1zM685 438h1v1h-1zM686 439h1v1h-1zM687 439h1v1h-1zM688 439h1v1h-1zM689 440h1v1h-1zM690 440h1v1h-1zM691 440h1v1h-1zM692 441h1v1h-1zM693 441h1v1h-1zM694 442h1v1h-1zM695 442h1v1h-1zM696 442h1v1h-1zM697 441h1v1h-1zM698 441h1v1h-1zM699 441h1v1h-1zM700 440h1v1h-1zM701 439h1v1h-1zM702 439h1v1h-1zM703 438h1v1h-1zM704 437h1v1h-1zM705 436h1v1h-1zM706 436h1v1h-1zM707 435h1v1h-1zM708 433h1v2h-1zM709 431h1v2h-1zM710 429h1v2h-1zM711 426h1v3h-1zM712 423h1v3h-1zM713 421h1v2h-1zM714 418h1v3h-1zM715 416h1v2h-1zM716 414h1v2h-1zM717 412h1v2h-1zM718 410h1v2h-1zM719 408h1v2h-1zM720 407h1v1h-1zM721 405h1v2h-1zM722 404h1v1h-1zM723 403h1v1h-1zM724 402h1v1h-1zM725 402h1v1h-1zM726 401h1v1h-1zM727 401h1v1h-1zM728 400h1v1h-1zM729 400h1v1h-1zM730 399h1v1h-1zM731 399h1v1h-1zM732 399h1v1h-1zM733 400h1v1h-1zM734 400h1v1h-1zM735 400h1v1h-1zM736 400h1v1h-1zM737 399h1v1h-1zM738 399h1v1h-1zM739 399h1v1h-1zM740 398h1v1h-1zM741 398h1v1h-1zM742 397h1v1h-1zM743 396h1v2h-1zM744 393h1v3h-1zM745 391h1v2h-1zM746 388h1v3h-1zM747 384h1v4h-1zM748 379h1v5h-1zM749 374h1v5h-1zM750 369h1v5h-1zM751 364h1v5h-1zM752 359h1v5h-1zM753 355h1v4h-1zM754 350h1v5h-1zM755 344h1v6h-1zM756 338h1v6h-1zM757 332h1v6h-1zM758 326h1v6h-1zM759 319h1v7h-1zM760 311h1v8h-1zM761 303h1v8h-1zM762 295h1v8h-1zM763 289h1v6h-1zM764 283h1v6h-1zM765 278h1v5h-1zM766 272h1v6h-1zM767 268h1v4h-1zM768 266h1v2h-1zM769 263h1v3h-1zM770 261h1v2h-1zM771 257h1v4h-1zM772 251h1v6h-1zM773 245h1v6h-1zM774 239h1v6h-1zM775 231h1v8h-1zM776 222h1v9h-1zM777 213h1v9h-1zM778 204h1v9h-1zM779 196h1v8h-1zM780 190h1v6h-1zM781 183h1v7h-1zM782 177h1v6h-1zM783 171h1v6h-1zM784 165h1v6h-1zM785 159h1v6h-1zM786 153h1v6h-1zM787 146h1v7h-1zM788 140h1v6h-1zM789 134h1v6h-1zM790 128h1v6h-1zM791 122h1v6h-1zM792 117h1v5h-1zM793 113h1v4h-1zM794 108h1v5h-1zM795 105h1v3h-1zM796 106h1v1h-1zM797 107h1v1h-1zM798 107h1v1h-1zM799 108h1v1h-1zM800 109h1v2h-1zM801 111h1v2h-1zM802 113h1v2h-1zM803 115h1v3h-1zM804 118h1v4h-1zM805 122h1v5h-1zM806 127h1v4h-1zM807 131h1v5h-1zM808 136h1v5h-1zM809 141h1v4h-1zM810 145h1v5h-1zM811 150h1v7h-1zM812 157h1v8h-1zM813 165h1v8h-1zM814 173h1v8h-1zM815 181h1v6h-1zM816 187h1v4h-1zM817 191h1v4h-1zM818 195h1v4h-1zM819 199h1v4h-1zM820 203h1v3h-1zM821 206h1v3h-1zM822 209h1v3h-1zM823 212h1v2h-1zM824 210h1v2h-1zM825 207h1v3h-1zM826 205h1v2h-1zM827 203h1v2h-1zM828 202h1v1h-1zM829 201h1v1h-1zM830 201h1v1h-1zM831 199h1v2h-1zM832 197h1v2h-1zM833 194h1v3h-1zM834 192h1v2h-1zM835 190h1v2h-1zM836 190h1v1h-1zM837 191h1v1h-1zM838 191h1v1h-1zM839 191h1v1h-1zM840 191h1v1h-1zM841 190h1v1h-1zM842 190h1v1h-1zM843 190h1v2h-1zM844 192h1v4h-1zM845 196h1v3h-1zM846 199h1v4h-1zM847 203h1v2h-1zM848 205h1v2h-1zM849 207h1v1h-1zM850 208h1v2h-1zM851 210h1v1h-1zM852 211h1v2h-1zM853 213h1v2h-1zM854 215h1v2h-1zM855 217h1v3h-1zM856 220h1v3h-1zM857 223h1v2h-1zM858 225h1v3h-1zM859 228h1v3h-1zM860 231h1v2h-1zM861 233h1v2h-1zM862 235h1v2h-1zM863 237h1v2h-1zM864 238h1v1h-1zM865 239h1v1h-1zM866 239h1v1h-1zM867 239h1v1h-1zM868 240h1v2h-1zM869 242h1v2h-1zM870 244h1v2h-1zM871 246h1v1h-1zM872 244h1v2h-1zM873 242h1v2h-1zM874 240h1v2h-1zM875 238h1v2h-1zM876 236h1v2h-1zM877 233h1v3h-1zM878 231h1v2h-1zM879 229h1v2h-1zM880 228h1v1h-1zM881 227h1v1h-1zM882 226h1v1h-1zM883 225h1v1h-1zM884 224h1v1h-1zM885 223h1v1h-1zM886 222h1v1h-1zM887 220h1v2h-1zM888 218h1v2h-1zM889 216h1v2h-1zM890 214h1v2h-1zM891 212h1v2h-1zM892 211h1v1h-1zM893 209h1v2h-1zM894 208h1v1h-1zM895 207h1v1h-1zM896 208h1v1h-1zM897 208h1v1h-1zM898 209h1v1h-1zM899 209h1v1h-1zM900 209h1v1h-1zM901 209h1v1h-1zM902 209h1v1h-1zM903 209h1v1h-1zM904 208h1v1h-1zM905 206h1v2h-1zM906 205h1v1h-1zM907 204h1v1h-1zM908 203h1v1h-1zM909 203h1v1h-1zM910 202h1v1h-1zM911 202h1v1h-1zM912 203h1v2h-1zM913 205h1v2h-1zM914 207h1v2h-1zM915 209h1v2h-1zM916 211h1v2h-1zM917 213h1v2h-1zM918 215h1v2h-1zM919 217h1v1h-1zM920 218h1v1h-1zM921 219h1v2h-1zM922 221h1v1h-1zM923 222h1v2h-1zM924 224h1v3h-1zM925 227h1v2h-1zM926 229h1v3h-1zM927 232h1v2h-1zM928 233h1v1h-1zM929 233h1v1h-1zM930 233h1v1h-1zM931 233h1v1h-1zM932 232h1v1h-1zM933 232h1v1h-1zM934 231h1v1h-1zM935 231h1v1h-1zM936 229h1v2h-1zM937 228h1v1h-1zM938 226h1v2h-1zM939 225h1v1h-1zM940 224h1v1h-1zM941 222h1v2h-1zM942 221h1v1h-1zM943 219h1v2h-1zM944 216h1v3h-1zM945 213h1v3h-1zM946 210h1v3h-1zM947 208h1v2h-1zM948 209h1v2h-1zM949 211h1v2h-1zM950 213h1v2h-1zM951 215h1v2h-1zM952 217h1v2h-1zM953 219h1v2h-1zM954 221h1v2h-1zM955 223h1v3h-1zM956 226h1v2h-1zM957 228h1v2h-1zM958 230h1v2h-1zM959 232h1v2h-1zM960 233h1v1h-1zM961 233h1v1h-1zM962 233h1v1h-1zM963 233h1v1h-1zM964 234h1v2h-1zM965 236h1v2h-1zM966 238h1v2h-1zM967 240h1v1h-1zM968 238h1v2h-1zM969 236h1v2h-1zM970 234h1v2h-1zM971 232h1v2h-1zM972 230h1v2h-1zM973 228h1v2h-1zM974 226h1v2h-1zM975 223h1v3h-1zM976 221h1v2h-1zM977 219h1v2h-1zM978 217h1v2h-1zM979 215h1v2h-1zM980 214h1v1h-1zM981 213h1v1h-1zM982 212h1v1h-1zM983 211h1v1h-1zM984 212h1v1h-1zM985 212h1v1h-1zM986 213h1v1h-1zM987 213h1v2h-1zM988 215h1v3h-1zM989 218h1v3h-1zM990 221h1v3h-1zM991 224h1v3h-1zM992 227h1v2h-1zM993 229h1v2h-1zM994 231h1v2h-1zM995 233h1v2h-1zM996 235h1v2h-1zM997 237h1v2h-1zM998 239h1v2h-1zM999 241h1v2h-1zM1000 243h1v1h-1zM1001 244h1v2h-1zM1002 246h1v1h-1zM1003 247h1v1h-1zM1004 246h1v1h-1zM1005 246h1v1h-1zM1006 245h1v1h-1zM1007 245h1v1h-1zM1008 244h1v1h-1zM1009 242h1v2h-1zM1010 241h1v1h-1zM1011 240h1v1h-1zM1012 241h1v1h-1zM1013 242h1v2h-1zM1014 244h1v1h-1zM1015 245h1v2h-1zM1016 247h1v2h-1zM1017 249h1v2h-1zM1018 251h1v2h-1zM1019 253h1v3h-1zM1020 256h1v4h-1zM1021 260h1v3h-1zM1022 263h1v4h-1zM1023 267h1v3h-1zM1024 270h1v3h-1zM1025 273h1v2h-1zM1026 275h1v3h-1zM1027 278h1v3h-1zM1028 281h1v2h-1zM1029 283h1v3h-1zM1030 286h1v2h-1zM1031 288h1v3h-1zM1032 291h1v3h-1zM1033 294h1v3h-1zM1034 297h1v3h-1zM1035 300h1v3h-1zM1036 303h1v4h-1zM1037 307h1v4h-1zM1038 311h1v4h-1zM1039 315h1v3h-1zM1040 318h1v4h-1zM1041 322h1v4h-1zM1042 326h1v4h-1zM1043 330h1v3h-1zM1044 333h1v4h-1zM1045 337h1v4h-1zM1046 341h1v4h-1zM1047 345h1v4h-1zM1048 349h1v5h-1zM1049 354h1v5h-1zM1050 359h1v5h-1zM1051 364h1v4h-1zM1052 368h1v2h-1zM1053 370h1v2h-1zM1054 372h1v2h-1zM1055 374h1v2h-1zM1056 376h1v2h-1zM1057 378h1v2h-1zM1058 380h1v2h-1zM1059 382h1v1h-1zM1060 383h1v1h-1zM1061 384h1v1h-1zM1062 384h1v1h-1zM1063 385h1v1h-1zM1064 386h1v2h-1zM1065 388h1v2h-1zM1066 390h1v2h-1zM1067 392h1v1h-1zM1068 390h1v2h-1zM1069 388h1v2h-1zM1070 386h1v2h-1zM1071 384h1v2h-1zM1072 382h1v2h-1zM1073 380h1v2h-1zM1074 378h1v2h-1zM1075 375h1v3h-1zM1076 372h1v3h-1zM1077 369h1v3h-1zM1078 366h1v3h-1zM1079 363h1v3h-1zM1080 361h1v2h-1zM1081 358h1v3h-1zM1082 356h1v2h-1zM1083 353h1v3h-1zM1084 351h1v2h-1zM1085 348h1v3h-1zM1086 346h1v2h-1zM1087 344h1v2h-1zM1088 344h1v1h-1zM1089 344h1v1h-1zM1090 344h1v1h-1zM1091 344h1v1h-1zM1092 344h1v1h-1zM1093 343h1v1h-1zM1094 343h1v1h-1zM1095 343h1v1h-1zM1096 343h1v1h-1zM1097 344h1v1h-1zM1098 344h1v1h-1zM1099 344h1v1h-1zM1100 344h1v1h-1zM1101 345h1v1h-1zM1102 345h1v1h-1zM1103 345h1v1h-1zM1104 345h1v1h-1zM1105 346h1v1h-1zM1106 346h1v1h-1zM1107 346h1v1h-1zM1108 347h1v1h-1zM1109 348h1v1h-1zM1110 348h1v1h-1zM1111 349h1v1h-1zM1112 349h1v1h-1zM1113 349h1v1h-1zM1114 349h1v1h-1zM1115 349h1v1h-1zM1116 348h1v1h-1zM1117 347h1v1h-1zM1118 346h1v1h-1zM1119 345h1v1h-1zM1120 344h1v1h-1zM1121 343h1v1h-1zM1122 342h1v1h-1zM1123 341h1v1h-1zM1124 339h1v2h-1zM1125 337h1v2h-1zM1126 335h1v2h-1zM1127 333h1v2h-1zM1128 331h1v2h-1zM1129 328h1v3h-1zM1130 326h1v2h-1zM1131 324h1v2h-1zM1132 324h1v1h-1zM1133 324h1v1h-1zM1134 324h1v1h-1zM1135 324h1v1h-1zM1136 325h1v1h-1zM1137 326h1v2h-1zM1138 328h1v1h-1zM1139 329h1v1h-1zM1140 330h1v1h-1zM1141 331h1v2h-1zM1142 333h1v1h-1zM1143 334h1v1h-1zM1144 335h1v1h-1zM1145 336h1v2h-1zM1146 338h1v1h-1zM1147 339h1v1h-1zM1148 340h1v2h-1zM1149 342h1v2h-1zM1150 344h1v2h-1zM1151 346h1v1h-1zM1152 347h1v1h-1zM1153 348h1v1h-1zM1154 349h1v1h-1zM1155 350h1v1h-1zM1156 350h1v1h-1zM1157 349h1v1h-1zM1158 349h1v1h-1zM1159 349h1v1h-1zM1160 350h1v1h-1zM1161 351h1v1h-1zM1162 351h1v1h-1zM1163 352h1v1h-1zM1164 352h1v1h-1zM1165 352h1v1h-1zM1166 352h1v1h-1zM1167 352h1v1h-1zM1168 351h1v1h-1zM1169 351h1v1h-1zM1170 350h1v1h-1zM1171 350h1v1h-1zM1172 349h1v1h-1zM1173 348h1v1h-1zM1174 348h1v1h-1zM1175 347h1v1h-1zM1176 347h1v1h-1zM1177 348h1v1h-1zM1178 348h1v1h-1zM1179 348h1v1h-1zM1180 347h1v1h-1zM1181 346h1v1h-1zM1182 346h1v1h-1zM1183 345h1v1h-1zM1184 346h1v1h-1zM1185 347h1v1h-1zM1186 347h1v1h-1zM1187 348h1v1h-1zM1188 349h1v1h-1zM1189 350h1v1h-1zM1190 350h1v1h-1zM1191 351h1v1h-1zM1192 351h1v1h-1zM1193 351h1v1h-1zM1194 351h1v1h-1zM1195 351h1v1h-1zM1196 351h1v1h-1zM1197 351h1v1h-1zM1198 351h1v1h-1zM1199 351h1v1h-1zM1200 352h1v1h-1zM1201 353h1v1h-1zM1202 354h1v1h-1zM1203 355h1v1h-1zM1204 356h1v1h-1zM1205 357h1v1h-1zM1206 358h1v1h-1zM1207 359h1v1h-1zM1208 360h1v2h-1zM1209 362h1v2h-1zM1210 364h1v2h-1zM1211 366h1v2h-1zM1212 368h1v3h-1zM1213 371h1v3h-1zM1214 374h1v3h-1zM1215 377h1v2h-1zM1216 379h1v2h-1zM1217 381h1v2h-1zM1218 383h1v2h-1zM1219 385h1v2h-1zM1220 387h1v2h-1zM1221 389h1v1h-1zM1222 390h1v2h-1zM1223 392h1v1h-1zM1224 393h1v1h-1zM1225 394h1v1h-1zM1226 394h1v1h-1zM1227 395h1v1h-1zM1228 396h1v1h-1zM1229 397h1v1h-1zM1230 397h1v1h-1zM1231 398h1v1h-1zM1232 398h1v1h-1zM1233 398h1v1h-1zM1234 398h1v1h-1zM1235 398h1v1h-1zM1236 398h1v1h-1zM1237 397h1v1h-1zM1238 397h1v1h-1zM1239 397h1v1h-1zM1240 398h1v1h-1zM1241 398h1v1h-1zM1242 399h1v1h-1zM1243 399h1v1h-1zM1244 399h1v1h-1zM1245 399h1v1h-1zM1246 399h1v1h-1zM1247 399h1v1h-1zM1248 398h1v1h-1zM1249 397h1v1h-1zM1250 397h1v1h-1zM1251 396h1v1h-1zM1252 396h1v1h-1zM1253 397h1v1h-1zM1254 397h1v1h-1zM1255 397h1v2h-1zM1256 399h1v2h-1zM1257 401h1v3h-1zM1258 404h1v2h-1zM1259 406h1v2h-1zM1260 408h1v1h-1zM1261 409h1v2h-1zM1262 411h1v1h-1zM1263 412h1v1h-1zM1264 413h1v1h-1zM1265 414h1v1h-1zM1266 415h1v1h-1zM1267 416h1v1h-1z" fill="#ffa500" shape-rendering="crispEdges"/>
<g shape-rendering="crispEdges">
<rect x="3" y="202" width="1592" height="2" fill="#ff0000"/>
<rect x="2" y="200" width="6" height="6" fill="#ff0000"/>
<rect x="4" y="202" width="2" height="2" fill="#ffffff"/>
<rect x="1589" y="200" width="6" height="6" fill="#ff0000"/>
<rect x="1591" y="202" width="2" height="2" fill="#ffffff"/>
<rect x="3" y="273" width="1592" height="2" fill="#ff0000"/>
<rect x="2" y="271" width="6" height="6" fill="#ff0000"/>
<rect x="4" y="273" width="2" height="2" fill="#ffffff"/>
<rect x="1589" y="271" width="6" height="6" fill="#ff0000"/>
<rect x="1591" y="273" width="2" height="2" fill="#ffffff"/>
<rect x="3" y="339" width="1592" height="2" fill="#00ff00"/>
<rect x="2" y="337" width="6" height="6" fill="#00ff00"/>
<rect x="4" y="339" width="2" height="2" fill="#ffffff"/>
<rect x="1589" y="337" width="6" height="6" fill="#00ff00"/>
<rect x="1591" y="339" width="2" height="2" fill="#ffffff"/>
<rect x="3" y="421" width="1592" height="2" fill="#0000ff"/>
<rect x="2" y="419" width="6" height="6" fill="#0000ff"/>
<rect x="4" y="421" width="2" height="2" fill="#ffffff"/>
<rect x="1589" y="419" width="6" height="6" fill="#0000ff"/>
<rect x="1591" y="421" width="2" height="2" fill="#ffffff"/>
<rect x="3" y="503" width="1592" height="2" fill="#0000ff"/>
<rect x="2" y="501" width="6" height="6" fill="#0000ff"/>
<rect x="4" y="503" width="2" height="2" fill="#ffffff"/>
<rect x="1589" y="501" width="6" height="6" fill="#0000ff"/>
<rect x="1591" y="503" width="2" height="2" fill="#ffffff"/>
</g>
<path clip-path="url(#cr)" d="M3 572h1v2h-1zM4 570h1v2h-1zM5 567h1v3h-1zM6 565h1v2h-1zM7 563h1v2h-1zM8 562h1v1h-1zM9 561h1v1h-1zM10 561h1v1h-1zM11 560h1v2h-1zM12 562h1v3h-1zM13 565h1v2h-1zM14 567h1v3h-1zM15 570h1v2h-1zM16 572h1v1h-1zM17 573h1v1h-1zM18 573h1v1h-1zM19 574h1v1h-1zM20 575h1v1h-1zM21 575h1v1h-1zM22 576h1v1h-1zM23 576h1v1h-1zM24 575h1v1h-1zM25 574h1v1h-1zM26 574h1v1h-1zM27 573h1v1h-1zM28 574h1v1h-1zM29 575h1v1h-1zM30 575h1v1h-1zM31 575h1v2h-1zM32 573h1v2h-1zM33 570h1v3h-1zM34 568h1v2h-1zM35 566h1v2h-1zM36 566h1v1h-1zM37 565h1v1h-1zM38 565h1v1h-1zM39 565h1v1h-1zM40 566h1v2h-1zM41 568h1v1h-1zM42 569h1v2h-1zM43 571h1v1h-1zM44 572h1v1h-1zM45 572h1v1h-1zM46 573h1v1h-1zM47 573h1v1h-1zM48 572h1v1h-1zM49 571h1v1h-1zM50 571h1v1h-1zM51 570h1v1h-1zM52 569h1v1h-1zM53 568h1v1h-1zM54 567h1v1h-1zM55 566h1v1h-1zM56 567h1v2h-1zM57 569h1v2h-1zM58 571h1v2h-1zM59 573h1v2h-1zM60 573h1v1h-1zM61 573h1v1h-1zM62 572h1v1h-1zM63 572h1v1h-1zM64 571h1v1h-1zM65 570h1v1h-1zM66 570h1v1h-1zM67 569h1v1h-1zM68 570h1v1h-1zM69 571h1v1h-1zM70 572h1v1h-1zM71 573h1v1h-1zM72 573h1v1h-1zM73 573h1v1h-1zM74 573h1v1h-1zM75 573h1v1h-1zM76 574h1v1h-1zM77 574h1v1h-1zM78 575h1v1h-1zM79 575h1v1h-1zM80 574h1v1h-1zM81 574h1v1h-1zM82 573h1v1h-1zM83 573h1v1h-1zM84 573h1v1h-1zM85 572h1v1h-1zM86 572h1v1h-1zM87 572h1v1h-1zM88 573h1v1h-1zM89 573h1v1h-1zM90 574h1v1h-1zM91 574h1v1h-1zM92 573h1v1h-1zM93 572h1v1h-1zM94 571h1v1h-1zM95 570h1v1h-1zM96 570h1v1h-1zM97 570h1v1h-1zM98 570h1v1h-1zM99 570h1v1h-1zM100 569h1v1h-1zM101 569h1v1h-1zM102 568h1v1h-1zM103 568h1v2h-1zM104 570h1v3h-1zM105 573h1v4h-1zM106 577h1v3h-1zM107 580h1v2h-1zM108 581h1v1h-1zM109 582h1v1h-1zM110 582h1v1h-1zM111 582h1v1h-1zM112 583h1v2h-1zM113 585h1v2h-1zM114 587h1v2h-1zM115 589h1v1h-1zM116 589h1v1h-1zM117 588h1v1h-1zM118 588h1v1h-1zM119 588h1v1h-1zM120 589h1v1h-1zM121 590h1v1h-1zM122 590h1v1h-1zM123 591h1v1h-1zM124 591h1v1h-1zM125 591h1v1h-1zM126 591h1v1h-1zM127 590h1v2h-1zM128 588h1v2h-1zM129 586h1v2h-1zM130 584h1v2h-1zM131 582h1v2h-1zM132 582h1v1h-1zM133 581h1v1h-1zM134 581h1v1h-1zM135 581h1v1h-1zM136 579h1v2h-1zM137 577h1v2h-1zM138 575h1v2h-1zM139 574h1v1h-1zM140 574h1v1h-1zM141 573h1v1h-1zM142 573h1v1h-1zM143 573h1v1h-1zM144 574h1v2h-1zM145 576h1v2h-1zM146 578h1v2h-1zM147 580h1v2h-1zM148 580h1v1h-1zM149 579h1v1h-1zM150 578h1v1h-1zM151 577h1v1h-1zM152 576h1v1h-1zM153 575h1v1h-1zM154 574h1v1h-1zM155 573h1v1h-1zM156 574h1v1h-1zM157 575h1v1h-1zM158 575h1v1h-1zM159 576h1v1h-1zM160 576h1v1h-1zM161 575h1v1h-1zM162 575h1v1h-1zM163 575h1v1h-1zM164 575h1v1h-1zM165 574h1v1h-1zM166 574h1v1h-1zM167 574h1v1h-1zM168 574h1v1h-1zM169 574h1v1h-1zM170 574h1v1h-1zM171 574h1v1h-1zM172 575h1v1h-1zM173 576h1v1h-1zM174 576h1v1h-1zM175 577h1v1h-1zM176 576h1v1h-1zM177 575h1v1h-1zM178 575h1v1h-1zM179 574h1v1h-1zM180 574h1v1h-1zM181 575h1v1h-1zM182 575h1v1h-1zM183 575h1v1h-1zM184 576h1v1h-1zM185 577h1v1h-1zM186 577h1v1h-1zM187 578h1v1h-1zM188 578h1v1h-1zM189 579h1v1h-1zM190 579h1v1h-1zM191 579h1v1h-1zM192 579h1v1h-1zM193 579h1v1h-1zM194 579h1v1h-1zM195 579h1v1h-1zM196 580h1v1h-1zM197 580h1v1h-1zM198 581h1v1h-1zM199 580h1v2h-1zM200 577h1v3h-1zM201 575h1v2h-1zM202 572h1v3h-1zM203 570h1v2h-1zM204 570h1v1h-1zM205 569h1v1h-1zM206 569h1v1h-1zM207 569h1v1h-1zM208 569h1v1h-1zM209 568h1v1h-1zM210 568h1v1h-1zM211 568h1v1h-1zM212 569h1v1h-1zM213 569h1v1h-1zM214 570h1v1h-1zM215 570h1v1h-1zM216 571h1v1h-1zM217 571h1v1h-1zM218 572h1v1h-1zM219 572h1v1h-1zM220 571h1v1h-1zM221 570h1v1h-1zM222 570h1v1h-1zM223 569h1v1h-1zM224 570h1v1h-1zM225 571h1v1h-1zM226 572h1v1h-1zM227 573h1v1h-1zM228 574h1v2h-1zM229 576h1v1h-1zM230 577h1v2h-1zM231 579h1v2h-1zM232 581h1v2h-1zM233 583h1v3h-1zM234 586h1v2h-1zM235 588h1v2h-1zM236 589h1v1h-1zM237 589h1v1h-1zM238 589h1v1h-1zM239 589h1v1h-1zM240 587h1v2h-1zM241 585h1v2h-1zM242 583h1v2h-1zM243 582h1v1h-1zM244 583h1v1h-1zM245 584h1v1h-1zM246 584h1v1h-1zM247 585h1v1h-1zM248 585h1v1h-1zM249 586h1v1h-1zM250 586h1v1h-1zM251 586h1v1h-1zM252 587h1v1h-1zM253 588h1v2h-1zM254 590h1v1h-1zM255 591h1v1h-1zM256 591h1v1h-1zM257 591h1v1h-1zM258 591h1v1h-1zM259 591h1v1h-1zM260 591h1v1h-1zM261 592h1v1h-1zM262 592h1v1h-1zM263 592h1v1h-1zM264 593h1v1h-1zM265 593h1v1h-1zM266 594h1v1h-1zM267 594h1v1h-1zM268 594h1v1h-1zM269 595h1v1h-1zM270 595h1v1h-1zM271 595h1v1h-1zM272 595h1v1h-1zM273 594h1v1h-1zM274 594h1v1h-1zM275 594h1v1h-1zM276 595h1v1h-1zM277 595h1v1h-1zM278 596h1v1h-1zM279 596h1v1h-1zM280 596h1v1h-1zM281 597h1v1h-1zM282 597h1v1h-1zM283 597h1v1h-1zM284 597h1v1h-1zM285 597h1v1h-1zM286 597h1v1h-1zM287 597h1v1h-1zM288 596h1v1h-1zM289 596h1v1h-1zM290 595h1v1h-1zM291 595h1v1h-1zM292 594h1v1h-1zM293 593h1v1h-1zM294 593h1v1h-1zM295 590h1v3h-1zM296 586h1v4h-1zM297 582h1v4h-1zM298 578h1v4h-1zM299 575h1v3h-1zM300 576h1v1h-1zM301 577h1v2h-1zM302 579h1v1h-1zM303 580h1v1h-1zM304 580h1v1h-1zM305 580h1v1h-1zM306 580h1v1h-1zM307 580h1v1h-1zM308 580h1v1h-1zM309 579h1v1h-1zM310 579h1v1h-1zM311 579h1v1h-1zM312 579h1v1h-1zM313 580h1v1h-1zM314 580h1v1h-1zM315 580h1v1h-1zM316 579h1v1h-1zM317 578h1v1h-1zM318 578h1v1h-1zM319 577h1v1h-1zM320 576h1v1h-1zM321 576h1v1h-1zM322 575h1v1h-1zM323 575h1v1h-1zM324 576h1v1h-1zM325 576h1v1h-1zM326 577h1v1h-1zM327 577h1v1h-1zM328 575h1v2h-1zM329 573h1v2h-1zM330 571h1v2h-1zM331 570h1v1h-1zM332 569h1v1h-1zM333 569h1v1h-1zM334 568h1v1h-1zM335 568h1v1h-1zM336 569h1v1h-1zM337 570h1v1h-1zM338 570h1v1h-1zM339 571h1v1h-1zM340 570h1v1h-1zM341 570h1v1h-1zM342 569h1v1h-1zM343 569h1v1h-1zM344 568h1v1h-1zM345 568h1v1h-1zM346 567h1v1h-1zM347 567h1v1h-1zM348 567h1v1h-1zM349 566h1v1h-1zM350 566h1v1h-1zM351 566h1v1h-1zM352 567h1v2h-1zM353 569h1v2h-1zM354 571h1v2h-1zM355 573h1v1h-1zM356 572h1v1h-1zM357 572h1v1h-1zM358 571h1v1h-1zM359 571h1v1h-1zM360 572h1v1h-1zM361 573h1v1h-1zM362 574h1v1h-1zM363 575h1v1h-1zM364 574h1v1h-1zM365 574h1v1h-1zM366 573h1v1h-1zM367 572h1v2h-1zM368 570h1v2h-1zM369 568h1v2h-1zM370 566h1v2h-1zM371 564h1v2h-1zM372 565h1v1h-1zM373 566h1v1h-1zM374 567h1v1h-1zM375 568h1v1h-1zM376 567h1v1h-1zM377 567h1v1h-1zM378 566h1v1h-1zM379 566h1v1h-1zM380 566h1v1h-1zM381 566h1v1h-1zM382 566h1v1h-1zM383 566h1v1h-1zM384 565h1v1h-1zM385 565h1v1h-1zM386 564h1v1h-1zM387 564h1v1h-1zM388 565h1v1h-1zM389 566h1v1h-1zM390 567h1v1h-1zM391 568h1v1h-1zM392 569h1v1h-1zM393 570h1v1h-1zM394 570h1v1h-1zM395 571h1v1h-1zM396 570h1v1h-1zM397 570h1v1h-1zM398 569h1v1h-1zM399 569h1v1h-1zM400 570h1v1h-1zM401 571h1v1h-1zM402 571h1v1h-1zM403 572h1v1h-1zM404 572h1v1h-1zM405 571h1v1h-1zM406 571h1v1h-1zM407 571h1v1h-1zM408 570h1v1h-1zM409 570h1v1h-1zM410 569h1v1h-1zM411 569h1v1h-1zM412 569h1v1h-1zM413 570h1v1h-1zM414 570h1v1h-1zM415 570h1v2h-1zM416 572h1v3h-1zM417 575h1v2h-1zM418 577h1v3h-1zM419 580h1v2h-1zM420 582h1v2h-1zM421 584h1v1h-1zM422 585h1v2h-1zM423 586h1v2h-1zM424 583h1v3h-1zM425 580h1v3h-1zM426 577h1v3h-1zM427 575h1v2h-1zM428 576h1v1h-1zM429 576h1v1h-1zM430 577h1v1h-1zM431 577h1v1h-1zM432 578h1v1h-1zM433 579h1v1h-1zM434 579h1v1h-1zM435 580h1v1h-1zM436 580h1v1h-1zM437 579h1v1h-1zM438 579h1v1h-1zM439 579h1v1h-1zM440 580h1v1h-1zM441 581h1v1h-1zM442 581h1v1h-1zM443 582h1v1h-1zM444 583h1v1h-1zM445 584h1v1h-1zM446 584h1v1h-1zM447 585h1v1h-1zM448 584h1v1h-1zM449 584h1v1h-1zM450 583h1v1h-1zM451 583h1v1h-1zM452 584h1v1h-1zM453 585h1v1h-1zM454 585h1v1h-1zM455 586h1v1h-1zM456 587h1v1h-1zM457 588h1v1h-1zM458 588h1v1h-1zM459 589h1v1h-1zM460 589h1v1h-1zM461 588h1v1h-1zM462 588h1v1h-1zM463 588h1v1h-1zM464 589h1v1h-1zM465 590h1v2h-1zM466 592h1v1h-1zM467 593h1v1h-1zM468 592h1v1h-1zM469 591h1v1h-1zM470 590h1v1h-1zM471 589h1v1h-1zM472 587h1v2h-1zM473 586h1v1h-1zM474 584h1v2h-1zM475 583h1v1h-1zM476 583h1v1h-1zM477 582h1v1h-1zM478 582h1v1h-1zM479 582h1v1h-1zM480 582h1v1h-1zM481 582h1v1h-1zM482 582h1v1h-1zM483 582h1v1h-1zM484 583h1v1h-1zM485 584h1v1h-1zM486 584h1v1h-1zM487 585h1v1h-1zM488 584h1v1h-1zM489 584h1v1h-1zM490 583h1v1h-1zM491 583h1v1h-1zM492 584h1v2h-1zM493 586h1v1h-1zM494 587h1v2h-1zM495 589h1v1h-1zM496 590h1v1h-1zM497 591h1v1h-1zM498 591h1v1h-1zM499 592h1v1h-1zM500 593h1v1h-1zM501 593h1v1h-1zM502 594h1v1h-1zM503 594h1v1h-1zM504 594h1v1h-1zM505 595h1v1h-1zM506 595h1v1h-1zM507 595h1v1h-1zM508 596h1v2h-1zM509 598h1v2h-1zM510 600h1v2h-1zM511 602h1v1h-1zM512 601h1v1h-1zM513 600h1v1h-1zM514 599h1v1h-1zM515 598h1v1h-1zM516 598h1v1h-1zM517 599h1v1h-1zM518 599h1v1h-1zM519 599h1v1h-1zM520 598h1v1h-1zM521 598h1v1h-1zM522 597h1v1h-1zM523 597h1v1h-1zM524 597h1v1h-1zM525 596h1v1h-1zM526 596h1v1h-1zM527 596h1v1h-1zM528 596h1v1h-1zM529 597h1v1h-1zM530 597h1v1h-1zM531 597h1v1h-1zM532 595h1v2h-1zM533 593h1v2h-1zM534 591h1v2h-1zM535 589h1v2h-1zM536 588h1v1h-1zM537 587h1v1h-1zM538 587h1v1h-1zM539 585h1v2h-1zM540 583h1v2h-1zM541 581h1v2h-1zM542 579h1v2h-1zM543 577h1v2h-1zM544 578h1v1h-1zM545 579h1v2h-1zM546 581h1v1h-1zM547 582h1v1h-1zM548 582h1v1h-1zM549 581h1v1h-1zM550 581h1v1h-1zM551 581h1v1h-1zM552 581h1v1h-1zM553 582h1v1h-1zM554 582h1v1h-1zM555 582h1v1h-1zM556 581h1v1h-1zM557 580h1v1h-1zM558 580h1v1h-1zM559 579h1v1h-1zM560 580h1v1h-1zM561 581h1v1h-1zM562 582h1v1h-1zM563 583h1v1h-1zM564 583h1v1h-1zM565 584h1v1h-1zM566 584h1v1h-1zM567 584h1v1h-1zM568 583h1v1h-1zM569 582h1v1h-1zM570 582h1v1h-1zM571 581h1v1h-1zM572 580h1v1h-1zM573 580h1v1h-1zM574 579h1v1h-1zM575 579h1v1h-1zM576 580h1v1h-1zM577 580h1v1h-1zM578 581h1v1h-1zM579 581h1v1h-1zM580 580h1v1h-1zM581 580h1v1h-1zM582 579h1v1h-1zM583 579h1v1h-1zM584 577h1v2h-1zM585 575h1v2h-1zM586 573h1v2h-1zM587 571h1v2h-1zM588 570h1v1h-1zM589 569h1v1h-1zM590 569h1v1h-1zM591 568h1v1h-1zM592 569h1v1h-1zM593 569h1v1h-1zM594 570h1v1h-1zM595 570h1v1h-1zM596 570h1v1h-1zM597 570h1v1h-1zM598 570h1v1h-1zM599 570h1v1h-1zM600 569h1v1h-1zM601 567h1v2h-1zM602 566h1v1h-1zM603 565h1v1h-1zM604 565h1v1h-1zM605 565h1v1h-1zM606 565h1v1h-1zM607 565h1v1h-1zM608 564h1v1h-1zM609 563h1v1h-1zM610 563h1v1h-1zM611 562h1v1h-1zM612 562h1v1h-1zM613 561h1v1h-1zM614 561h1v1h-1zM615 561h1v1h-1zM616 561h1v1h-1zM617 560h1v1h-1zM618 560h1v1h-1zM619 560h1v1h-1zM620 560h1v1h-1zM621 560h1v1h-1zM622 560h1v1h-1zM623 560h1v1h-1zM624 559h1v1h-1zM625 558h1v1h-1zM626 558h1v1h-1zM627 557h1v1h-1zM628 556h1v1h-1zM629 556h1v1h-1zM630 555h1v1h-1zM631 555h1v1h-1zM632 555h1v1h-1zM633 554h1v1h-1zM634 554h1v1h-1zM635 554h1v1h-1zM636 554h1v1h-1zM637 553h1v1h-1zM638 553h1v1h-1zM639 553h1v1h-1zM640 553h1v1h-1zM641 553h1v1h-1zM642 553h1v1h-1zM643 553h1v1h-1zM644 554h1v1h-1zM645 555h1v1h-1zM646 555h1v1h-1zM647 556h1v1h-1zM648 555h1v1h-1zM649 555h1v1h-1zM650 554h1v1h-1zM651 554h1v2h-1zM652 556h1v2h-1zM653 558h1v2h-1zM654 560h1v2h-1zM655 562h1v2h-1zM656 564h1v2h-1zM657 566h1v1h-1zM658 567h1v2h-1zM659 569h1v1h-1zM660 570h1v1h-1zM661 570h1v1h-1zM662 571h1v1h-1zM663 571h1v1h-1zM664 571h1v1h-1zM665 570h1v1h-1zM666 570h1v1h-1zM667 570h1v1h-1zM668 571h1v1h-1zM669 571h1v1h-1zM670 572h1v1h-1zM671 572h1v1h-1zM672 573h1v1h-1zM673 573h1v1h-1zM674 574h1v1h-1zM675 574h1v1h-1zM676 573h1v1h-1zM677 572h1v1h-1zM678 572h1v1h-1zM679 571h1v1h-1zM680 572h1v1h-1zM681 573h1v1h-1zM682 574h1v1h-1zM683 575h1v1h-1zM684 576h1v1h-1zM685 576h1v1h-1zM686 577h1v1h-1zM687 577h1v1h-1zM688 577h1v1h-1zM689 578h1v1h-1zM690 578h1v1h-1zM691 578h1v1h-1zM692 579h1v1h-1zM693 580h1v1h-1zM694 580h1v1h-1zM695 580h1v2h-1zM696 577h1v3h-1zM697 575h1v2h-1zM698 572h1v3h-1zM699 570h1v2h-1zM700 569h1v1h-1zM701 569h1v1h-1zM702 568h1v1h-1zM703 568h1v1h-1zM704 567h1v1h-1zM705 567h1v1h-1zM706 566h1v1h-1zM707 566h1v1h-1zM708 564h1v2h-1zM709 562h1v2h-1zM710 560h1v2h-1zM711 559h1v1h-1zM712 558h1v1h-1zM713 556h1v2h-1zM714 555h1v1h-1zM715 554h1v1h-1zM716 555h1v1h-1zM717 556h1v1h-1zM718 557h1v1h-1zM719 558h1v1h-1zM720 559h1v1h-1zM721 560h1v1h-1zM722 561h1v1h-1zM723 562h1v2h-1zM724 564h1v2h-1zM725 566h1v2h-1zM726 568h1v2h-1zM727 570h1v2h-1zM728 569h1v2h-1zM729 568h1v1h-1zM730 566h1v2h-1zM731 565h1v1h-1zM732 565h1v1h-1zM733 564h1v1h-1zM734 564h1v1h-1zM735 564h1v1h-1zM736 563h1v1h-1zM737 563h1v1h-1zM738 562h1v1h-1zM739 562h1v1h-1zM740 562h1v1h-1zM741 563h1v1h-1zM742 563h1v1h-1zM743 563h1v1h-1zM744 561h1v2h-1zM745 559h1v2h-1zM746 557h1v2h-1zM747 555h1v2h-1zM748 553h1v2h-1zM749 551h1v2h-1zM750 549h1v2h-1zM751 547h1v2h-1zM752 548h1v1h-1zM753 549h1v1h-1zM754 549h1v1h-1zM755 550h1v1h-1zM756 549h1v1h-1zM757 548h1v1h-1zM758 548h1v1h-1zM759 547h1v1h-1zM760 546h1v1h-1zM761 546h1v1h-1zM762 545h1v1h-1zM763 545h1v1h-1zM764 546h1v2h-1zM765 548h1v2h-1zM766 550h1v2h-1zM767 552h1v1h-1zM768 552h1v1h-1zM769 551h1v1h-1zM770 551h1v1h-1zM771 551h1v1h-1zM772 550h1v1h-1zM773 549h1v1h-1zM774 548h1v1h-1zM775 547h1v1h-1zM776 546h1v1h-1zM777 545h1v1h-1zM778 544h1v1h-1zM779 543h1v1h-1zM780 544h1v1h-1zM781 545h1v1h-1zM782 546h1v1h-1zM783 547h1v1h-1zM784 548h1v2h-1zM785 550h1v2h-1zM786 552h1v2h-1zM787 554h1v1h-1zM788 553h1v1h-1zM789 553h1v1h-1zM790 552h1v1h-1zM791 552h1v1h-1zM792 552h1v1h-1zM793 551h1v1h-1zM794 551h1v1h-1zM795 551h1v1h-1zM796 552h1v1h-1zM797 553h1v1h-1zM798 554h1v1h-1zM799 555h1v1h-1zM800 556h1v2h-1zM801 558h1v2h-1zM802 560h1v2h-1zM803 562h1v2h-1zM804 564h1v3h-1zM805 567h1v4h-1zM806 571h1v3h-1zM807 574h1v2h-1zM808 574h1v1h-1zM809 574h1v1h-1zM810 573h1v1h-1zM811 573h1v1h-1zM812 574h1v1h-1zM813 575h1v2h-1zM814 577h1v1h-1zM815 578h1v1h-1zM816 576h1v2h-1zM817 574h1v2h-1zM818 572h1v2h-1zM819 571h1v1h-1zM820 572h1v1h-1zM821 572h1v1h-1zM822 573h1v1h-1zM823 573h1v1h-1zM824 572h1v1h-1zM825 571h1v1h-1zM826 571h1v1h-1zM827 570h1v1h-1zM828 571h1v1h-1zM829 572h1v1h-1zM830 573h1v1h-1zM831 574h1v1h-1zM832 574h1v1h-1zM833 574h1v1h-1zM834 574h1v1h-1zM835 574h1v1h-1zM836 574h1v1h-1zM837 573h1v1h-1zM838 573h1v1h-1zM839 573h1v1h-1zM840 573h1v1h-1zM841 574h1v1h-1zM842 574h1v1h-1zM843 574h1v1h-1zM844 575h1v2h-1zM845 577h1v1h-1zM846 578h1v2h-1zM847 580h1v1h-1zM848 579h1v1h-1zM849 579h1v1h-1zM850 578h1v1h-1zM851 578h1v1h-1zM852 579h1v1h-1zM853 579h1v1h-1zM854 580h1v1h-1zM855 580h1v1h-1zM856 580h1v1h-1zM857 580h1v1h-1zM858 580h1v1h-1zM859 580h1v1h-1zM860 580h1v1h-1zM861 581h1v1h-1zM862 581h1v1h-1zM863 581h1v1h-1zM864 581h1v1h-1zM865 581h1v1h-1zM866 581h1v1h-1zM867 581h1v1h-1zM868 582h1v1h-1zM869 582h1v1h-1zM870 583h1v1h-1zM871 582h1v2h-1zM872 580h1v2h-1zM873 578h1v2h-1zM874 576h1v2h-1zM875 574h1v2h-1zM876 573h1v1h-1zM877 573h1v1h-1zM878 572h1v1h-1zM879 572h1v1h-1zM880 573h1v2h-1zM881 575h1v1h-1zM882 576h1v2h-1zM883 578h1v1h-1zM884 578h1v1h-1zM885 578h1v1h-1zM886 578h1v1h-1zM887 578h1v1h-1zM888 577h1v1h-1zM889 577h1v1h-1zM890 576h1v1h-1zM891 576h1v1h-1zM892 575h1v1h-1zM893 573h1v2h-1zM894 572h1v1h-1zM895 571h1v1h-1zM896 572h1v1h-1zM897 573h1v1h-1zM898 574h1v1h-1zM899 575h1v1h-1zM900 576h1v1h-1zM901 577h1v1h-1zM902 577h1v1h-1zM903 578h1v1h-1zM904 577h1v1h-1zM905 576h1v1h-1zM906 576h1v1h-1zM907 575h1v1h-1zM908 575h1v1h-1zM909 575h1v1h-1zM910 575h1v1h-1zM911 575h1v1h-1zM912 576h1v1h-1zM913 577h1v1h-1zM914 577h1v1h-1zM915 578h1v1h-1zM916 579h1v1h-1zM917 580h1v1h-1zM918 580h1v1h-1zM919 581h1v1h-1zM920 582h1v1h-1zM921 582h1v1h-1zM922 583h1v1h-1zM923 583h1v1h-1zM924 583h1v1h-1zM925 584h1v1h-1zM926 584h1v1h-1zM927 583h1v2h-1zM928 581h1v2h-1zM929 579h1v2h-1zM930 577h1v2h-1zM931 575h1v2h-1zM932 575h1v1h-1zM933 576h1v1h-1zM934 576h1v1h-1zM935 576h1v1h-1zM936 576h1v1h-1zM937 575h1v1h-1zM938 575h1v1h-1zM939 575h1v1h-1zM940 576h1v1h-1zM941 577h1v1h-1zM942 578h1v1h-1zM943 579h1v1h-1zM944 577h1v2h-1zM945 576h1v1h-1zM946 574h1v2h-1zM947 573h1v1h-1zM948 574h1v2h-1zM949 576h1v2h-1zM950 578h1v2h-1zM951 580h1v2h-1zM952 582h1v1h-1zM953 582h1v1h-1zM954 583h1v1h-1zM955 583h1v1h-1zM956 583h1v1h-1zM957 582h1v1h-1zM958 582h1v1h-1zM959 582h1v1h-1zM960 581h1v1h-1zM961 580h1v1h-1zM962 579h1v1h-1zM963 578h1v1h-1zM964 578h1v1h-1zM965 579h1v1h-1zM966 579h1v1h-1zM967 579h1v1h-1zM968 578h1v1h-1zM969 577h1v1h-1zM970 576h1v1h-1zM971 575h1v1h-1zM972 575h1v1h-1zM973 575h1v1h-1zM974 575h1v1h-1zM975 575h1v1h-1zM976 575h1v1h-1zM977 575h1v1h-1zM978 575h1v1h-1zM979 575h1v1h-1zM980 575h1v1h-1zM981 574h1v1h-1zM982 574h1v1h-1zM983 574h1v1h-1zM984 575h1v2h-1zM985 577h1v2h-1zM986 579h1v2h-1zM987 581h1v2h-1zM988 583h1v1h-1zM989 584h1v1h-1zM990 585h1v1h-1zM991 586h1v1h-1zM992 585h1v1h-1zM993 585h1v1h-1zM994 584h1v1h-1zM995 584h1v1h-1zM996 583h1v1h-1zM997 582h1v1h-1zM998 582h1v1h-1zM999 581h1v1h-1zM1000 580h1v1h-1zM1001 579h1v1h-1zM1002 578h1v1h-1zM1003 577h1v1h-1zM1004 578h1v1h-1zM1005 578h1v1h-1zM1006 579h1v1h-1zM1007 579h1v1h-1zM1008 579h1v1h-1zM1009 580h1v1h-1zM1010 580h1v1h-1zM1011 580h1v1h-1zM1012 581h1v2h-1zM1013 583h1v2h-1zM1014 585h1v2h-1zM1015 587h1v1h-1zM1016 588h1v1h-1zM1017 588h1v1h-1zM1018 589h1v1h-1zM1019 589h1v1h-1zM1020 589h1v1h-1zM1021 590h1v1h-1zM1022 590h1v1h-1zM1023 590h1v1h-1zM1024 589h1v1h-1zM1025 588h1v1h-1zM1026 587h1v1h-1zM1027 586h1v1h-1zM1028 587h1v1h-1zM1029 587h1v1h-1zM1030 588h1v1h-1zM1031 588h1v1h-1zM1032 589h1v2h-1zM1033 591h1v1h-1zM1034 592h1v2h-1zM1035 594h1v1h-1zM1036 595h1v1h-1zM1037 596h1v1h-1zM1038 596h1v1h-1zM1039 597h1v1h-1zM1040 597h1v1h-1zM1041 598h1v1h-1zM1042 598h1v1h-1zM1043 598h1v1h-1zM1044 597h1v1h-1zM1045 597h1v1h-1zM1046 596h1v1h-1zM1047 596h1v1h-1zM1048 597h1v1h-1zM1049 598h1v1h-1zM1050 598h1v1h-1zM1051 599h1v1h-1zM1052 598h1v1h-1zM1053 598h1v1h-1zM1054 597h1v1h-1zM1055 597h1v1h-1zM1056 598h1v1h-1zM1057 598h1v1h-1zM1058 599h1v1h-1zM1059 599h1v1h-1zM1060 598h1v1h-1zM1061 597h1v1h-1zM1062 596h1v1h-1zM1063 595h1v1h-1zM1064 595h1v1h-1zM1065 596h1v1h-1zM1066 596h1v1h-1zM1067 595h1v2h-1zM1068 592h1v3h-1zM1069 590h1v2h-1zM1070 587h1v3h-1zM1071 585h1v2h-1zM1072 584h1v1h-1zM1073 584h1v1h-1zM1074 583h1v1h-1zM1075 583h1v1h-1zM1076 583h1v1h-1zM1077 582h1v1h-1zM1078 582h1v1h-1zM1079 582h1v1h-1zM1080 582h1v1h-1zM1081 582h1v1h-1zM1082 582h1v1h-1zM1083 582h1v1h-1zM1084 583h1v1h-1zM1085 583h1v1h-1zM1086 584h1v1h-1zM1087 584h1v1h-1zM1088 584h1v1h-1zM1089 584h1v1h-1zM1090 584h1v1h-1zM1091 584h1v1h-1zM1092 583h1v1h-1zM1093 583h1v1h-1zM1094 582h1v1h-1zM1095 582h1v1h-1zM1096 582h1v1h-1zM1097 582h1v1h-1zM1098 582h1v1h-1zM1099 582h1v1h-1zM1100 582h1v1h-1zM1101 581h1v1h-1zM1102 581h1v1h-1zM1103 581h1v1h-1zM1104 582h1v1h-1zM1105 583h1v1h-1zM1106 584h1v1h-1zM1107 585h1v1h-1zM1108 586h1v1h-1zM1109 587h1v1h-1zM1110 587h1v1h-1zM1111 588h1v1h-1zM1112 586h1v2h-1zM1113 584h1v2h-1zM1114 582h1v2h-1zM1115 580h1v2h-1zM1116 579h1v1h-1zM1117 578h1v1h-1zM1118 577h1v1h-1zM1119 576h1v1h-1zM1120 575h1v1h-1zM1121 575h1v1h-1zM1122 574h1v1h-1zM1123 574h1v1h-1zM1124 575h1v1h-1zM1125 575h1v1h-1zM1126 576h1v1h-1zM1127 576h1v1h-1zM1128 575h1v1h-1zM1129 575h1v1h-1zM1130 574h1v1h-1zM1131 574h1v1h-1zM1132 575h1v2h-1zM1133 577h1v1h-1zM1134 578h1v2h-1zM1135 580h1v1h-1zM1136 581h1v1h-1zM1137 581h1v1h-1zM1138 582h1v1h-1zM1139 582h1v1h-1zM1140 582h1v1h-1zM1141 581h1v1h-1zM1142 581h1v1h-1zM1143 581h1v1h-1zM1144 582h1v1h-1zM1145 582h1v1h-1zM1146 583h1v1h-1zM1147 583h1v1h-1zM1148 583h1v1h-1zM1149 583h1v1h-1zM1150 583h1v1h-1zM1151 583h1v1h-1zM1152 584h1v1h-1zM1153 584h1v1h-1zM1154 585h1v1h-1zM1155 585h1v1h-1zM1156 584h1v1h-1zM1157 582h1v2h-1zM1158 581h1v1h-1zM1159 580h1v1h-1zM1160 581h1v1h-1zM1161 582h1v1h-1zM1162 583h1v1h-1zM1163 584h1v1h-1zM1164 583h1v1h-1zM1165 582h1v1h-1zM1166 581h1v1h-1zM1167 580h1v1h-1zM1168 580h1v1h-1zM1169 579h1v1h-1zM1170 579h1v1h-1zM1171 579h1v1h-1zM1172 579h1v1h-1zM1173 580h1v1h-1zM1174 580h1v1h-1zM1175 580h1v1h-1zM1176 580h1v1h-1zM1177 581h1v1h-1zM1178 581h1v1h-1zM1179 581h1v1h-1zM1180 580h1v1h-1zM1181 579h1v1h-1zM1182 579h1v1h-1zM1183 578h1v1h-1zM1184 579h1v2h-1zM1185 581h1v2h-1zM1186 583h1v2h-1zM1187 585h1v1h-1zM1188 584h1v1h-1zM1189 584h1v1h-1zM1190 583h1v1h-1zM1191 583h1v1h-1zM1192 582h1v1h-1zM1193 581h1v1h-1zM1194 580h1v1h-1zM1195 579h1v1h-1zM1196 579h1v1h-1zM1197 579h1v1h-1zM1198 579h1v1h-1zM1199 579h1v1h-1zM1200 580h1v1h-1zM1201 581h1v2h-1zM1202 583h1v1h-1zM1203 584h1v1h-1zM1204 585h1v2h-1zM1205 587h1v1h-1zM1206 588h1v2h-1zM1207 590h1v1h-1zM1208 591h1v1h-1zM1209 591h1v1h-1zM1210 592h1v1h-1zM1211 592h1v1h-1zM1212 593h1v1h-1zM1213 593h1v1h-1zM1214 594h1v1h-1zM1215 594h1v1h-1zM1216 592h1v2h-1zM1217 590h1v2h-1zM1218 588h1v2h-1zM1219 587h1v1h-1zM1220 587h1v1h-1zM1221 588h1v1h-1zM1222 588h1v1h-1zM1223 588h1v1h-1zM1224 589h1v1h-1zM1225 590h1v1h-1zM1226 590h1v1h-1zM1227 591h1v1h-1zM1228 591h1v1h-1zM1229 592h1v1h-1zM1230 592h1v1h-1zM1231 592h1v1h-1zM1232 592h1v1h-1zM1233 591h1v1h-1zM1234 591h1v1h-1zM1235 591h1v1h-1zM1236 589h1v2h-1zM1237 587h1v2h-1zM1238 585h1v2h-1zM1239 583h1v2h-1zM1240 584h1v1h-1zM1241 585h1v1h-1zM1242 586h1v1h-1zM1243 587h1v1h-1zM1244 587h1v1h-1zM1245 588h1v1h-1zM1246 588h1v1h-1zM1247 588h1v1h-1zM1248 587h1v1h-1zM1249 586h1v1h-1zM1250 585h1v1h-1zM1251 584h1v1h-1zM1252 585h1v1h-1zM1253 586h1v1h-1zM1254 587h1v1h-1zM1255 588h1v1h-1zM1256 589h1v2h-1zM1257 591h1v1h-1zM1258 592h1v2h-1zM1259 594h1v1h-1zM1260 593h1v1h-1zM1261 592h1v1h-1zM1262 592h1v1h-1zM1263 591h1v1h-1zM1264 590h1v1h-1zM1265 589h1v1h-1zM1266 589h1v1h-1zM1267 588h1v1h-1z" fill="#1e90ff" shape-rendering="crispEdges"/>
<g clip-path="url(#cd)" shape-rendering="crispEdges">
<rect x="3" y="681" width="1" height="6" fill="#c0c0c0"/>
<rect x="7" y="680" width="1" height="7" fill="#c0c0c0"/>
<rect x="11" y="678" width="1" height="9" fill="#c0c0c0"/>
<rect x="15" y="678" width="1" height="9" fill="#c0c0c0"/>
<rect x="19" y="679" width="1" height="8" fill="#c0c0c0"/>
<rect x="23" y="679" width="1" height="8" fill="#c0c0c0"/>
<rect x="27" y="679" width="1" height="8" fill="#c0c0c0"/>
<rect x="31" y="680" width="1" height="7" fill="#c0c0c0"/>
<rect x="35" y="679" width="1" height="8" fill="#c0c0c0"/>
<rect x="39" y="678" width="1" height="9" fill="#c0c0c0"/>
<rect x="43" y="678" width="1" height="9" fill="#c0c0c0"/>
<rect x="47" y="679" width="1" height="8" fill="#c0c0c0"/>
<rect x="51" y="679" width="1" height="8" fill="#c0c0c0"/>
<rect x="55" y="678" width="1" height="9" fill="#c0c0c0"/>
<rect x="59" y="679" width="1" height="8" fill="#c0c0c0"/>
<rect x="63" y="679" width="1" height="8" fill="#c0c0c0"/>
<rect x="67" y="679" width="1" height="8" fill="#c0c0c0"/>
<rect x="71" y="679" width="1" height="8" fill="#c0c0c0"/>
<rect x="75" y="680" width="1" height="7" fill="#c0c0c0"/>
<rect x="79" y="680" width="1" height="7" fill="#c0c0c0"/>
<rect x="83" y="681" width="1" height="6" fill="#c0c0c0"/>
<rect x="87" y="681" width="1" height="6" fill="#c0c0c0"/>
<rect x="91" y="681" width="1" height="6" fill="#c0c0c0"/>
<rect x="95" y="681" width="1" height="6" fill="#c0c0c0"/>
<rect x="99" y="681" width="1" height="6" fill="#c0c0c0"/>
<rect x="103" y="681" width="1" height="6" fill="#c0c0c0"/>
<rect x="107" y="682" width="1" height="5" fill="#c0c0c0"/>
<rect x="111" y="683" width="1" height="4" fill="#c0c0c0"/>
<rect x="115" y="685" width="1" height="2" fill="#c0c0c0"/>
<rect x="119" y="686" width="1" height="1" fill="#c0c0c0"/>
<rect x="123" y="686" width="1" height="3" fill="#c0c0c0"/>
<rect x="127" y="686" width="1" height="4" fill="#c0c0c0"/>
<rect x="131" y="686" width="1" height="4" fill="#c0c0c0"/>
<rect x="135" y="686" width="1" height="4" fill="#c0c0c0"/>
<rect x="139" y="686" width="1" height="3" fill="#c0c0c0"/>
<rect x="143" y="686" width="1" height="2" fill="#c0c0c0"/>
<rect x="147" y="686" width="1" height="2" fill="#c0c0c0"/>
<rect x="151" y="686" width="1" height="2" fill="#c0c0c0"/>
<rect x="155" y="686" width="1" height="1" fill="#c0c0c0"/>
<rect x="159" y="686" width="1" height="1" fill="#c0c0c0"/>
<rect x="163" y="686" width="1" height="1" fill="#c0c0c0"/>
<rect x="167" y="685" width="1" height="2" fill="#c0c0c0"/>
<rect x="171" y="685" width="1" height="2" fill="#c0c0c0"/>
<rect x="175" y="685" width="1" height="2" fill="#c0c0c0"/>
<rect x="179" y="685" width="1" height="2" fill="#c0c0c0"/>
<rect x="183" y="685" width="1" height="2" fill="#c0c0c0"/>
<rect x="187" y="685" width="1" height="2" fill="#c0c0c0"/>
<rect x="191" y="685" width="1" height="2" fill="#c0c0c0"/>
<rect x="195" y="685" width="1" height="2" fill="#c0c0c0"/>
<rect x="199" y="686" width="1" height="1" fill="#c0c0c0"/>
<rect x="203" y="685" width="1" height="2" fill="#c0c0c0"/>
<rect x="207" y="684" width="1" height="3" fill="#c0c0c0"/>
<rect x="211" y="683" width="1" height="4" fill="#c0c0c0"/>
<rect x="215" y="683" width="1" height="4" fill="#c0c0c0"/>
<rect x="219" y="683" width="1" height="4" fill="#c0c0c0"/>
<rect x="223" y="683" width="1" height="4" fill="#c0c0c0"/>
<rect x="227" y="683" width="1" height="4" fill="#c0c0c0"/>
<rect x="231" y="683" width="1" height="4" fill="#c0c0c0"/>
<rect x="235" y="685" width="1" height="2" fill="#c0c0c0"/>
<rect x="239" y="686" width="1" height="1" fill="#c0c0c0"/>
<rect x="243" y="686" width="1" height="2" fill="#c0c0c0"/>
<rect x="247" y="686" width="1" height="3" fill="#c0c0c0"/>
<rect x="251" y="686" width="1" height="3" fill="#c0c0c0"/>
<rect x="255" y="686" width="1" height="5" fill="#c0c0c0"/>
<rect x="259" y="686" width="1" height="6" fill="#c0c0c0"/>
<rect x="263" y="686" width="1" height="7" fill="#c0c0c0"/>
<rect x="267" y="686" width="1" height="7" fill="#c0c0c0"/>
<rect x="271" y="686" width="1" height="8" fill="#c0c0c0"/>
<rect x="275" y="686" width="1" height="9" fill="#c0c0c0"/>
<rect x="279" y="686" width="1" height="10" fill="#c0c0c0"/>
<rect x="283" y="686" width="1" height="10" fill="#c0c0c0"/>
<rect x="287" y="686" width="1" height="10" fill="#c0c0c0"/>
<rect x="291" y="686" width="1" height="10" fill="#c0c0c0"/>
<rect x="295" y="686" width="1" height="10" fill="#c0c0c0"/>
<rect x="299" y="686" width="1" height="8" fill="#c0c0c0"/>
<rect x="303" y="686" width="1" height="7" fill="#c0c0c0"/>
<rect x="307" y="686" width="1" height="7" fill="#c0c0c0"/>
<rect x="311" y="686" width="1" height="6" fill="#c0c0c0"/>
<rect x="315" y="686" width="1" height="5" fill="#c0c0c0"/>
<rect x="319" y="686" width="1" height="5" fill="#c0c0c0"/>
<rect x="323" y="686" width="1" height="4" fill="#c0c0c0"/>
<rect x="327" y="686" width="1" height="3" fill="#c0c0c0"/>
<rect x="331" y="686" width="1" height="2" fill="#c0c0c0"/>
<rect x="335" y="686" width="1" height="1" fill="#c0c0c0"/>
<rect x="339" y="685" width="1" height="2" fill="#c0c0c0"/>
<rect x="343" y="685" width="1" height="2" fill="#c0c0c0"/>
<rect x="347" y="684" width="1" height="3" fill="#c0c0c0"/>
<rect x="351" y="683" width="1" height="4" fill="#c0c0c0"/>
<rect x="355" y="683" width="1" height="4" fill="#c0c0c0"/>
<rect x="359" y="683" width="1" height="4" fill="#c0c0c0"/>
<rect x="363" y="683" width="1" height="4" fill="#c0c0c0"/>
<rect x="367" y="683" width="1" height="4" fill="#c0c0c0"/>
<rect x="371" y="682" width="1" height="5" fill="#c0c0c0"/>
<rect x="375" y="682" width="1" height="5" fill="#c0c0c0"/>
<rect x="379" y="681" width="1" height="6" fill="#c0c0c0"/>
<rect x="383" y="681" width="1" height="6" fill="#c0c0c0"/>
<rect x="387" y="680" width="1" height="7" fill="#c0c0c0"/>
<rect x="391" y="680" width="1" height="7" fill="#c0c0c0"/>
<rect x="395" y="680" width="1" height="7" fill="#c0c0c0"/>
<rect x="399" y="681" width="1" height="6" fill="#c0c0c0"/>
<rect x="403" y="681" width="1" height="6" fill="#c0c0c0"/>
<rect x="407" y="681" width="1" height="6" fill="#c0c0c0"/>
<rect x="411" y="681" width="1" height="6" fill="#c0c0c0"/>
<rect x="415" y="681" width="1" height="6" fill="#c0c0c0"/>
<rect x="419" y="682" width="1" height="5" fill="#c0c0c0"/>
<rect x="423" y="684" width="1" height="3" fill="#c0c0c0"/>
<rect x="427" y="684" width="1" height="3" fill="#c0c0c0"/>
<rect x="431" y="684" width="1" height="3" fill="#c0c0c0"/>
<rect x="435" y="685" width="1" height="2" fill="#c0c0c0"/>
<rect x="439" y="685" width="1" height="2" fill="#c0c0c0"/>
<rect x="443" y="686" width="1" height="1" fill="#c0c0c0"/>
<rect x="447" y="686" width="1" height="1" fill="#c0c0c0"/>
<rect x="451" y="686" width="1" height="2" fill="#c0c0c0"/>
<rect x="455" y="686" width="1" height="3" fill="#c0c0c0"/>
<rect x="459" y="686" width="1" height="3" fill="#c0c0c0"/>
<rect x="463" y="686" width="1" height="4" fill="#c0c0c0"/>
<rect x="467" y="686" width="1" height="5" fill="#c0c0c0"/>
<rect x="471" y="686" width="1" height="6" fill="#c0c0c0"/>
<rect x="475" y="686" width="1" height="5" fill="#c0c0c0"/>
<rect x="479" y="686" width="1" height="5" fill="#c0c0c0"/>
<rect x="483" y="686" width="1" height="5" fill="#c0c0c0"/>
<rect x="487" y="686" width="1" height="5" fill="#c0c0c0"/>
<rect x="491" y="686" width="1" height="5" fill="#c0c0c0"/>
<rect x="495" y="686" width="1" height="5" fill="#c0c0c0"/>
<rect x="499" y="686" width="1" height="6" fill="#c0c0c0"/>
<rect x="503" y="686" width="1" height="7" fill="#c0c0c0"/>
<rect x="507" y="686" width="1" height="8" fill="#c0c0c0"/>
<rect x="511" y="686" width="1" height="9" fill="#c0c0c0"/>
<rect x="515" y="686" width="1" height="10" fill="#c0c0c0"/>
<rect x="519" y="686" width="1" height="11" fill="#c0c0c0"/>
<rect x="523" y="686" width="1" height="12" fill="#c0c0c0"/>
<rect x="527" y="686" width="1" height="12" fill="#c0c0c0"/>
<rect x="531" y="686" width="1" height="12" fill="#c0c0c0"/>
<rect x="535" y="686" width="1" height="11" fill="#c0c0c0"/>
<rect x="539" y="686" width="1" height="11" fill="#c0c0c0"/>
<rect x="543" y="686" width="1" height="9" fill="#c0c0c0"/>
<rect x="547" y="686" width="1" height="8" fill="#c0c0c0"/>
<rect x="551" y="686" width="1" height="7" fill="#c0c0c0"/>
<rect x="555" y="686" width="1" height="7" fill="#c0c0c0"/>
<rect x="559" y="686" width="1" height="6" fill="#c0c0c0"/>
<rect x="563" y="686" width="1" height="6" fill="#c0c0c0"/>
<rect x="567" y="686" width="1" height="6" fill="#c0c0c0"/>
<rect x="571" y="686" width="1" height="5" fill="#c0c0c0"/>
<rect x="575" y="686" width="1" height="5" fill="#c0c0c0"/>
<rect x="579" y="686" width="1" height="4" fill="#c0c0c0"/>
<rect x="583" y="686" width="1" height="4" fill="#c0c0c0"/>
<rect x="587" y="686" width="1" height="3" fill="#c0c0c0"/>
<rect x="591" y="686" width="1" height="1" fill="#c0c0c0"/>
<rect x="595" y="686" width="1" height="1" fill="#c0c0c0"/>
<rect x="599" y="685" width="1" height="2" fill="#c0c0c0"/>
<rect x="603" y="684" width="1" height="3" fill="#c0c0c0"/>
<rect x="607" y="683" width="1" height="4" fill="#c0c0c0"/>
<rect x="611" y="682" width="1" height="5" fill="#c0c0c0"/>
<rect x="615" y="681" width="1" height="6" fill="#c0c0c0"/>
<rect x="619" y="680" width="1" height="7" fill="#c0c0c0"/>
<rect x="623" y="680" width="1" height="7" fill="#c0c0c0"/>
<rect x="627" y="679" width="1" height="8" fill="#c0c0c0"/>
<rect x="631" y="678" width="1" height="9" fill="#c0c0c0"/>
<rect x="635" y="677" width="1" height="10" fill="#c0c0c0"/>
<rect x="639" y="677" width="1" height="10" fill="#c0c0c0"/>
<rect x="643" y="676" width="1" height="11" fill="#c0c0c0"/>
<rect x="647" y="676" width="1" height="11" fill="#c0c0c0"/>
<rect x="651" y="676" width="1" height="11" fill="#c0c0c0"/>
<rect x="655" y="676" width="1" height="11" fill="#c0c0c0"/>
<rect x="659" y="677" width="1" height="10" fill="#c0c0c0"/>
<rect x="663" y="678" width="1" height="9" fill="#c0c0c0"/>
<rect x="667" y="679" width="1" height="8" fill="#c0c0c0"/>
<rect x="671" y="679" width="1" height="8" fill="#c0c0c0"/>
<rect x="675" y="680" width="1" height="7" fill="#c0c0c0"/>
<rect x="679" y="680" width="1" height="7" fill="#c0c0c0"/>
<rect x="683" y="681" width="1" height="6" fill="#c0c0c0"/>
<rect x="687" y="682" width="1" height="5" fill="#c0c0c0"/>
<rect x="691" y="683" width="1" height="4" fill="#c0c0c0"/>
<rect x="695" y="683" width="1" height="4" fill="#c0c0c0"/>
<rect x="699" y="683" width="1" height="4" fill="#c0c0c0"/>
<rect x="703" y="683" width="1" height="4" fill="#c0c0c0"/>
<rect x="707" y="682" width="1" height="5" fill="#c0c0c0"/>
<rect x="711" y="681" width="1" height="6" fill="#c0c0c0"/>
<rect x="715" y="679" width="1" height="8" fill="#c0c0c0"/>
<rect x="719" y="678" width="1" height="9" fill="#c0c0c0"/>
<rect x="723" y="678" width="1" height="9" fill="#c0c0c0"/>
<rect x="727" y="678" width="1" height="9" fill="#c0c0c0"/>
<rect x="731" y="678" width="1" height="9" fill="#c0c0c0"/>
<rect x="735" y="678" width="1" height="9" fill="#c0c0c0"/>
<rect x="739" y="677" width="1" height="10" fill="#c0c0c0"/>
<rect x="743" y="677" width="1" height="10" fill="#c0c0c0"/>
<rect x="747" y="675" width="1" height="12" fill="#c0c0c0"/>
<rect x="751" y="671" width="1" height="16" fill="#c0c0c0"/>
<rect x="755" y="668" width="1" height="19" fill="#c0c0c0"/>
<rect x="759" y="664" width="1" height="23" fill="#c0c0c0"/>
<rect x="763" y="659" width="1" height="28" fill="#c0c0c0"/>
<rect x="767" y="657" width="1" height="30" fill="#c0c0c0"/>
<rect x="771" y="655" width="1" height="32" fill="#c0c0c0"/>
<rect x="775" y="651" width="1" height="36" fill="#c0c0c0"/>
<rect x="779" y="643" width="1" height="44" fill="#c0c0c0"/>
<rect x="783" y="638" width="1" height="49" fill="#c0c0c0"/>
<rect x="787" y="636" width="1" height="51" fill="#c0c0c0"/>
<rect x="791" y="635" width="1" height="52" fill="#c0c0c0"/>
<rect x="795" y="632" width="1" height="55" fill="#c0c0c0"/>
<rect x="799" y="632" width="1" height="55" fill="#c0c0c0"/>
<rect x="803" y="635" width="1" height="52" fill="#c0c0c0"/>
<rect x="807" y="641" width="1" height="46" fill="#c0c0c0"/>
<rect x="811" y="646" width="1" height="41" fill="#c0c0c0"/>
<rect x="815" y="653" width="1" height="34" fill="#c0c0c0"/>
<rect x="819" y="655" width="1" height="32" fill="#c0c0c0"/>
<rect x="823" y="657" width="1" height="30" fill="#c0c0c0"/>
<rect x="827" y="658" width="1" height="29" fill="#c0c0c0"/>
<rect x="831" y="661" width="1" height="26" fill="#c0c0c0"/>
<rect x="835" y="663" width="1" height="24" fill="#c0c0c0"/>
<rect x="839" y="665" width="1" height="22" fill="#c0c0c0"/>
<rect x="843" y="667" width="1" height="20" fill="#c0c0c0"/>
<rect x="847" y="671" width="1" height="16" fill="#c0c0c0"/>
<rect x="851" y="673" width="1" height="14" fill="#c0c0c0"/>
<rect x="855" y="676" width="1" height="11" fill="#c0c0c0"/>
<rect x="859" y="678" width="1" height="9" fill="#c0c0c0"/>
<rect x="863" y="681" width="1" height="6" fill="#c0c0c0"/>
<rect x="867" y="682" width="1" height="5" fill="#c0c0c0"/>
<rect x="871" y="684" width="1" height="3" fill="#c0c0c0"/>
<rect x="875" y="683" width="1" height="4" fill="#c0c0c0"/>
<rect x="879" y="682" width="1" height="5" fill="#c0c0c0"/>
<rect x="883" y="682" width="1" height="5" fill="#c0c0c0"/>
<rect x="887" y="683" width="1" height="4" fill="#c0c0c0"/>
<rect x="891" y="683" width="1" height="4" fill="#c0c0c0"/>
<rect x="895" y="681" width="1" height="6" fill="#c0c0c0"/>
<rect x="899" y="681" width="1" height="6" fill="#c0c0c0"/>
<rect x="903" y="682" width="1" height="5" fill="#c0c0c0"/>
<rect x="907" y="682" width="1" height="5" fill="#c0c0c0"/>
<rect x="911" y="681" width="1" height="6" fill="#c0c0c0"/>
<rect x="915" y="682" width="1" height="5" fill="#c0c0c0"/>
<rect x="919" y="684" width="1" height="3" fill="#c0c0c0"/>
<rect x="923" y="686" width="1" height="1" fill="#c0c0c0"/>
<rect x="927" y="686" width="1" height="2" fill="#c0c0c0"/>
<rect x="931" y="686" width="1" height="1" fill="#c0c0c0"/>
<rect x="935" y="686" width="1" height="1" fill="#c0c0c0"/>
<rect x="939" y="685" width="1" height="2" fill="#c0c0c0"/>
<rect x="943" y="685" width="1" height="2" fill="#c0c0c0"/>
<rect x="947" y="684" width="1" height="3" fill="#c0c0c0"/>
<rect x="951" y="685" width="1" height="2" fill="#c0c0c0"/>
<rect x="955" y="686" width="1" height="2" fill="#c0c0c0"/>
<rect x="959" y="686" width="1" height="3" fill="#c0c0c0"/>
<rect x="963" y="686" width="1" height="3" fill="#c0c0c0"/>
<rect x="967" y="686" width="1" height="3" fill="#c0c0c0"/>
<rect x="971" y="686" width="1" height="2" fill="#c0c0c0"/>
<rect x="975" y="686" width="1" height="1" fill="#c0c0c0"/>
<rect x="979" y="685" width="1" height="2" fill="#c0c0c0"/>
<rect x="983" y="684" width="1" height="3" fill="#c0c0c0"/>
<rect x="987" y="686" width="1" height="1" fill="#c0c0c0"/>
<rect x="991" y="686" width="1" height="3" fill="#c0c0c0"/>
<rect x="995" y="686" width="1" height="4" fill="#c0c0c0"/>
<rect x="999" y="686" width="1" height="5" fill="#c0c0c0"/>
<rect x="1003" y="686" width="1" height="4" fill="#c0c0c0"/>
<rect x="1007" y="686" width="1" height="4" fill="#c0c0c0"/>
<rect x="1011" y="686" width="1" height="4" fill="#c0c0c0"/>
<rect x="1015" y="686" width="1" height="6" fill="#c0c0c0"/>
<rect x="1019" y="686" width="1" height="8" fill="#c0c0c0"/>
<rect x="1023" y="686" width="1" height="10" fill="#c0c0c0"/>
<rect x="1027" y="686" width="1" height="11" fill="#c0c0c0"/>
<rect x="1031" y="686" width="1" height="12" fill="#c0c0c0"/>
<rect x="1035" y="686" width="1" height="15" fill="#c0c0c0"/>
<rect x="1039" y="686" width="1" height="18" fill="#c0c0c0"/>
<rect x="1043" y="686" width="1" height="21" fill="#c0c0c0"/>
<rect x="1047" y="686" width="1" height="23" fill="#c0c0c0"/>
<rect x="1051" y="686" width="1" height="25" fill="#c0c0c0"/>
<rect x="1055" y="686" width="1" height="27" fill="#c0c0c0"/>
<rect x="1059" y="686" width="1" height="28" fill="#c0c0c0"/>
<rect x="1063" y="686" width="1" height="28" fill="#c0c0c0"/>
<rect x="1067" y="686" width="1" height="29" fill="#c0c0c0"/>
<rect x="1071" y="686" width="1" height="26" fill="#c0c0c0"/>
<rect x="1075" y="686" width="1" height="24" fill="#c0c0c0"/>
<rect x="1079" y="686" width="1" height="21" fill="#c0c0c0"/>
<rect x="1083" y="686" width="1" height="19" fill="#c0c0c0"/>
<rect x="1087" y="686" width="1" height="18" fill="#c0c0c0"/>
<rect x="1091" y="686" width="1" height="16" fill="#c0c0c0"/>
<rect x="1095" y="686" width="1" height="15" fill="#c0c0c0"/>
<rect x="1099" y="686" width="1" height="13" fill="#c0c0c0"/>
<rect x="1103" y="686" width="1" height="12" fill="#c0c0c0"/>
<rect x="1107" y="686" width="1" height="12" fill="#c0c0c0"/>
<rect x="1111" y="686" width="1" height="12" fill="#c0c0c0"/>
<rect x="1115" y="686" width="1" height="11" fill="#c0c0c0"/>
<rect x="1119" y="686" width="1" height="9" fill="#c0c0c0"/>
<rect x="1123" y="686" width="1" height="7" fill="#c0c0c0"/>
<rect x="1127" y="686" width="1" height="5" fill="#c0c0c0"/>
<rect x="1131" y="686" width="1" height="4" fill="#c0c0c0"/>
<rect x="1135" y="686" width="1" height="4" fill="#c0c0c0"/>
<rect x="1139" y="686" width="1" height="4" fill="#c0c0c0"/>
<rect x="1143" y="686" width="1" height="4" fill="#c0c0c0"/>
<rect x="1147" y="686" width="1" height="5" fill="#c0c0c0"/>
<rect x="1151" y="686" width="1" height="5" fill="#c0c0c0"/>
<rect x="1155" y="686" width="1" height="6" fill="#c0c0c0"/>
<rect x="1159" y="686" width="1" height="5" fill="#c0c0c0"/>
<rect x="1163" y="686" width="1" height="6" fill="#c0c0c0"/>
<rect x="1167" y="686" width="1" height="5" fill="#c0c0c0"/>
<rect x="1171" y="686" width="1" height="5" fill="#c0c0c0"/>
<rect x="1175" y="686" width="1" height="4" fill="#c0c0c0"/>
<rect x="1179" y="686" width="1" height="4" fill="#c0c0c0"/>
<rect x="1183" y="686" width="1" height="4" fill="#c0c0c0"/>
<rect x="1187" y="686" width="1" height="4" fill="#c0c0c0"/>
<rect x="1191" y="686" width="1" height="5" fill="#c0c0c0"/>
<rect x="1195" y="686" width="1" height="4" fill="#c0c0c0"/>
<rect x="1199" y="686" width="1" height="4" fill="#c0c0c0"/>
<rect x="1203" y="686" width="1" height="4" fill="#c0c0c0"/>
<rect x="1207" y="686" width="1" height="6" fill="#c0c0c0"/>
<rect x="1211" y="686" width="1" height="7" fill="#c0c0c0"/>
<rect x="1215" y="686" width="1" height="9" fill="#c0c0c0"/>
<rect x="1219" y="686" width="1" height="10" fill="#c0c0c0"/>
<rect x="1223" y="686" width="1" height="10" fill="#c0c0c0"/>
<rect x="1227" y="686" width="1" height="11" fill="#c0c0c0"/>
<rect x="1231" y="686" width="1" height="11" fill="#c0c0c0"/>
<rect x="1235" y="686" width="1" height="12" fill="#c0c0c0"/>
<rect x="1239" y="686" width="1" height="11" fill="#c0c0c0"/>
<rect x="1243" y="686" width="1" height="11" fill="#c0c0c0"/>
<rect x="1247" y="686" width="1" height="11" fill="#c0c0c0"/>
<rect x="1251" y="686" width="1" height="10" fill="#c0c0c0"/>
<rect x="1255" y="686" width="1" height="10" fill="#c0c0c0"/>
<rect x="1259" y="686" width="1" height="12" fill="#c0c0c0"/>
<rect x="1263" y="686" width="1" height="12" fill="#c0c0c0"/>
<rect x="1267" y="686" width="1" height="12" fill="#c0c0c0"/>
</g>
<path clip-path="url(#cd)" d="M3 682h1v1h-1zM4 682h1v1h-1zM5 682h1v1h-1zM9 681h1v1h-1zM10 681h1v1h-1zM11 681h1v1h-1zM15 680h1v1h-1zM16 680h1v1h-1zM17 680h1v1h-1zM21 680h1v1h-1zM22 680h1v1h-1zM23 680h1v1h-1zM27 679h1v1h-1zM28 679h1v1h-1zM29 679h1v1h-1zM33 679h1v1h-1zM34 679h1v1h-1zM35 679h1v1h-1zM39 679h1v1h-1zM40 679h1v1h-1zM41 679h1v1h-1zM45 679h1v1h-1zM46 679h1v1h-1zM47 679h1v1h-1zM51 679h1v1h-1zM52 679h1v1h-1zM53 679h1v1h-1zM57 679h1v1h-1zM58 679h1v1h-1zM59 679h1v1h-1zM63 679h1v1h-1zM64 679h1v1h-1zM65 679h1v1h-1zM69 679h1v1h-1zM70 679h1v1h-1zM71 679h1v1h-1zM75 679h1v1h-1zM76 679h1v1h-1zM77 679h1v1h-1zM81 679h1v1h-1zM82 679h1v1h-1zM83 679h1v1h-1zM87 679h1v1h-1zM88 679h1v1h-1zM89 680h1v1h-1zM93 680h1v1h-1zM94 680h1v1h-1zM95 680h1v1h-1zM99 680h1v1h-1zM100 680h1v1h-1zM101 680h1v1h-1zM105 681h1v1h-1zM106 681h1v1h-1zM107 681h1v1h-1zM111 681h1v1h-1zM112 681h1v1h-1zM113 682h1v1h-1zM117 682h1v1h-1zM118 682h1v1h-1zM119 682h1v1h-1zM123 683h1v1h-1zM124 683h1v1h-1zM125 684h1v1h-1zM129 685h1v1h-1zM130 685h1v1h-1zM131 685h1v1h-1zM135 686h1v1h-1zM136 686h1v1h-1zM137 687h1v1h-1zM141 687h1v1h-1zM142 687h1v1h-1zM143 687h1v1h-1zM147 688h1v1h-1zM148 688h1v1h-1zM149 688h1v1h-1zM153 688h1v1h-1zM154 688h1v1h-1zM155 688h1v1h-1zM159 688h1v1h-1zM160 688h1v1h-1zM161 687h1v1h-1zM165 687h1v1h-1zM166 687h1v1h-1zM167 687h1v1h-1zM171 686h1v1h-1zM172 686h1v1h-1zM173 686h1v1h-1zM177 686h1v1h-1zM178 686h1v1h-1zM179 686h1v1h-1zM183 685h1v1h-1zM184 685h1v1h-1zM185 685h1v1h-1zM189 685h1v1h-1zM190 685h1v1h-1zM191 685h1v1h-1zM195 685h1v1h-1zM196 685h1v1h-1zM197 685h1v1h-1zM201 685h1v1h-1zM202 685h1v1h-1zM203 685h1v1h-1zM207 685h1v1h-1zM208 685h1v1h-1zM209 685h1v1h-1zM213 685h1v1h-1zM214 685h1v1h-1zM215 685h1v1h-1zM219 684h1v1h-1zM220 684h1v1h-1zM221 684h1v1h-1zM225 684h1v1h-1zM226 684h1v1h-1zM227 684h1v1h-1zM231 684h1v1h-1zM232 684h1v1h-1zM233 684h1v1h-1zM237 684h1v1h-1zM238 684h1v1h-1zM239 684h1v1h-1zM243 684h1v1h-1zM244 684h1v1h-1zM245 684h1v1h-1zM249 685h1v1h-1zM250 685h1v1h-1zM251 685h1v1h-1zM255 686h1v1h-1zM256 686h1v1h-1zM257 687h1v1h-1zM261 688h1v1h-1zM262 688h1v1h-1zM263 688h1v1h-1zM267 689h1v1h-1zM268 689h1v1h-1zM269 690h1v1h-1zM273 690h1v1h-1zM274 690h1v1h-1zM275 690h1v1h-1zM279 691h1v1h-1zM280 691h1v1h-1zM281 692h1v1h-1zM285 693h1v1h-1zM286 693h1v1h-1zM287 693h1v1h-1zM291 694h1v1h-1zM292 694h1v1h-1zM293 694h1v1h-1zM297 694h1v1h-1zM298 694h1v1h-1zM299 694h1v1h-1zM303 694h1v1h-1zM304 694h1v1h-1zM305 694h1v1h-1zM309 694h1v1h-1zM310 694h1v1h-1zM311 694h1v1h-1zM315 693h1v1h-1zM316 693h1v1h-1zM317 693h1v1h-1zM321 692h1v1h-1zM322 692h1v1h-1zM323 692h1v1h-1zM327 691h1v1h-1zM328 691h1v1h-1zM329 690h1v1h-1zM333 689h1v1h-1zM334 689h1v1h-1zM335 689h1v1h-1zM339 689h1v1h-1zM340 689h1v1h-1zM341 688h1v1h-1zM345 687h1v1h-1zM346 687h1v1h-1zM347 687h1v1h-1zM351 686h1v1h-1zM352 686h1v1h-1zM353 686h1v1h-1zM357 685h1v1h-1zM358 685h1v1h-1zM359 685h1v1h-1zM363 684h1v1h-1zM364 684h1v1h-1zM365 684h1v1h-1zM369 683h1v1h-1zM370 683h1v1h-1zM371 683h1v1h-1zM375 683h1v1h-1zM376 683h1v1h-1zM377 683h1v1h-1zM381 682h1v1h-1zM382 682h1v1h-1zM383 682h1v1h-1zM387 682h1v1h-1zM388 682h1v1h-1zM389 682h1v1h-1zM393 681h1v1h-1zM394 681h1v1h-1zM395 681h1v1h-1zM399 681h1v1h-1zM400 681h1v1h-1zM401 681h1v1h-1zM405 681h1v1h-1zM406 681h1v1h-1zM407 681h1v1h-1zM411 681h1v1h-1zM412 681h1v1h-1zM413 681h1v1h-1zM417 681h1v1h-1zM418 681h1v1h-1zM419 681h1v1h-1zM423 681h1v1h-1zM424 681h1v1h-1zM425 682h1v1h-1zM429 682h1v1h-1zM430 682h1v1h-1zM431 682h1v1h-1zM435 683h1v1h-1zM436 683h1v1h-1zM437 683h1v1h-1zM441 684h1v1h-1zM442 684h1v1h-1zM443 684h1v1h-1zM447 684h1v1h-1zM448 684h1v1h-1zM449 685h1v1h-1zM453 685h1v1h-1zM454 685h1v1h-1zM455 685h1v1h-1zM459 686h1v1h-1zM460 686h1v1h-1zM461 686h1v1h-1zM465 687h1v1h-1zM466 687h1v1h-1zM467 687h1v1h-1zM471 688h1v1h-1zM472 688h1v1h-1zM473 688h1v1h-1zM477 689h1v1h-1zM478 689h1v1h-1zM479 689h1v1h-1zM483 689h1v1h-1zM484 689h1v1h-1zM485 690h1v1h-1zM489 690h1v1h-1zM490 690h1v1h-1zM491 690h1v1h-1zM495 690h1v1h-1zM496 690h1v1h-1zM497 690h1v1h-1zM501 690h1v1h-1zM502 690h1v1h-1zM503 690h1v1h-1zM507 691h1v1h-1zM508 691h1v1h-1zM509 691h1v1h-1zM513 692h1v1h-1zM514 692h1v1h-1zM515 692h1v1h-1zM519 692h1v1h-1zM520 692h1v1h-1zM521 693h1v1h-1zM525 694h1v1h-1zM526 694h1v1h-1zM527 694h1v1h-1zM531 695h1v1h-1zM532 695h1v1h-1zM533 695h1v1h-1zM537 696h1v1h-1zM538 696h1v1h-1zM539 696h1v1h-1zM543 696h1v1h-1zM544 696h1v1h-1zM545 696h1v1h-1zM549 695h1v1h-1zM550 695h1v1h-1zM551 695h1v1h-1zM555 695h1v1h-1zM556 695h1v1h-1zM557 694h1v1h-1zM561 694h1v1h-1zM562 694h1v1h-1zM563 694h1v1h-1zM567 693h1v1h-1zM568 693h1v1h-1zM569 692h1v1h-1zM573 692h1v1h-1zM574 692h1v1h-1zM575 692h1v1h-1zM579 691h1v1h-1zM580 691h1v1h-1zM581 691h1v1h-1zM585 690h1v1h-1zM586 690h1v1h-1zM587 690h1v1h-1zM591 689h1v1h-1zM592 689h1v1h-1zM593 689h1v1h-1zM597 688h1v1h-1zM598 688h1v1h-1zM599 688h1v1h-1zM603 687h1v1h-1zM604 687h1v1h-1zM605 687h1v1h-1zM609 686h1v1h-1zM610 686h1v1h-1zM611 686h1v1h-1zM615 685h1v1h-1zM616 685h1v1h-1zM617 684h1v1h-1zM621 683h1v1h-1zM622 683h1v1h-1zM623 683h1v1h-1zM627 682h1v1h-1zM628 682h1v1h-1zM629 681h1v1h-1zM633 680h1v1h-1zM634 680h1v1h-1zM635 680h1v1h-1zM639 679h1v1h-1zM640 679h1v1h-1zM641 679h1v1h-1zM645 678h1v1h-1zM646 678h1v1h-1zM647 678h1v1h-1zM651 678h1v1h-1zM652 678h1v1h-1zM653 677h1v1h-1zM657 677h1v1h-1zM658 677h1v1h-1zM659 677h1v1h-1zM663 677h1v1h-1zM664 677h1v1h-1zM665 677h1v1h-1zM669 677h1v1h-1zM670 677h1v1h-1zM671 677h1v1h-1zM675 677h1v1h-1zM676 677h1v1h-1zM677 678h1v1h-1zM681 678h1v1h-1zM682 678h1v1h-1zM683 678h1v1h-1zM687 679h1v1h-1zM688 679h1v1h-1zM689 680h1v1h-1zM693 681h1v1h-1zM694 681h1v1h-1zM695 681h1v1h-1zM699 681h1v1h-1zM700 681h1v1h-1zM701 682h1v1h-1zM705 682h1v1h-1zM706 682h1v1h-1zM707 682h1v1h-1zM711 682h1v1h-1zM712 682h1v1h-1zM713 682h1v1h-1zM717 682h1v1h-1zM718 682h1v1h-1zM719 682h1v1h-1zM723 681h1v1h-1zM724 681h1v1h-1zM725 681h1v1h-1zM729 680h1v1h-1zM730 680h1v1h-1zM731 680h1v1h-1zM735 680h1v1h-1zM736 680h1v1h-1zM737 679h1v1h-1zM741 678h1v1h-1zM742 678h1v1h-1zM743 678h1v1h-1zM747 678h1v1h-1zM748 678h1v1h-1zM749 677h1v1h-1zM753 676h1v1h-1zM754 676h1v1h-1zM755 676h1v1h-1zM759 674h1v1h-1zM760 673h1v1h-1zM761 673h1v1h-1zM765 671h1v1h-1zM766 670h1v1h-1zM767 670h1v1h-1zM771 667h1v1h-1zM772 666h1v1h-1zM773 665h1v1h-1zM777 662h1v1h-1zM778 661h1v1h-1zM779 660h1v1h-1zM783 656h1v1h-1zM784 655h1v1h-1zM785 654h1v1h-1zM789 650h1v1h-1zM790 650h1v1h-1zM791 649h1v1h-1zM795 645h1v1h-1zM796 644h1v1h-1zM797 643h1v1h-1zM801 641h1v1h-1zM802 640h1v1h-1zM803 640h1v1h-1zM807 638h1v1h-1zM808 638h1v1h-1zM809 638h1v1h-1zM813 639h1v1h-1zM814 639h1v1h-1zM815 639h1v1h-1zM819 641h1v1h-1zM820 642h1v1h-1zM821 642h1v1h-1zM825 645h1v1h-1zM826 645h1v1h-1zM827 646h1v1h-1zM831 649h1v1h-1zM832 650h1v1h-1zM833 651h1v1h-1zM837 654h1v1h-1zM838 655h1v1h-1zM839 656h1v1h-1zM843 658h1v1h-1zM844 659h1v1h-1zM845 660h1v1h-1zM849 662h1v1h-1zM850 663h1v1h-1zM851 663h1v1h-1zM855 666h1v1h-1zM856 667h1v1h-1zM857 667h1v1h-1zM861 670h1v1h-1zM862 670h1v1h-1zM863 671h1v1h-1zM867 673h1v1h-1zM868 674h1v1h-1zM869 674h1v1h-1zM873 676h1v1h-1zM874 677h1v1h-1zM875 677h1v1h-1zM879 679h1v1h-1zM880 679h1v1h-1zM881 680h1v1h-1zM885 681h1v1h-1zM886 681h1v1h-1zM887 681h1v1h-1zM891 682h1v1h-1zM892 682h1v1h-1zM893 682h1v1h-1zM897 682h1v1h-1zM898 682h1v1h-1zM899 682h1v1h-1zM903 682h1v1h-1zM904 682h1v1h-1zM905 682h1v1h-1zM909 682h1v1h-1zM910 682h1v1h-1zM911 682h1v1h-1zM915 682h1v1h-1zM916 682h1v1h-1zM917 682h1v1h-1zM921 682h1v1h-1zM922 682h1v1h-1zM923 682h1v1h-1zM927 683h1v1h-1zM928 683h1v1h-1zM929 683h1v1h-1zM933 684h1v1h-1zM934 684h1v1h-1zM935 684h1v1h-1zM939 684h1v1h-1zM940 684h1v1h-1zM941 685h1v1h-1zM945 685h1v1h-1zM946 685h1v1h-1zM947 685h1v1h-1zM951 685h1v1h-1zM952 685h1v1h-1zM953 686h1v1h-1zM957 686h1v1h-1zM958 686h1v1h-1zM959 686h1v1h-1zM963 686h1v1h-1zM964 686h1v1h-1zM965 686h1v1h-1zM969 686h1v1h-1zM970 686h1v1h-1zM971 686h1v1h-1zM975 687h1v1h-1zM976 687h1v1h-1zM977 686h1v1h-1zM981 687h1v1h-1zM982 687h1v1h-1zM983 687h1v1h-1zM987 687h1v1h-1zM988 687h1v1h-1zM989 687h1v1h-1zM993 687h1v1h-1zM994 687h1v1h-1zM995 687h1v1h-1zM999 687h1v1h-1zM1000 687h1v1h-1zM1001 687h1v1h-1zM1005 687h1v1h-1zM1006 687h1v1h-1zM1007 687h1v1h-1zM1011 688h1v1h-1zM1012 688h1v1h-1zM1013 688h1v1h-1zM1017 689h1v1h-1zM1018 689h1v1h-1zM1019 689h1v1h-1zM1023 690h1v1h-1zM1024 690h1v1h-1zM1025 691h1v1h-1zM1029 692h1v1h-1zM1030 692h1v1h-1zM1031 692h1v1h-1zM1035 693h1v1h-1zM1036 694h1v1h-1zM1037 694h1v1h-1zM1041 696h1v1h-1zM1042 697h1v1h-1zM1043 697h1v1h-1zM1047 699h1v1h-1zM1048 700h1v1h-1zM1049 700h1v1h-1zM1053 702h1v1h-1zM1054 703h1v1h-1zM1055 703h1v1h-1zM1059 705h1v1h-1zM1060 706h1v1h-1zM1061 706h1v1h-1zM1065 708h1v1h-1zM1066 709h1v1h-1zM1067 709h1v1h-1zM1071 710h1v1h-1zM1072 710h1v1h-1zM1073 711h1v1h-1zM1077 711h1v1h-1zM1078 711h1v1h-1zM1079 711h1v1h-1zM1083 710h1v1h-1zM1084 710h1v1h-1zM1085 709h1v1h-1zM1089 708h1v1h-1zM1090 708h1v1h-1zM1091 708h1v1h-1zM1095 707h1v1h-1zM1096 706h1v1h-1zM1097 706h1v1h-1zM1101 704h1v1h-1zM1102 703h1v1h-1zM1103 703h1v1h-1zM1107 702h1v1h-1zM1108 701h1v1h-1zM1109 701h1v1h-1zM1113 699h1v1h-1zM1114 699h1v1h-1zM1115 699h1v1h-1zM1119 698h1v1h-1zM1120 698h1v1h-1zM1121 697h1v1h-1zM1125 696h1v1h-1zM1126 696h1v1h-1zM1127 696h1v1h-1zM1131 694h1v1h-1zM1132 694h1v1h-1zM1133 693h1v1h-1zM1137 692h1v1h-1zM1138 692h1v1h-1zM1139 692h1v1h-1zM1143 692h1v1h-1zM1144 692h1v1h-1zM1145 691h1v1h-1zM1149 690h1v1h-1zM1150 690h1v1h-1zM1151 690h1v1h-1zM1155 690h1v1h-1zM1156 690h1v1h-1zM1157 690h1v1h-1zM1161 690h1v1h-1zM1162 690h1v1h-1zM1163 690h1v1h-1zM1167 690h1v1h-1zM1168 690h1v1h-1zM1169 690h1v1h-1zM1173 690h1v1h-1zM1174 690h1v1h-1zM1175 690h1v1h-1zM1179 690h1v1h-1zM1180 690h1v1h-1zM1181 690h1v1h-1zM1185 690h1v1h-1zM1186 690h1v1h-1zM1187 690h1v1h-1zM1191 690h1v1h-1zM1192 690h1v1h-1zM1193 690h1v1h-1zM1197 689h1v1h-1zM1198 689h1v1h-1zM1199 689h1v1h-1zM1203 689h1v1h-1zM1204 689h1v1h-1zM1205 689h1v1h-1zM1209 690h1v1h-1zM1210 690h1v1h-1zM1211 690h1v1h-1zM1215 690h1v1h-1zM1216 690h1v1h-1zM1217 691h1v1h-1zM1221 692h1v1h-1zM1222 692h1v1h-1zM1223 692h1v1h-1zM1227 692h1v1h-1zM1228 692h1v1h-1zM1229 693h1v1h-1zM1233 694h1v1h-1zM1234 694h1v1h-1zM1235 694h1v1h-1zM1239 695h1v1h-1zM1240 695h1v1h-1zM1241 695h1v1h-1zM1245 696h1v1h-1zM1246 696h1v1h-1zM1247 696h1v1h-1zM1251 696h1v1h-1zM1252 696h1v1h-1zM1253 696h1v1h-1zM1257 696h1v1h-1zM1258 696h1v1h-1zM1259 696h1v1h-1zM1263 696h1v1h-1zM1264 696h1v1h-1zM1265 696h1v1h-1z" fill="#ff0000" shape-rendering="crispEdges"/>
<g shape-rendering="crispEdges">
<rect x="1597" y="414" width="41" height="12" fill="#000"/>
</g>
<text x="1601" y="36" font-size="10" fill="#000" stroke="#000" stroke-width="0.1" text-rendering="geometricPrecision" textLength="33" lengthAdjust="spacingAndGlyphs">1.47340</text>
<text x="1601" y="69" font-size="10" fill="#000" stroke="#000" stroke-width="0.1" text-rendering="geometricPrecision" textLength="33" lengthAdjust="spacingAndGlyphs">1.46115</text>
<text x="1601" y="102" font-size="10" fill="#000" stroke="#000" stroke-width="0.1" text-rendering="geometricPrecision" textLength="33" lengthAdjust="spacingAndGlyphs">1.44890</text>
<text x="1601" y="135" font-size="10" fill="#000" stroke="#000" stroke-width="0.1" text-rendering="geometricPrecision" textLength="33" lengthAdjust="spacingAndGlyphs">1.43700</text>
<text x="1601" y="168" font-size="10" fill="#000" stroke="#000" stroke-width="0.1" text-rendering="geometricPrecision" textLength="33" lengthAdjust="spacingAndGlyphs">1.42475</text>
<text x="1601" y="201" font-size="10" fill="#000" stroke="#000" stroke-width="0.1" text-rendering="geometricPrecision" textLength="33" lengthAdjust="spacingAndGlyphs">1.41285</text>
<text x="1601" y="234" font-size="10" fill="#000" stroke="#000" stroke-width="0.1" text-rendering="geometricPrecision" textLength="33" lengthAdjust="spacingAndGlyphs">1.40060</text>
<text x="1601" y="267" font-size="10" fill="#000" stroke="#000" stroke-width="0.1" text-rendering="geometricPrecision" textLength="33" lengthAdjust="spacingAndGlyphs">1.38835</text>
<text x="1601" y="300" font-size="10" fill="#000" stroke="#000" stroke-width="0.1" text-rendering="geometricPrecision" textLength="33" lengthAdjust="spacingAndGlyphs">1.37645</text>
<text x="1601" y="333" font-size="10" fill="#000" stroke="#000" stroke-width="0.1" text-rendering="geometricPrecision" textLength="33" lengthAdjust="spacingAndGlyphs">1.36420</text>
<text x="1601" y="366" font-size="10" fill="#000" stroke="#000" stroke-width="0.1" text-rendering="geometricPrecision" textLength="33" lengthAdjust="spacingAndGlyphs">1.35230</text>
<text x="1601" y="399" font-size="10" fill="#000" stroke="#000" stroke-width="0.1" text-rendering="geometricPrecision" textLength="33" lengthAdjust="spacingAndGlyphs">1.34005</text>
<text x="1601" y="432" font-size="10" fill="#000" stroke="#000" stroke-width="0.1" text-rendering="geometricPrecision" textLength="33" lengthAdjust="spacingAndGlyphs">1.32780</text>
<text x="1601" y="465" font-size="10" fill="#000" stroke="#000" stroke-width="0.1" text-rendering="geometricPrecision" textLength="33" lengthAdjust="spacingAndGlyphs">1.31590</text>
<text x="1601" y="498" font-size="10" fill="#000" stroke="#000" stroke-width="0.1" text-rendering="geometricPrecision" textLength="33" lengthAdjust="spacingAndGlyphs">1.30365</text>
<text x="1601" y="531" font-size="10" fill="#000" stroke="#000" stroke-width="0.1" text-rendering="geometricPrecision" textLength="33" lengthAdjust="spacingAndGlyphs">1.29175</text>
<text x="1601" y="425" font-size="10" fill="#fff" stroke="#fff" stroke-width="0.1" text-rendering="geometricPrecision" textLength="33" lengthAdjust="spacingAndGlyphs">1.33107</text>
<g shape-rendering="crispEdges">
<rect x="1597" y="197" width="41" height="11" fill="#ff0000"/>
<rect x="1597" y="268" width="41" height="11" fill="#ff0000"/>
<rect x="1597" y="334" width="41" height="11" fill="#00ff00"/>
<rect x="1597" y="416" width="41" height="11" fill="#0000ff"/>
<rect x="1597" y="498" width="41" height="11" fill="#0000ff"/>
</g>
<text x="1601" y="206" font-size="10" fill="#fff" stroke="#fff" stroke-width="0.1" text-rendering="geometricPrecision" textLength="33" lengthAdjust="spacingAndGlyphs">1.41060</text>
<text x="1601" y="277" font-size="10" fill="#fff" stroke="#fff" stroke-width="0.1" text-rendering="geometricPrecision" textLength="33" lengthAdjust="spacingAndGlyphs">1.38464</text>
<text x="1601" y="343" font-size="10" fill="#fff" stroke="#fff" stroke-width="0.1" text-rendering="geometricPrecision" textLength="33" lengthAdjust="spacingAndGlyphs">1.36015</text>
<text x="1601" y="425" font-size="10" fill="#fff" stroke="#fff" stroke-width="0.1" text-rendering="geometricPrecision" textLength="33" lengthAdjust="spacingAndGlyphs">1.33011</text>
<text x="1601" y="507" font-size="10" fill="#fff" stroke="#fff" stroke-width="0.1" text-rendering="geometricPrecision" textLength="33" lengthAdjust="spacingAndGlyphs">1.30020</text>
<text x="1599" y="543" font-size="10" fill="#000" stroke="#000" stroke-width="0.1" text-rendering="geometricPrecision" textLength="15" lengthAdjust="spacingAndGlyphs">100</text>
<text x="1599" y="564" font-size="10" fill="#000" stroke="#000" stroke-width="0.1" text-rendering="geometricPrecision" textLength="10.5" lengthAdjust="spacingAndGlyphs">70</text>
<text x="1599" y="600" font-size="10" fill="#000" stroke="#000" stroke-width="0.1" text-rendering="geometricPrecision" textLength="10.5" lengthAdjust="spacingAndGlyphs">30</text>
<text x="1599" y="621" font-size="10" fill="#000" stroke="#000" stroke-width="0.1" text-rendering="geometricPrecision" textLength="5.5" lengthAdjust="spacingAndGlyphs">0</text>
<text x="1599" y="637.5" font-size="10" fill="#000" stroke="#000" stroke-width="0.1" text-rendering="geometricPrecision" textLength="37.5" lengthAdjust="spacingAndGlyphs">0.032972</text>
<text x="1599" y="689.5" font-size="10" fill="#000" stroke="#000" stroke-width="0.1" text-rendering="geometricPrecision" textLength="18.5" lengthAdjust="spacingAndGlyphs">0.00</text>
<text x="1599" y="715.5" font-size="10" fill="#000" stroke="#000" stroke-width="0.1" text-rendering="geometricPrecision" textLength="42" lengthAdjust="spacingAndGlyphs">-0.018154</text>
<polygon points="6,32 13,32 9.5,36" fill="#000"/>
<text x="18.2" y="37" font-size="10" fill="#000" stroke="#000" stroke-width="0.1" text-rendering="geometricPrecision" textLength="66" lengthAdjust="spacingAndGlyphs">USDCAD,Daily</text>
<text x="90.5" y="37" font-size="10" fill="#000" stroke="#000" stroke-width="0.1" text-rendering="geometricPrecision" textLength="32.4" lengthAdjust="spacingAndGlyphs">1.32855</text>
<text x="126.3" y="37" font-size="10" fill="#000" stroke="#000" stroke-width="0.1" text-rendering="geometricPrecision" textLength="32.4" lengthAdjust="spacingAndGlyphs">1.33242</text>
<text x="162.1" y="37" font-size="10" fill="#000" stroke="#000" stroke-width="0.1" text-rendering="geometricPrecision" textLength="32.4" lengthAdjust="spacingAndGlyphs">1.32728</text>
<text x="197.9" y="37" font-size="10" fill="#000" stroke="#000" stroke-width="0.1" text-rendering="geometricPrecision" textLength="33.1" lengthAdjust="spacingAndGlyphs">1.33107</text>
<text x="7" y="545" font-size="10" fill="#000" stroke="#000" stroke-width="0.1" text-rendering="geometricPrecision" textLength="32.5" lengthAdjust="spacingAndGlyphs">RSI(14)</text>
<text x="41.8" y="545" font-size="10" fill="#000" stroke="#000" stroke-width="0.1" text-rendering="geometricPrecision" textLength="33.5" lengthAdjust="spacingAndGlyphs">38.0143</text>
<text x="7" y="639" font-size="10" fill="#000" stroke="#000" stroke-width="0.1" text-rendering="geometricPrecision" textLength="66.5" lengthAdjust="spacingAndGlyphs">MACD(12,26,9)</text>
<text x="76" y="639" font-size="10" fill="#000" stroke="#000" stroke-width="0.1" text-rendering="geometricPrecision" textLength="41.5" lengthAdjust="spacingAndGlyphs">-0.006499</text>
<text x="119.6" y="639" font-size="10" fill="#000" stroke="#000" stroke-width="0.1" text-rendering="geometricPrecision" textLength="41.8" lengthAdjust="spacingAndGlyphs">-0.005812</text>
<polygon points="1271,26 1280.5,26 1275.75,31" fill="#c0c0c0"/>
<text x="1.2" y="731" font-size="10" fill="#000" stroke="#000" stroke-width="0.1" text-rendering="geometricPrecision" textLength="49.2" lengthAdjust="spacingAndGlyphs">5 Aug 2019</text>
<text x="65.3" y="731" font-size="10" fill="#000" stroke="#000" stroke-width="0.1" text-rendering="geometricPrecision" textLength="54.0" lengthAdjust="spacingAndGlyphs">23 Aug 2019</text>
<text x="129.8" y="731" font-size="10" fill="#000" stroke="#000" stroke-width="0.1" text-rendering="geometricPrecision" textLength="52.7" lengthAdjust="spacingAndGlyphs">11 Sep 2019</text>
<text x="193.5" y="731" font-size="10" fill="#000" stroke="#000" stroke-width="0.1" text-rendering="geometricPrecision" textLength="53.1" lengthAdjust="spacingAndGlyphs">30 Sep 2019</text>
<text x="257.5" y="731" font-size="10" fill="#000" stroke="#000" stroke-width="0.1" text-rendering="geometricPrecision" textLength="52.0" lengthAdjust="spacingAndGlyphs">18 Oct 2019</text>
<text x="321.4" y="731" font-size="10" fill="#000" stroke="#000" stroke-width="0.1" text-rendering="geometricPrecision" textLength="50.1" lengthAdjust="spacingAndGlyphs">6 Nov 2019</text>
<text x="385.5" y="731" font-size="10" fill="#000" stroke="#000" stroke-width="0.1" text-rendering="geometricPrecision" textLength="54.9" lengthAdjust="spacingAndGlyphs">25 Nov 2019</text>
<text x="450.1" y="731" font-size="10" fill="#000" stroke="#000" stroke-width="0.1" text-rendering="geometricPrecision" textLength="52.6" lengthAdjust="spacingAndGlyphs">13 Dec 2019</text>
<text x="514.0" y="731" font-size="10" fill="#000" stroke="#000" stroke-width="0.1" text-rendering="geometricPrecision" textLength="45.2" lengthAdjust="spacingAndGlyphs">1 Jan 2020</text>
<text x="578.1" y="731" font-size="10" fill="#000" stroke="#000" stroke-width="0.1" text-rendering="geometricPrecision" textLength="50.0" lengthAdjust="spacingAndGlyphs">20 Jan 2020</text>
<text x="641.6" y="731" font-size="10" fill="#000" stroke="#000" stroke-width="0.1" text-rendering="geometricPrecision" textLength="47.5" lengthAdjust="spacingAndGlyphs">7 Feb 2020</text>
<text x="705.5" y="731" font-size="10" fill="#000" stroke="#000" stroke-width="0.1" text-rendering="geometricPrecision" textLength="51.6" lengthAdjust="spacingAndGlyphs">26 Feb 2020</text>
<text x="770.1" y="731" font-size="10" fill="#000" stroke="#000" stroke-width="0.1" text-rendering="geometricPrecision" textLength="52.6" lengthAdjust="spacingAndGlyphs">16 Mar 2020</text>
<text x="833.6" y="731" font-size="10" fill="#000" stroke="#000" stroke-width="0.1" text-rendering="geometricPrecision" textLength="46.6" lengthAdjust="spacingAndGlyphs">3 Apr 2020</text>
<text x="898.1" y="731" font-size="10" fill="#000" stroke="#000" stroke-width="0.1" text-rendering="geometricPrecision" textLength="51.0" lengthAdjust="spacingAndGlyphs">22 Apr 2020</text>
<text x="961.6" y="731" font-size="10" fill="#000" stroke="#000" stroke-width="0.1" text-rendering="geometricPrecision" textLength="55.3" lengthAdjust="spacingAndGlyphs">11 May 2020</text>
<text x="1025.7" y="731" font-size="10" fill="#000" stroke="#000" stroke-width="0.1" text-rendering="geometricPrecision" textLength="55.9" lengthAdjust="spacingAndGlyphs">29 May 2020</text>
<text x="1089.7" y="731" font-size="10" fill="#000" stroke="#000" stroke-width="0.1" text-rendering="geometricPrecision" textLength="50.5" lengthAdjust="spacingAndGlyphs">17 Jun 2020</text>
<text x="1153.2" y="731" font-size="10" fill="#000" stroke="#000" stroke-width="0.1" text-rendering="geometricPrecision" textLength="43.2" lengthAdjust="spacingAndGlyphs">6 Jul 2020</text>
<text x="1217.7" y="731" font-size="10" fill="#000" stroke="#000" stroke-width="0.1" text-rendering="geometricPrecision" textLength="47.5" lengthAdjust="spacingAndGlyphs">24 Jul 2020</text>
<g shape-rendering="crispEdges">
<rect x="0" y="739" width="1638" height="1" fill="#e3e3e3"/>
<rect x="0" y="741" width="1638" height="1" fill="#000"/>
<rect x="0" y="742" width="1638" height="18" fill="#f0f0f0"/>
<rect x="0" y="760" width="1638" height="5" fill="#f4f4f4"/>
<rect x="0" y="765" width="1638" height="1" fill="#a0a0a0"/>
<rect x="187" y="766" width="1" height="5" fill="#e4e4e4"/>
<rect x="317" y="766" width="1" height="5" fill="#e4e4e4"/>
<rect x="418" y="766" width="1" height="5" fill="#e4e4e4"/>
<rect x="547" y="766" width="1" height="5" fill="#e4e4e4"/>
<rect x="692" y="766" width="1" height="5" fill="#e4e4e4"/>
<rect x="838" y="766" width="1" height="5" fill="#e4e4e4"/>
<rect x="983" y="766" width="1" height="5" fill="#e4e4e4"/>
<rect x="1128" y="766" width="1" height="5" fill="#e4e4e4"/>
<rect x="1273" y="766" width="1" height="5" fill="#e4e4e4"/>
<rect x="1418" y="766" width="1" height="5" fill="#e4e4e4"/>
<rect x="313" y="741" width="102" height="18" fill="#ffffff"/>
<rect x="312" y="741" width="1" height="19" fill="#000"/>
<rect x="415" y="741" width="1" height="19" fill="#000"/>
<rect x="312" y="759" width="104" height="1" fill="#000"/>
<rect x="108" y="744" width="1" height="14" fill="#6a6a6a"/>
<rect x="208" y="744" width="1" height="14" fill="#6a6a6a"/>
<rect x="520" y="744" width="1" height="14" fill="#6a6a6a"/>
<rect x="620" y="744" width="1" height="14" fill="#6a6a6a"/>
<rect x="720" y="744" width="1" height="14" fill="#6a6a6a"/>
<rect x="817" y="744" width="1" height="14" fill="#6a6a6a"/>
<rect x="888" y="744" width="1" height="14" fill="#6a6a6a"/>
<rect x="968" y="744" width="1" height="14" fill="#6a6a6a"/>
<rect x="1048" y="744" width="1" height="14" fill="#6a6a6a"/>
<rect x="1128" y="744" width="1" height="14" fill="#6a6a6a"/>
<rect x="1204" y="744" width="1" height="14" fill="#6a6a6a"/>
<rect x="1288" y="744" width="1" height="14" fill="#6a6a6a"/>
<rect x="1372" y="744" width="1" height="14" fill="#6a6a6a"/>
<rect x="1452" y="744" width="1" height="14" fill="#6a6a6a"/>
<rect x="1552" y="744" width="1" height="14" fill="#6a6a6a"/>
</g>
<text x="15.8" y="756" font-size="12.4" fill="#707070" stroke="#707070" stroke-width="0" text-rendering="geometricPrecision" textLength="80.3" lengthAdjust="spacingAndGlyphs">EURUSD,Daily</text>
<text x="117.4" y="756" font-size="12.4" fill="#707070" stroke="#707070" stroke-width="0" text-rendering="geometricPrecision" textLength="79.9" lengthAdjust="spacingAndGlyphs">USDCHF,Daily</text>
<text x="218.4" y="756" font-size="12.4" fill="#707070" stroke="#707070" stroke-width="0" text-rendering="geometricPrecision" textLength="82.8" lengthAdjust="spacingAndGlyphs">AUDUSD,Daily</text>
<text x="322.9" y="756" font-size="12.4" fill="#000" stroke="#000" stroke-width="0" text-rendering="geometricPrecision" textLength="81.3" lengthAdjust="spacingAndGlyphs">USDCAD,Daily</text>
<text x="425.7" y="756" font-size="12.4" fill="#707070" stroke="#707070" stroke-width="0" text-rendering="geometricPrecision" textLength="83.5" lengthAdjust="spacingAndGlyphs">USDCNH,Daily</text>
<text x="530.7" y="756" font-size="12.4" fill="#707070" stroke="#707070" stroke-width="0" text-rendering="geometricPrecision" textLength="77.9" lengthAdjust="spacingAndGlyphs">EURUSD,M15</text>
<text x="630.1" y="756" font-size="12.4" fill="#707070" stroke="#707070" stroke-width="0" text-rendering="geometricPrecision" textLength="79.3" lengthAdjust="spacingAndGlyphs">GBPUSD,M30</text>
<text x="731.2" y="756" font-size="12.4" fill="#707070" stroke="#707070" stroke-width="0" text-rendering="geometricPrecision" textLength="73.0" lengthAdjust="spacingAndGlyphs">XAUUSD,M5</text>
<text x="826.5" y="756" font-size="12.4" fill="#707070" stroke="#707070" stroke-width="0" text-rendering="geometricPrecision" textLength="50.3" lengthAdjust="spacingAndGlyphs">HK50,H1</text>
<text x="898.2" y="756" font-size="12.4" fill="#707070" stroke="#707070" stroke-width="0" text-rendering="geometricPrecision" textLength="58.0" lengthAdjust="spacingAndGlyphs">UK100,H1</text>
<text x="978.5" y="756" font-size="12.4" fill="#707070" stroke="#707070" stroke-width="0" text-rendering="geometricPrecision" textLength="57.7" lengthAdjust="spacingAndGlyphs">UK100,H1</text>
<text x="1058.5" y="756" font-size="12.4" fill="#707070" stroke="#707070" stroke-width="0" text-rendering="geometricPrecision" textLength="57.0" lengthAdjust="spacingAndGlyphs">GER30,H1</text>
<text x="1137.2" y="756" font-size="12.4" fill="#707070" stroke="#707070" stroke-width="0" text-rendering="geometricPrecision" textLength="56.2" lengthAdjust="spacingAndGlyphs">FRA40,H1</text>
<text x="1213.4" y="756" font-size="12.4" fill="#707070" stroke="#707070" stroke-width="0" text-rendering="geometricPrecision" textLength="64.0" lengthAdjust="spacingAndGlyphs">USOil,Daily</text>
<text x="1297.6" y="756" font-size="12.4" fill="#707070" stroke="#707070" stroke-width="0" text-rendering="geometricPrecision" textLength="63.2" lengthAdjust="spacingAndGlyphs">USDJPY,H1</text>
<text x="1382.4" y="756" font-size="12.4" fill="#707070" stroke="#707070" stroke-width="0" text-rendering="geometricPrecision" textLength="57.3" lengthAdjust="spacingAndGlyphs">DJ30,M15</text>
<text x="1461.2" y="756" font-size="12.4" fill="#707070" stroke="#707070" stroke-width="0" text-rendering="geometricPrecision" textLength="80.2" lengthAdjust="spacingAndGlyphs">CHINA300,H4</text>
<text x="1561.5" y="756" font-size="12.4" fill="#707070" stroke="#707070" stroke-width="0" text-rendering="geometricPrecision" textLength="44.5" lengthAdjust="spacingAndGlyphs">USOil,H</text>
<polygon points="1614,747 1614,753.5 1610,750.2" fill="#a0a0a0"/>
<polygon points="1629.5,746.8 1629.5,753.5 1633.5,750.2" fill="#000"/>
</svg>
</body></html>
